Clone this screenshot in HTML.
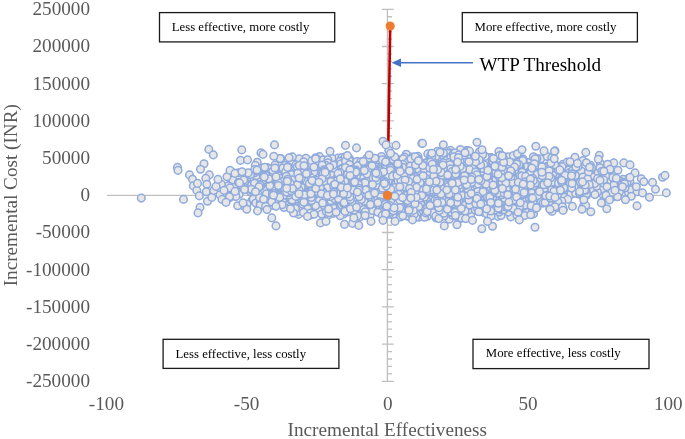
<!DOCTYPE html>
<html><head><meta charset="utf-8"><title>chart</title>
<style>html,body{margin:0;padding:0;background:#fff}svg{display:block}text{font-family:"Liberation Serif",serif}.c circle{r:3.8px}</style>
</head><body>
<svg width="685" height="439" viewBox="0 0 685 439" style="will-change:transform">
<rect width="685" height="439" fill="#fff"/>
<g font-size="19.2" fill="#595959"><text x="90" y="15.2" text-anchor="end">250000</text><text x="90" y="52.4" text-anchor="end">200000</text><text x="90" y="89.6" text-anchor="end">150000</text><text x="90" y="126.8" text-anchor="end">100000</text><text x="90" y="164.0" text-anchor="end">50000</text><text x="90" y="201.2" text-anchor="end">0</text><text x="90" y="238.4" text-anchor="end">-50000</text><text x="90" y="275.6" text-anchor="end">-100000</text><text x="90" y="312.8" text-anchor="end">-150000</text><text x="90" y="350.0" text-anchor="end">-200000</text><text x="90" y="387.2" text-anchor="end">-250000</text><text x="106.4" y="409.6" text-anchor="middle">-100</text><text x="246.6" y="409.6" text-anchor="middle">-50</text><text x="387.8" y="409.6" text-anchor="middle">0</text><text x="528.0" y="409.6" text-anchor="middle">50</text><text x="668.3" y="409.6" text-anchor="middle">100</text>
<text x="387.3" y="436.4" text-anchor="middle">Incremental Effectiveness</text>
<text transform="translate(17,195.2) rotate(-90)" text-anchor="middle">Incremental Cost (INR)</text>
</g>
<g stroke="#bfbfbf" stroke-width="1.3" fill="none">
<path d="M107 195.3H668.5"/>
<path d="M387.4 9.3V381.3"/>
<path d="M381.9 9.30H393.8M387.4 16.74H392M387.4 24.18H392M387.4 31.62H392M387.4 39.06H392M381.9 46.50H393.8M387.4 53.94H392M387.4 61.38H392M387.4 68.82H392M387.4 76.26H392M381.9 83.70H393.8M387.4 91.14H392M387.4 98.58H392M387.4 106.02H392M387.4 113.46H392M381.9 120.90H393.8M387.4 128.34H392M387.4 135.78H392M387.4 143.22H392M387.4 150.66H392M381.9 158.10H393.8M387.4 165.54H392M387.4 172.98H392M387.4 180.42H392M387.4 187.86H392M381.9 195.30H393.8M387.4 202.74H392M387.4 210.18H392M387.4 217.62H392M387.4 225.06H392M381.9 232.50H393.8M387.4 239.94H392M387.4 247.38H392M387.4 254.82H392M387.4 262.26H392M381.9 269.70H393.8M387.4 277.14H392M387.4 284.58H392M387.4 292.02H392M387.4 299.46H392M381.9 306.90H393.8M387.4 314.34H392M387.4 321.78H392M387.4 329.22H392M387.4 336.66H392M381.9 344.10H393.8M387.4 351.54H392M387.4 358.98H392M387.4 366.42H392M387.4 373.86H392M381.9 381.30H393.8"/>
</g>
<path d="M390.2 26L387.5 195.3" stroke="#c00000" stroke-width="2.6" fill="none"/>
<g fill="#e7e6e6" stroke="#8faadc" stroke-width="1.5" class="c"><circle cx="361.9" cy="181.5"/><circle cx="491.6" cy="175.2"/><circle cx="391.9" cy="199.3"/><circle cx="396.0" cy="181.3"/><circle cx="465.9" cy="156.2"/><circle cx="484.4" cy="209.8"/><circle cx="574.3" cy="175.4"/><circle cx="407.1" cy="213.5"/><circle cx="463.8" cy="201.9"/><circle cx="379.8" cy="173.0"/><circle cx="360.5" cy="202.2"/><circle cx="491.0" cy="157.6"/><circle cx="468.9" cy="187.3"/><circle cx="474.1" cy="162.1"/><circle cx="320.2" cy="184.5"/><circle cx="502.4" cy="160.2"/><circle cx="403.3" cy="196.7"/><circle cx="316.1" cy="191.6"/><circle cx="460.1" cy="176.5"/><circle cx="405.5" cy="160.6"/><circle cx="510.4" cy="196.5"/><circle cx="380.5" cy="192.8"/><circle cx="503.4" cy="200.7"/><circle cx="416.5" cy="172.0"/><circle cx="298.5" cy="214.4"/><circle cx="308.1" cy="209.9"/><circle cx="441.6" cy="181.8"/><circle cx="297.6" cy="186.6"/><circle cx="319.4" cy="189.7"/><circle cx="320.7" cy="195.2"/><circle cx="377.7" cy="192.6"/><circle cx="392.3" cy="189.3"/><circle cx="499.6" cy="184.6"/><circle cx="362.4" cy="197.3"/><circle cx="403.5" cy="183.0"/><circle cx="410.5" cy="187.7"/><circle cx="482.7" cy="197.7"/><circle cx="364.3" cy="196.9"/><circle cx="398.0" cy="199.9"/><circle cx="431.0" cy="187.9"/><circle cx="309.3" cy="200.3"/><circle cx="492.4" cy="215.2"/><circle cx="396.5" cy="193.5"/><circle cx="490.3" cy="169.9"/><circle cx="264.5" cy="176.6"/><circle cx="473.0" cy="171.1"/><circle cx="542.6" cy="191.4"/><circle cx="454.2" cy="176.4"/><circle cx="389.3" cy="169.5"/><circle cx="448.3" cy="175.5"/><circle cx="427.3" cy="172.1"/><circle cx="578.2" cy="192.6"/><circle cx="354.5" cy="203.5"/><circle cx="302.3" cy="191.7"/><circle cx="325.4" cy="178.1"/><circle cx="417.2" cy="172.1"/><circle cx="431.2" cy="211.6"/><circle cx="324.3" cy="160.3"/><circle cx="364.9" cy="176.4"/><circle cx="434.1" cy="176.8"/><circle cx="498.9" cy="178.2"/><circle cx="332.2" cy="175.8"/><circle cx="391.5" cy="179.1"/><circle cx="458.8" cy="209.7"/><circle cx="306.4" cy="185.6"/><circle cx="463.3" cy="174.7"/><circle cx="365.8" cy="204.7"/><circle cx="510.1" cy="188.7"/><circle cx="430.1" cy="194.5"/><circle cx="319.5" cy="156.6"/><circle cx="415.9" cy="175.6"/><circle cx="564.2" cy="188.7"/><circle cx="482.3" cy="200.6"/><circle cx="455.9" cy="200.0"/><circle cx="443.8" cy="188.8"/><circle cx="437.6" cy="180.8"/><circle cx="374.4" cy="160.0"/><circle cx="377.2" cy="189.8"/><circle cx="454.1" cy="203.4"/><circle cx="390.3" cy="197.0"/><circle cx="530.7" cy="178.6"/><circle cx="529.2" cy="184.2"/><circle cx="394.7" cy="159.9"/><circle cx="617.9" cy="170.2"/><circle cx="582.7" cy="196.0"/><circle cx="601.7" cy="202.7"/><circle cx="493.9" cy="170.7"/><circle cx="354.5" cy="186.5"/><circle cx="473.3" cy="205.4"/><circle cx="508.7" cy="167.3"/><circle cx="582.9" cy="183.5"/><circle cx="327.6" cy="193.2"/><circle cx="525.7" cy="171.6"/><circle cx="416.2" cy="209.9"/><circle cx="376.7" cy="193.5"/><circle cx="392.4" cy="186.5"/><circle cx="448.4" cy="184.3"/><circle cx="434.0" cy="192.0"/><circle cx="397.8" cy="193.8"/><circle cx="484.5" cy="161.0"/><circle cx="417.7" cy="163.8"/><circle cx="483.3" cy="176.3"/><circle cx="434.9" cy="189.4"/><circle cx="275.6" cy="174.1"/><circle cx="532.1" cy="174.9"/><circle cx="411.8" cy="183.0"/><circle cx="360.2" cy="177.6"/><circle cx="375.1" cy="201.7"/><circle cx="476.0" cy="191.5"/><circle cx="435.0" cy="161.9"/><circle cx="462.7" cy="160.8"/><circle cx="345.4" cy="169.7"/><circle cx="457.5" cy="168.6"/><circle cx="437.1" cy="168.2"/><circle cx="521.1" cy="165.2"/><circle cx="512.4" cy="186.4"/><circle cx="358.5" cy="200.7"/><circle cx="433.2" cy="205.9"/><circle cx="339.5" cy="196.2"/><circle cx="403.7" cy="164.7"/><circle cx="359.1" cy="213.8"/><circle cx="393.0" cy="214.9"/><circle cx="461.2" cy="174.7"/><circle cx="446.7" cy="174.4"/><circle cx="389.1" cy="183.0"/><circle cx="394.9" cy="169.0"/><circle cx="394.7" cy="197.2"/><circle cx="462.9" cy="171.3"/><circle cx="335.4" cy="172.0"/><circle cx="248.4" cy="186.9"/><circle cx="240.7" cy="184.3"/><circle cx="440.1" cy="166.5"/><circle cx="348.6" cy="197.0"/><circle cx="427.6" cy="204.8"/><circle cx="481.8" cy="201.3"/><circle cx="374.7" cy="161.9"/><circle cx="469.4" cy="173.2"/><circle cx="365.7" cy="185.2"/><circle cx="393.0" cy="175.4"/><circle cx="475.1" cy="187.2"/><circle cx="413.2" cy="178.4"/><circle cx="444.8" cy="181.7"/><circle cx="446.2" cy="182.8"/><circle cx="394.1" cy="203.2"/><circle cx="434.6" cy="181.9"/><circle cx="458.9" cy="172.1"/><circle cx="304.9" cy="186.0"/><circle cx="453.3" cy="167.9"/><circle cx="534.6" cy="192.7"/><circle cx="504.1" cy="176.8"/><circle cx="447.3" cy="191.3"/><circle cx="363.7" cy="193.2"/><circle cx="457.2" cy="183.4"/><circle cx="539.3" cy="162.3"/><circle cx="519.4" cy="181.2"/><circle cx="322.0" cy="184.2"/><circle cx="496.3" cy="158.7"/><circle cx="485.8" cy="188.1"/><circle cx="349.1" cy="165.4"/><circle cx="415.8" cy="182.1"/><circle cx="361.4" cy="182.8"/><circle cx="366.6" cy="189.7"/><circle cx="474.5" cy="207.6"/><circle cx="521.4" cy="198.1"/><circle cx="569.7" cy="171.8"/><circle cx="432.6" cy="171.7"/><circle cx="412.0" cy="193.9"/><circle cx="491.2" cy="191.7"/><circle cx="327.4" cy="186.5"/><circle cx="460.5" cy="202.5"/><circle cx="338.1" cy="158.0"/><circle cx="427.8" cy="205.2"/><circle cx="353.2" cy="190.2"/><circle cx="490.9" cy="173.4"/><circle cx="521.3" cy="189.9"/><circle cx="366.9" cy="202.5"/><circle cx="362.1" cy="194.2"/><circle cx="414.9" cy="179.4"/><circle cx="508.9" cy="161.5"/><circle cx="433.8" cy="174.8"/><circle cx="412.4" cy="173.1"/><circle cx="507.7" cy="180.3"/><circle cx="356.6" cy="184.5"/><circle cx="371.8" cy="169.4"/><circle cx="379.2" cy="167.7"/><circle cx="413.9" cy="202.9"/><circle cx="466.0" cy="188.0"/><circle cx="246.2" cy="175.4"/><circle cx="416.2" cy="192.9"/><circle cx="446.6" cy="189.1"/><circle cx="403.5" cy="189.1"/><circle cx="462.4" cy="189.1"/><circle cx="505.6" cy="186.8"/><circle cx="409.3" cy="179.5"/><circle cx="453.2" cy="188.4"/><circle cx="433.4" cy="186.9"/><circle cx="532.3" cy="191.5"/><circle cx="380.4" cy="197.0"/><circle cx="483.1" cy="154.4"/><circle cx="475.9" cy="194.4"/><circle cx="505.5" cy="161.7"/><circle cx="285.6" cy="206.5"/><circle cx="458.8" cy="169.7"/><circle cx="471.4" cy="194.7"/><circle cx="383.6" cy="169.2"/><circle cx="403.8" cy="169.4"/><circle cx="382.7" cy="186.7"/><circle cx="366.7" cy="170.1"/><circle cx="305.8" cy="184.3"/><circle cx="426.3" cy="196.3"/><circle cx="360.3" cy="181.3"/><circle cx="495.7" cy="186.1"/><circle cx="422.3" cy="168.6"/><circle cx="535.0" cy="158.1"/><circle cx="376.9" cy="180.7"/><circle cx="439.5" cy="162.0"/><circle cx="467.1" cy="182.4"/><circle cx="263.1" cy="173.1"/><circle cx="445.1" cy="192.0"/><circle cx="547.9" cy="170.3"/><circle cx="373.5" cy="173.0"/><circle cx="340.9" cy="190.8"/><circle cx="531.9" cy="188.9"/><circle cx="410.7" cy="165.7"/><circle cx="414.4" cy="170.7"/><circle cx="428.0" cy="175.1"/><circle cx="297.8" cy="171.4"/><circle cx="399.4" cy="182.4"/><circle cx="302.8" cy="178.7"/><circle cx="371.8" cy="195.8"/><circle cx="511.8" cy="183.2"/><circle cx="468.0" cy="179.5"/><circle cx="473.5" cy="197.1"/><circle cx="490.7" cy="212.2"/><circle cx="464.8" cy="188.5"/><circle cx="386.3" cy="184.5"/><circle cx="497.9" cy="216.4"/><circle cx="349.2" cy="158.3"/><circle cx="320.3" cy="180.6"/><circle cx="544.6" cy="195.3"/><circle cx="301.3" cy="173.4"/><circle cx="377.1" cy="177.2"/><circle cx="427.5" cy="167.0"/><circle cx="238.7" cy="191.4"/><circle cx="465.3" cy="156.2"/><circle cx="501.0" cy="187.5"/><circle cx="583.6" cy="205.6"/><circle cx="280.2" cy="184.1"/><circle cx="418.0" cy="173.6"/><circle cx="322.3" cy="192.3"/><circle cx="431.4" cy="188.5"/><circle cx="609.6" cy="198.7"/><circle cx="330.6" cy="189.7"/><circle cx="544.5" cy="183.2"/><circle cx="483.6" cy="194.3"/><circle cx="414.9" cy="168.0"/><circle cx="382.5" cy="208.7"/><circle cx="454.2" cy="198.7"/><circle cx="467.7" cy="168.9"/><circle cx="361.6" cy="175.0"/><circle cx="359.1" cy="182.9"/><circle cx="446.8" cy="185.7"/><circle cx="386.2" cy="184.8"/><circle cx="491.3" cy="196.1"/><circle cx="360.7" cy="209.5"/><circle cx="428.3" cy="189.1"/><circle cx="354.9" cy="168.3"/><circle cx="366.0" cy="171.7"/><circle cx="450.8" cy="165.2"/><circle cx="283.4" cy="170.1"/><circle cx="414.8" cy="160.1"/><circle cx="422.5" cy="181.5"/><circle cx="380.0" cy="181.3"/><circle cx="437.6" cy="170.4"/><circle cx="405.7" cy="178.0"/><circle cx="412.8" cy="184.4"/><circle cx="376.6" cy="192.4"/><circle cx="420.9" cy="177.4"/><circle cx="331.1" cy="180.8"/><circle cx="416.8" cy="176.3"/><circle cx="474.5" cy="188.7"/><circle cx="366.6" cy="195.1"/><circle cx="500.6" cy="159.1"/><circle cx="322.0" cy="206.4"/><circle cx="457.5" cy="189.4"/><circle cx="355.2" cy="188.9"/><circle cx="318.7" cy="195.2"/><circle cx="367.2" cy="195.4"/><circle cx="555.3" cy="190.5"/><circle cx="508.5" cy="184.7"/><circle cx="410.0" cy="179.6"/><circle cx="487.6" cy="190.5"/><circle cx="441.8" cy="171.8"/><circle cx="300.5" cy="186.3"/><circle cx="390.9" cy="189.7"/><circle cx="346.9" cy="191.3"/><circle cx="464.9" cy="163.3"/><circle cx="500.4" cy="180.3"/><circle cx="354.7" cy="164.8"/><circle cx="471.0" cy="195.6"/><circle cx="300.0" cy="192.5"/><circle cx="472.7" cy="196.9"/><circle cx="383.7" cy="196.1"/><circle cx="510.8" cy="216.9"/><circle cx="411.3" cy="178.9"/><circle cx="458.1" cy="167.4"/><circle cx="485.6" cy="209.0"/><circle cx="252.1" cy="181.2"/><circle cx="386.5" cy="180.5"/><circle cx="416.5" cy="191.3"/><circle cx="327.4" cy="198.3"/><circle cx="467.7" cy="185.9"/><circle cx="477.4" cy="164.1"/><circle cx="460.5" cy="207.2"/><circle cx="257.8" cy="184.4"/><circle cx="435.0" cy="207.6"/><circle cx="384.0" cy="169.1"/><circle cx="367.5" cy="215.4"/><circle cx="401.9" cy="195.2"/><circle cx="396.7" cy="205.2"/><circle cx="342.5" cy="192.8"/><circle cx="261.9" cy="181.4"/><circle cx="375.0" cy="191.3"/><circle cx="455.3" cy="193.9"/><circle cx="303.9" cy="190.2"/><circle cx="353.1" cy="173.6"/><circle cx="505.0" cy="186.6"/><circle cx="345.3" cy="184.0"/><circle cx="538.3" cy="179.8"/><circle cx="371.0" cy="174.5"/><circle cx="400.4" cy="190.4"/><circle cx="403.2" cy="196.6"/><circle cx="349.1" cy="179.2"/><circle cx="419.2" cy="200.8"/><circle cx="492.0" cy="173.3"/><circle cx="305.5" cy="164.1"/><circle cx="430.7" cy="184.1"/><circle cx="461.8" cy="158.5"/><circle cx="437.7" cy="158.5"/><circle cx="415.1" cy="175.1"/><circle cx="501.1" cy="215.5"/><circle cx="373.7" cy="199.9"/><circle cx="464.1" cy="186.8"/><circle cx="381.0" cy="181.4"/><circle cx="495.4" cy="189.3"/><circle cx="290.8" cy="181.1"/><circle cx="509.7" cy="172.9"/><circle cx="446.0" cy="198.5"/><circle cx="527.9" cy="162.6"/><circle cx="333.5" cy="176.9"/><circle cx="246.8" cy="183.2"/><circle cx="544.1" cy="190.9"/><circle cx="359.4" cy="193.8"/><circle cx="390.8" cy="170.0"/><circle cx="549.8" cy="208.5"/><circle cx="541.7" cy="188.6"/><circle cx="446.8" cy="162.0"/><circle cx="419.2" cy="196.6"/><circle cx="439.8" cy="201.2"/><circle cx="390.9" cy="182.6"/><circle cx="511.6" cy="164.1"/><circle cx="419.7" cy="167.5"/><circle cx="435.3" cy="188.1"/><circle cx="354.1" cy="172.5"/><circle cx="410.4" cy="194.8"/><circle cx="448.4" cy="178.9"/><circle cx="484.3" cy="197.3"/><circle cx="342.8" cy="197.6"/><circle cx="254.3" cy="185.5"/><circle cx="366.2" cy="196.7"/><circle cx="439.5" cy="191.8"/><circle cx="600.4" cy="192.5"/><circle cx="423.7" cy="187.5"/><circle cx="341.3" cy="203.2"/><circle cx="586.2" cy="192.9"/><circle cx="296.9" cy="211.9"/><circle cx="408.8" cy="182.7"/><circle cx="381.4" cy="172.5"/><circle cx="415.8" cy="160.0"/><circle cx="456.9" cy="188.5"/><circle cx="494.2" cy="204.4"/><circle cx="560.5" cy="173.8"/><circle cx="459.8" cy="156.9"/><circle cx="341.5" cy="193.7"/><circle cx="413.0" cy="185.5"/><circle cx="394.1" cy="181.2"/><circle cx="518.9" cy="179.4"/><circle cx="470.9" cy="176.5"/><circle cx="411.1" cy="217.4"/><circle cx="423.5" cy="186.7"/><circle cx="338.1" cy="188.5"/><circle cx="394.7" cy="187.1"/><circle cx="272.6" cy="192.2"/><circle cx="479.2" cy="170.9"/><circle cx="527.0" cy="175.7"/><circle cx="469.4" cy="171.5"/><circle cx="382.2" cy="214.7"/><circle cx="395.8" cy="191.9"/><circle cx="482.5" cy="154.5"/><circle cx="323.4" cy="187.8"/><circle cx="418.6" cy="188.2"/><circle cx="473.2" cy="187.9"/><circle cx="554.5" cy="181.5"/><circle cx="525.1" cy="186.8"/><circle cx="317.7" cy="167.9"/><circle cx="484.2" cy="196.3"/><circle cx="355.8" cy="169.7"/><circle cx="546.7" cy="189.0"/><circle cx="498.4" cy="181.1"/><circle cx="290.8" cy="187.8"/><circle cx="465.1" cy="162.6"/><circle cx="571.1" cy="191.8"/><circle cx="230.8" cy="186.3"/><circle cx="384.4" cy="174.7"/><circle cx="327.1" cy="214.8"/><circle cx="277.0" cy="200.6"/><circle cx="356.0" cy="199.8"/><circle cx="435.3" cy="196.6"/><circle cx="444.0" cy="203.9"/><circle cx="538.2" cy="187.9"/><circle cx="342.1" cy="180.5"/><circle cx="271.6" cy="186.0"/><circle cx="454.5" cy="163.8"/><circle cx="371.7" cy="187.9"/><circle cx="534.4" cy="168.1"/><circle cx="422.4" cy="198.0"/><circle cx="469.7" cy="187.2"/><circle cx="454.2" cy="159.0"/><circle cx="422.0" cy="187.2"/><circle cx="465.4" cy="185.8"/><circle cx="375.5" cy="194.1"/><circle cx="433.0" cy="186.1"/><circle cx="523.0" cy="170.4"/><circle cx="368.7" cy="182.8"/><circle cx="503.6" cy="176.1"/><circle cx="457.0" cy="188.3"/><circle cx="488.0" cy="184.4"/><circle cx="386.2" cy="211.6"/><circle cx="328.6" cy="189.9"/><circle cx="262.9" cy="180.8"/><circle cx="465.0" cy="189.3"/><circle cx="420.8" cy="178.8"/><circle cx="356.8" cy="163.7"/><circle cx="473.8" cy="182.6"/><circle cx="410.5" cy="184.4"/><circle cx="308.7" cy="192.6"/><circle cx="312.1" cy="162.1"/><circle cx="512.9" cy="177.3"/><circle cx="387.2" cy="186.6"/><circle cx="553.2" cy="185.0"/><circle cx="285.6" cy="186.7"/><circle cx="416.7" cy="199.9"/><circle cx="349.8" cy="184.1"/><circle cx="523.5" cy="177.1"/><circle cx="446.7" cy="212.2"/><circle cx="354.7" cy="180.5"/><circle cx="523.3" cy="196.8"/><circle cx="435.1" cy="213.7"/><circle cx="498.1" cy="183.0"/><circle cx="516.7" cy="194.2"/><circle cx="436.7" cy="192.6"/><circle cx="350.4" cy="184.0"/><circle cx="383.0" cy="206.1"/><circle cx="352.7" cy="191.8"/><circle cx="524.1" cy="183.1"/><circle cx="462.2" cy="179.4"/><circle cx="409.6" cy="189.4"/><circle cx="436.9" cy="187.0"/><circle cx="343.7" cy="179.9"/><circle cx="502.0" cy="197.8"/><circle cx="383.5" cy="192.1"/><circle cx="628.5" cy="192.6"/><circle cx="479.8" cy="167.1"/><circle cx="453.6" cy="181.9"/><circle cx="333.2" cy="178.7"/><circle cx="574.7" cy="189.4"/><circle cx="451.9" cy="195.4"/><circle cx="326.3" cy="187.3"/><circle cx="539.6" cy="182.1"/><circle cx="393.1" cy="187.4"/><circle cx="280.4" cy="185.7"/><circle cx="438.7" cy="174.2"/><circle cx="374.7" cy="168.1"/><circle cx="318.2" cy="171.1"/><circle cx="433.0" cy="175.8"/><circle cx="586.7" cy="195.0"/><circle cx="331.0" cy="173.2"/><circle cx="252.1" cy="200.3"/><circle cx="421.9" cy="195.1"/><circle cx="322.5" cy="183.6"/><circle cx="395.2" cy="179.1"/><circle cx="391.7" cy="209.7"/><circle cx="448.0" cy="172.8"/><circle cx="502.2" cy="177.8"/><circle cx="280.4" cy="193.9"/><circle cx="305.8" cy="191.1"/><circle cx="393.1" cy="180.8"/><circle cx="407.9" cy="186.9"/><circle cx="464.2" cy="175.0"/><circle cx="353.3" cy="191.4"/><circle cx="392.0" cy="181.4"/><circle cx="520.1" cy="196.2"/><circle cx="429.1" cy="184.1"/><circle cx="381.9" cy="212.4"/><circle cx="487.5" cy="165.9"/><circle cx="493.4" cy="184.3"/><circle cx="414.3" cy="174.2"/><circle cx="394.6" cy="196.1"/><circle cx="460.4" cy="157.9"/><circle cx="430.8" cy="196.6"/><circle cx="416.6" cy="184.9"/><circle cx="410.0" cy="169.6"/><circle cx="490.0" cy="167.7"/><circle cx="361.9" cy="198.0"/><circle cx="428.0" cy="167.4"/><circle cx="380.9" cy="172.0"/><circle cx="366.0" cy="193.2"/><circle cx="481.3" cy="176.6"/><circle cx="429.5" cy="179.2"/><circle cx="400.1" cy="204.9"/><circle cx="511.8" cy="198.5"/><circle cx="356.0" cy="207.0"/><circle cx="359.5" cy="193.1"/><circle cx="521.2" cy="172.2"/><circle cx="433.8" cy="176.6"/><circle cx="434.0" cy="193.4"/><circle cx="451.6" cy="212.5"/><circle cx="377.5" cy="194.5"/><circle cx="359.9" cy="182.4"/><circle cx="405.3" cy="173.6"/><circle cx="353.0" cy="170.4"/><circle cx="562.1" cy="185.4"/><circle cx="432.6" cy="170.9"/><circle cx="426.5" cy="184.8"/><circle cx="345.1" cy="176.4"/><circle cx="384.4" cy="184.5"/><circle cx="320.3" cy="199.1"/><circle cx="398.0" cy="197.0"/><circle cx="472.2" cy="185.3"/><circle cx="312.0" cy="189.3"/><circle cx="384.5" cy="165.9"/><circle cx="477.6" cy="189.8"/><circle cx="417.0" cy="212.0"/><circle cx="396.7" cy="201.7"/><circle cx="458.3" cy="172.6"/><circle cx="404.7" cy="176.7"/><circle cx="393.5" cy="169.8"/><circle cx="394.1" cy="174.3"/><circle cx="544.4" cy="201.7"/><circle cx="307.7" cy="201.6"/><circle cx="417.2" cy="187.4"/><circle cx="419.0" cy="163.7"/><circle cx="315.8" cy="200.5"/><circle cx="500.6" cy="182.0"/><circle cx="293.9" cy="192.7"/><circle cx="468.7" cy="178.2"/><circle cx="379.0" cy="181.8"/><circle cx="413.5" cy="188.1"/><circle cx="489.1" cy="211.7"/><circle cx="310.3" cy="192.2"/><circle cx="382.2" cy="185.1"/><circle cx="282.0" cy="187.8"/><circle cx="350.1" cy="191.4"/><circle cx="387.7" cy="201.0"/><circle cx="379.8" cy="194.3"/><circle cx="395.5" cy="169.2"/><circle cx="428.7" cy="167.0"/><circle cx="433.1" cy="173.1"/><circle cx="368.2" cy="197.3"/><circle cx="400.9" cy="181.5"/><circle cx="398.7" cy="182.8"/><circle cx="365.2" cy="187.0"/><circle cx="452.9" cy="193.6"/><circle cx="422.8" cy="185.6"/><circle cx="501.3" cy="183.5"/><circle cx="414.5" cy="187.6"/><circle cx="449.7" cy="189.4"/><circle cx="434.1" cy="159.7"/><circle cx="373.2" cy="164.7"/><circle cx="489.7" cy="201.1"/><circle cx="367.2" cy="200.9"/><circle cx="564.8" cy="191.5"/><circle cx="496.3" cy="189.4"/><circle cx="373.2" cy="179.2"/><circle cx="363.3" cy="169.2"/><circle cx="410.6" cy="171.6"/><circle cx="481.6" cy="200.0"/><circle cx="548.9" cy="187.9"/><circle cx="556.1" cy="183.5"/><circle cx="528.0" cy="185.2"/><circle cx="495.7" cy="188.9"/><circle cx="566.7" cy="178.2"/><circle cx="456.4" cy="192.3"/><circle cx="372.2" cy="185.8"/><circle cx="427.3" cy="189.2"/><circle cx="411.4" cy="180.7"/><circle cx="409.6" cy="181.2"/><circle cx="409.0" cy="180.4"/><circle cx="471.9" cy="202.0"/><circle cx="336.6" cy="194.0"/><circle cx="500.7" cy="162.6"/><circle cx="367.9" cy="178.1"/><circle cx="548.0" cy="181.8"/><circle cx="485.5" cy="189.5"/><circle cx="472.7" cy="202.7"/><circle cx="499.4" cy="190.7"/><circle cx="448.4" cy="165.4"/><circle cx="481.1" cy="167.4"/><circle cx="392.7" cy="198.3"/><circle cx="297.3" cy="183.6"/><circle cx="325.0" cy="206.4"/><circle cx="436.1" cy="218.0"/><circle cx="258.6" cy="177.4"/><circle cx="497.8" cy="166.9"/><circle cx="284.8" cy="188.2"/><circle cx="334.1" cy="182.8"/><circle cx="361.9" cy="184.1"/><circle cx="552.1" cy="191.9"/><circle cx="313.0" cy="184.7"/><circle cx="472.6" cy="186.7"/><circle cx="342.1" cy="171.4"/><circle cx="499.0" cy="175.1"/><circle cx="328.6" cy="214.9"/><circle cx="307.7" cy="165.0"/><circle cx="402.5" cy="177.5"/><circle cx="284.2" cy="187.2"/><circle cx="400.9" cy="167.8"/><circle cx="328.0" cy="188.4"/><circle cx="352.7" cy="172.5"/><circle cx="430.5" cy="182.9"/><circle cx="424.1" cy="191.5"/><circle cx="303.9" cy="189.8"/><circle cx="315.7" cy="157.8"/><circle cx="492.5" cy="174.1"/><circle cx="476.8" cy="180.1"/><circle cx="366.0" cy="181.6"/><circle cx="450.7" cy="174.5"/><circle cx="473.3" cy="163.4"/><circle cx="467.3" cy="199.1"/><circle cx="436.0" cy="182.8"/><circle cx="289.7" cy="185.5"/><circle cx="308.7" cy="178.2"/><circle cx="463.7" cy="192.0"/><circle cx="377.0" cy="173.4"/><circle cx="378.4" cy="194.2"/><circle cx="451.4" cy="205.2"/><circle cx="463.0" cy="170.0"/><circle cx="253.3" cy="199.0"/><circle cx="491.4" cy="167.2"/><circle cx="351.0" cy="167.8"/><circle cx="466.5" cy="185.3"/><circle cx="565.7" cy="175.5"/><circle cx="353.1" cy="185.3"/><circle cx="479.6" cy="189.3"/><circle cx="307.8" cy="192.5"/><circle cx="501.8" cy="167.0"/><circle cx="322.9" cy="197.8"/><circle cx="382.2" cy="189.4"/><circle cx="426.4" cy="179.5"/><circle cx="349.1" cy="174.9"/><circle cx="375.3" cy="186.4"/><circle cx="458.3" cy="217.2"/><circle cx="371.2" cy="183.6"/><circle cx="564.8" cy="172.5"/><circle cx="424.8" cy="193.1"/><circle cx="436.6" cy="186.9"/><circle cx="407.2" cy="179.3"/><circle cx="374.9" cy="207.3"/><circle cx="483.4" cy="209.8"/><circle cx="403.5" cy="194.2"/><circle cx="517.0" cy="182.5"/><circle cx="497.2" cy="164.0"/><circle cx="311.7" cy="194.1"/><circle cx="377.4" cy="190.5"/><circle cx="280.4" cy="177.5"/><circle cx="450.5" cy="175.9"/><circle cx="459.9" cy="170.2"/><circle cx="499.3" cy="212.1"/><circle cx="490.4" cy="192.2"/><circle cx="393.8" cy="206.7"/><circle cx="469.5" cy="178.6"/><circle cx="341.9" cy="157.6"/><circle cx="439.8" cy="173.0"/><circle cx="453.5" cy="166.3"/><circle cx="408.2" cy="179.6"/><circle cx="489.1" cy="167.5"/><circle cx="406.0" cy="179.9"/><circle cx="343.3" cy="166.4"/><circle cx="481.1" cy="191.6"/><circle cx="453.0" cy="191.5"/><circle cx="511.5" cy="161.4"/><circle cx="475.6" cy="186.5"/><circle cx="395.4" cy="179.8"/><circle cx="477.8" cy="190.5"/><circle cx="499.9" cy="183.5"/><circle cx="572.4" cy="179.5"/><circle cx="442.3" cy="202.5"/><circle cx="374.9" cy="200.8"/><circle cx="354.1" cy="192.7"/><circle cx="469.2" cy="155.6"/><circle cx="426.9" cy="177.5"/><circle cx="421.4" cy="184.1"/><circle cx="457.8" cy="171.0"/><circle cx="483.0" cy="160.3"/><circle cx="518.6" cy="171.5"/><circle cx="508.4" cy="201.6"/><circle cx="412.9" cy="184.7"/><circle cx="319.0" cy="169.8"/><circle cx="509.5" cy="165.9"/><circle cx="466.8" cy="162.6"/><circle cx="489.1" cy="184.8"/><circle cx="558.4" cy="185.8"/><circle cx="499.7" cy="195.6"/><circle cx="331.8" cy="187.5"/><circle cx="498.0" cy="185.1"/><circle cx="437.2" cy="198.8"/><circle cx="407.0" cy="191.5"/><circle cx="426.3" cy="174.1"/><circle cx="453.5" cy="185.2"/><circle cx="415.2" cy="162.6"/><circle cx="404.7" cy="168.7"/><circle cx="481.0" cy="182.6"/><circle cx="501.9" cy="207.0"/><circle cx="413.6" cy="200.4"/><circle cx="315.5" cy="168.4"/><circle cx="397.7" cy="200.6"/><circle cx="394.5" cy="201.7"/><circle cx="502.1" cy="175.5"/><circle cx="576.0" cy="172.5"/><circle cx="397.8" cy="197.9"/><circle cx="464.4" cy="202.9"/><circle cx="415.3" cy="159.4"/><circle cx="425.6" cy="162.8"/><circle cx="334.2" cy="172.1"/><circle cx="400.1" cy="191.1"/><circle cx="394.4" cy="167.9"/><circle cx="372.2" cy="183.0"/><circle cx="376.5" cy="169.7"/><circle cx="448.4" cy="171.0"/><circle cx="592.7" cy="192.6"/><circle cx="406.3" cy="162.7"/><circle cx="428.4" cy="188.1"/><circle cx="499.5" cy="160.8"/><circle cx="427.8" cy="153.9"/><circle cx="367.9" cy="206.2"/><circle cx="337.3" cy="167.5"/><circle cx="470.7" cy="168.4"/><circle cx="392.0" cy="184.7"/><circle cx="360.2" cy="205.6"/><circle cx="275.3" cy="168.6"/><circle cx="420.0" cy="197.2"/><circle cx="486.0" cy="157.6"/><circle cx="500.8" cy="209.7"/><circle cx="478.9" cy="167.7"/><circle cx="312.5" cy="172.4"/><circle cx="579.6" cy="185.8"/><circle cx="436.8" cy="165.7"/><circle cx="354.5" cy="200.1"/><circle cx="345.1" cy="196.6"/><circle cx="452.1" cy="178.5"/><circle cx="271.6" cy="199.3"/><circle cx="442.6" cy="196.6"/><circle cx="426.7" cy="177.0"/><circle cx="466.0" cy="181.7"/><circle cx="511.7" cy="177.6"/><circle cx="530.4" cy="201.1"/><circle cx="388.1" cy="167.7"/><circle cx="539.7" cy="189.5"/><circle cx="337.1" cy="188.4"/><circle cx="250.9" cy="177.3"/><circle cx="392.8" cy="187.1"/><circle cx="383.3" cy="193.5"/><circle cx="446.7" cy="162.3"/><circle cx="443.0" cy="189.2"/><circle cx="352.2" cy="174.2"/><circle cx="308.0" cy="181.8"/><circle cx="411.2" cy="173.7"/><circle cx="413.0" cy="163.9"/><circle cx="553.6" cy="175.1"/><circle cx="439.3" cy="175.1"/><circle cx="473.5" cy="171.5"/><circle cx="572.4" cy="206.4"/><circle cx="328.7" cy="187.4"/><circle cx="438.5" cy="171.4"/><circle cx="491.7" cy="194.9"/><circle cx="494.6" cy="158.8"/><circle cx="459.3" cy="212.3"/><circle cx="462.9" cy="174.9"/><circle cx="510.7" cy="181.5"/><circle cx="401.3" cy="191.4"/><circle cx="460.9" cy="189.2"/><circle cx="368.3" cy="195.8"/><circle cx="503.9" cy="200.9"/><circle cx="439.6" cy="172.0"/><circle cx="438.7" cy="197.5"/><circle cx="442.9" cy="166.8"/><circle cx="246.7" cy="181.3"/><circle cx="484.4" cy="212.3"/><circle cx="408.3" cy="196.7"/><circle cx="493.0" cy="184.8"/><circle cx="321.4" cy="193.6"/><circle cx="357.3" cy="176.7"/><circle cx="391.8" cy="155.2"/><circle cx="504.0" cy="185.6"/><circle cx="425.2" cy="199.4"/><circle cx="409.4" cy="160.8"/><circle cx="301.5" cy="172.3"/><circle cx="409.3" cy="215.7"/><circle cx="462.6" cy="173.9"/><circle cx="531.8" cy="182.9"/><circle cx="433.0" cy="176.0"/><circle cx="505.1" cy="181.7"/><circle cx="413.4" cy="199.5"/><circle cx="419.1" cy="201.4"/><circle cx="244.3" cy="188.0"/><circle cx="251.2" cy="184.9"/><circle cx="413.8" cy="174.5"/><circle cx="511.0" cy="163.0"/><circle cx="393.0" cy="192.7"/><circle cx="405.6" cy="206.8"/><circle cx="570.2" cy="178.7"/><circle cx="446.3" cy="168.7"/><circle cx="507.8" cy="185.0"/><circle cx="330.9" cy="186.9"/><circle cx="381.8" cy="171.9"/><circle cx="376.1" cy="164.5"/><circle cx="272.9" cy="205.4"/><circle cx="391.1" cy="181.1"/><circle cx="393.1" cy="180.6"/><circle cx="321.5" cy="185.8"/><circle cx="517.4" cy="173.1"/><circle cx="446.3" cy="206.5"/><circle cx="447.1" cy="157.1"/><circle cx="426.5" cy="212.5"/><circle cx="315.4" cy="181.2"/><circle cx="390.2" cy="187.5"/><circle cx="297.7" cy="162.4"/><circle cx="430.3" cy="201.0"/><circle cx="520.6" cy="207.2"/><circle cx="352.2" cy="177.5"/><circle cx="379.1" cy="199.8"/><circle cx="612.9" cy="195.3"/><circle cx="319.6" cy="205.9"/><circle cx="521.0" cy="188.5"/><circle cx="445.2" cy="196.0"/><circle cx="497.0" cy="172.1"/><circle cx="328.7" cy="178.5"/><circle cx="464.3" cy="198.5"/><circle cx="360.5" cy="210.5"/><circle cx="546.7" cy="168.3"/><circle cx="539.4" cy="173.3"/><circle cx="374.2" cy="197.9"/><circle cx="435.3" cy="164.6"/><circle cx="395.0" cy="173.0"/><circle cx="282.8" cy="170.5"/><circle cx="544.9" cy="200.3"/><circle cx="405.1" cy="169.5"/><circle cx="528.0" cy="191.5"/><circle cx="444.0" cy="178.1"/><circle cx="447.4" cy="202.7"/><circle cx="333.7" cy="187.1"/><circle cx="431.6" cy="189.7"/><circle cx="572.3" cy="192.3"/><circle cx="384.7" cy="189.8"/><circle cx="419.5" cy="193.6"/><circle cx="481.3" cy="187.4"/><circle cx="510.2" cy="180.7"/><circle cx="256.2" cy="175.7"/><circle cx="279.8" cy="166.0"/><circle cx="410.8" cy="178.9"/><circle cx="441.4" cy="198.2"/><circle cx="469.6" cy="204.3"/><circle cx="346.5" cy="191.0"/><circle cx="420.9" cy="169.0"/><circle cx="455.9" cy="187.2"/><circle cx="419.7" cy="180.0"/><circle cx="425.5" cy="173.6"/><circle cx="405.4" cy="183.5"/><circle cx="333.4" cy="213.3"/><circle cx="425.5" cy="175.3"/><circle cx="388.7" cy="176.7"/><circle cx="306.5" cy="185.9"/><circle cx="466.4" cy="182.2"/><circle cx="408.1" cy="200.8"/><circle cx="389.9" cy="186.6"/><circle cx="404.9" cy="178.8"/><circle cx="360.2" cy="166.2"/><circle cx="563.6" cy="181.4"/><circle cx="476.5" cy="176.4"/><circle cx="467.4" cy="154.9"/><circle cx="439.4" cy="206.5"/><circle cx="461.5" cy="186.8"/><circle cx="283.4" cy="176.5"/><circle cx="340.9" cy="201.9"/><circle cx="331.2" cy="190.1"/><circle cx="386.3" cy="194.4"/><circle cx="428.5" cy="185.7"/><circle cx="552.5" cy="199.9"/><circle cx="453.0" cy="180.8"/><circle cx="368.4" cy="176.3"/><circle cx="445.8" cy="184.7"/><circle cx="426.4" cy="186.0"/><circle cx="494.8" cy="197.4"/><circle cx="422.3" cy="175.8"/><circle cx="412.1" cy="186.9"/><circle cx="480.8" cy="187.4"/><circle cx="525.3" cy="172.8"/><circle cx="487.0" cy="192.7"/><circle cx="492.9" cy="177.0"/><circle cx="537.2" cy="185.8"/><circle cx="314.4" cy="175.0"/><circle cx="328.8" cy="191.7"/><circle cx="349.8" cy="169.6"/><circle cx="434.3" cy="208.3"/><circle cx="465.1" cy="189.5"/><circle cx="341.9" cy="169.0"/><circle cx="420.9" cy="182.4"/><circle cx="401.1" cy="164.7"/><circle cx="339.3" cy="174.4"/><circle cx="296.2" cy="177.1"/><circle cx="440.8" cy="195.6"/><circle cx="387.4" cy="193.4"/><circle cx="523.9" cy="185.5"/><circle cx="514.3" cy="174.9"/><circle cx="383.9" cy="158.7"/><circle cx="536.0" cy="188.7"/><circle cx="427.5" cy="179.6"/><circle cx="473.4" cy="162.8"/><circle cx="440.0" cy="182.2"/><circle cx="417.4" cy="196.3"/><circle cx="238.0" cy="192.4"/><circle cx="428.1" cy="172.4"/><circle cx="436.9" cy="158.7"/><circle cx="239.3" cy="194.2"/><circle cx="383.8" cy="196.3"/><circle cx="431.7" cy="190.8"/><circle cx="516.0" cy="192.5"/><circle cx="323.8" cy="167.9"/><circle cx="339.2" cy="180.6"/><circle cx="375.5" cy="184.4"/><circle cx="463.2" cy="182.9"/><circle cx="323.7" cy="203.5"/><circle cx="393.3" cy="171.4"/><circle cx="425.6" cy="193.2"/><circle cx="442.9" cy="188.4"/><circle cx="515.6" cy="179.5"/><circle cx="378.3" cy="182.5"/><circle cx="331.9" cy="201.5"/><circle cx="416.2" cy="161.4"/><circle cx="468.7" cy="196.4"/><circle cx="352.8" cy="162.1"/><circle cx="380.1" cy="169.2"/><circle cx="346.8" cy="205.7"/><circle cx="377.0" cy="182.6"/><circle cx="418.5" cy="197.5"/><circle cx="569.8" cy="177.7"/><circle cx="432.2" cy="180.0"/><circle cx="443.1" cy="188.7"/><circle cx="342.1" cy="173.9"/><circle cx="456.5" cy="189.0"/><circle cx="483.3" cy="180.7"/><circle cx="426.0" cy="175.1"/><circle cx="367.0" cy="183.3"/><circle cx="402.0" cy="197.3"/><circle cx="479.1" cy="172.1"/><circle cx="482.6" cy="200.3"/><circle cx="403.9" cy="195.6"/><circle cx="420.4" cy="169.6"/><circle cx="476.7" cy="175.0"/><circle cx="337.4" cy="179.8"/><circle cx="560.6" cy="178.5"/><circle cx="397.8" cy="178.4"/><circle cx="378.9" cy="192.0"/><circle cx="363.7" cy="178.9"/><circle cx="541.5" cy="181.6"/><circle cx="303.0" cy="193.2"/><circle cx="583.1" cy="189.6"/><circle cx="420.0" cy="198.1"/><circle cx="396.3" cy="177.2"/><circle cx="309.9" cy="215.3"/><circle cx="404.2" cy="203.7"/><circle cx="311.9" cy="175.9"/><circle cx="320.9" cy="182.4"/><circle cx="330.0" cy="202.2"/><circle cx="392.8" cy="195.9"/><circle cx="628.3" cy="178.5"/><circle cx="355.7" cy="174.8"/><circle cx="349.1" cy="177.7"/><circle cx="511.9" cy="190.2"/><circle cx="310.2" cy="203.2"/><circle cx="419.6" cy="198.7"/><circle cx="477.6" cy="200.5"/><circle cx="368.6" cy="182.6"/><circle cx="452.4" cy="178.9"/><circle cx="506.7" cy="182.6"/><circle cx="347.2" cy="187.6"/><circle cx="520.6" cy="198.8"/><circle cx="339.4" cy="187.4"/><circle cx="361.0" cy="164.8"/><circle cx="502.4" cy="192.0"/><circle cx="519.8" cy="188.5"/><circle cx="379.1" cy="174.8"/><circle cx="436.6" cy="216.4"/><circle cx="284.9" cy="166.5"/><circle cx="612.6" cy="183.0"/><circle cx="451.8" cy="178.7"/><circle cx="419.8" cy="181.6"/><circle cx="493.0" cy="201.7"/><circle cx="393.0" cy="190.5"/><circle cx="347.4" cy="188.3"/><circle cx="429.2" cy="173.5"/><circle cx="431.3" cy="178.8"/><circle cx="554.1" cy="175.9"/><circle cx="576.3" cy="165.3"/><circle cx="479.2" cy="186.5"/><circle cx="391.0" cy="187.5"/><circle cx="525.5" cy="210.3"/><circle cx="412.9" cy="193.2"/><circle cx="434.4" cy="172.2"/><circle cx="316.8" cy="182.1"/><circle cx="519.4" cy="213.5"/><circle cx="469.5" cy="157.8"/><circle cx="436.3" cy="198.9"/><circle cx="277.7" cy="180.8"/><circle cx="455.0" cy="181.6"/><circle cx="389.9" cy="183.4"/><circle cx="526.1" cy="168.3"/><circle cx="450.8" cy="174.1"/><circle cx="571.7" cy="193.9"/><circle cx="483.1" cy="192.4"/><circle cx="305.9" cy="158.3"/><circle cx="283.6" cy="167.9"/><circle cx="393.9" cy="168.2"/><circle cx="467.2" cy="188.8"/><circle cx="511.1" cy="183.3"/><circle cx="469.1" cy="190.4"/><circle cx="416.9" cy="206.2"/><circle cx="474.0" cy="171.9"/><circle cx="405.7" cy="182.5"/><circle cx="410.3" cy="203.7"/><circle cx="456.9" cy="179.9"/><circle cx="465.8" cy="172.4"/><circle cx="303.7" cy="185.6"/><circle cx="460.9" cy="178.5"/><circle cx="620.7" cy="183.6"/><circle cx="509.9" cy="171.2"/><circle cx="353.3" cy="193.7"/><circle cx="449.1" cy="184.1"/><circle cx="339.0" cy="191.7"/><circle cx="462.7" cy="192.9"/><circle cx="437.0" cy="204.3"/><circle cx="415.8" cy="185.5"/><circle cx="442.5" cy="182.2"/><circle cx="384.8" cy="182.6"/><circle cx="326.9" cy="175.2"/><circle cx="489.9" cy="187.1"/><circle cx="317.0" cy="181.5"/><circle cx="284.7" cy="173.0"/><circle cx="392.6" cy="193.8"/><circle cx="497.6" cy="175.9"/><circle cx="424.6" cy="185.6"/><circle cx="508.9" cy="189.1"/><circle cx="487.5" cy="183.1"/><circle cx="492.7" cy="180.5"/><circle cx="557.9" cy="179.6"/><circle cx="231.8" cy="181.5"/><circle cx="424.2" cy="174.2"/><circle cx="404.4" cy="175.0"/><circle cx="544.2" cy="184.3"/><circle cx="431.0" cy="158.4"/><circle cx="326.1" cy="189.4"/><circle cx="348.6" cy="179.9"/><circle cx="419.3" cy="197.8"/><circle cx="436.8" cy="187.3"/><circle cx="540.8" cy="158.7"/><circle cx="439.0" cy="169.0"/><circle cx="297.4" cy="190.6"/><circle cx="291.7" cy="203.0"/><circle cx="459.5" cy="179.2"/><circle cx="462.0" cy="197.6"/><circle cx="340.3" cy="180.3"/><circle cx="333.2" cy="188.0"/><circle cx="278.6" cy="175.9"/><circle cx="522.7" cy="176.8"/><circle cx="457.6" cy="179.2"/><circle cx="265.0" cy="190.1"/><circle cx="383.2" cy="174.2"/><circle cx="473.2" cy="200.1"/><circle cx="350.8" cy="203.8"/><circle cx="305.1" cy="210.5"/><circle cx="405.8" cy="164.5"/><circle cx="458.0" cy="197.6"/><circle cx="505.3" cy="175.4"/><circle cx="416.5" cy="209.4"/><circle cx="399.3" cy="182.6"/><circle cx="246.9" cy="204.1"/><circle cx="284.9" cy="165.3"/><circle cx="320.0" cy="178.1"/><circle cx="416.0" cy="173.5"/><circle cx="301.9" cy="181.6"/><circle cx="378.1" cy="193.8"/><circle cx="450.1" cy="177.0"/><circle cx="409.3" cy="202.2"/><circle cx="410.9" cy="161.6"/><circle cx="375.5" cy="202.6"/><circle cx="500.5" cy="178.0"/><circle cx="330.6" cy="176.3"/><circle cx="393.2" cy="171.5"/><circle cx="541.0" cy="171.3"/><circle cx="521.1" cy="176.7"/><circle cx="541.8" cy="195.3"/><circle cx="324.5" cy="180.8"/><circle cx="435.7" cy="192.6"/><circle cx="547.1" cy="166.4"/><circle cx="320.4" cy="184.4"/><circle cx="418.5" cy="164.9"/><circle cx="375.1" cy="190.2"/><circle cx="465.0" cy="188.2"/><circle cx="490.7" cy="170.3"/><circle cx="406.6" cy="190.5"/><circle cx="433.6" cy="199.0"/><circle cx="485.4" cy="204.5"/><circle cx="568.5" cy="169.5"/><circle cx="386.3" cy="161.5"/><circle cx="231.5" cy="171.7"/><circle cx="444.7" cy="184.4"/><circle cx="336.2" cy="178.2"/><circle cx="361.0" cy="162.9"/><circle cx="557.0" cy="176.9"/><circle cx="539.2" cy="181.7"/><circle cx="391.0" cy="154.7"/><circle cx="521.7" cy="185.1"/><circle cx="372.7" cy="184.0"/><circle cx="415.4" cy="189.6"/><circle cx="415.9" cy="177.8"/><circle cx="432.6" cy="181.4"/><circle cx="363.1" cy="180.0"/><circle cx="338.4" cy="187.1"/><circle cx="457.2" cy="195.3"/><circle cx="362.9" cy="198.4"/><circle cx="396.1" cy="190.7"/><circle cx="401.6" cy="166.0"/><circle cx="494.4" cy="182.2"/><circle cx="406.2" cy="167.2"/><circle cx="382.8" cy="202.4"/><circle cx="365.0" cy="174.9"/><circle cx="338.3" cy="172.1"/><circle cx="471.3" cy="198.3"/><circle cx="466.8" cy="200.3"/><circle cx="413.8" cy="196.5"/><circle cx="509.7" cy="207.2"/><circle cx="373.9" cy="177.9"/><circle cx="572.8" cy="167.2"/><circle cx="449.0" cy="185.4"/><circle cx="358.3" cy="180.0"/><circle cx="326.0" cy="163.9"/><circle cx="398.7" cy="168.9"/><circle cx="569.0" cy="182.0"/><circle cx="250.4" cy="191.7"/><circle cx="350.2" cy="171.2"/><circle cx="321.7" cy="204.3"/><circle cx="280.7" cy="158.5"/><circle cx="372.7" cy="185.0"/><circle cx="474.4" cy="195.0"/><circle cx="358.4" cy="169.7"/><circle cx="432.7" cy="170.5"/><circle cx="428.5" cy="199.2"/><circle cx="343.5" cy="187.0"/><circle cx="499.9" cy="161.1"/><circle cx="347.6" cy="186.9"/><circle cx="429.0" cy="166.2"/><circle cx="473.0" cy="164.9"/><circle cx="402.8" cy="182.0"/><circle cx="363.8" cy="187.0"/><circle cx="411.7" cy="215.3"/><circle cx="374.5" cy="195.9"/><circle cx="409.5" cy="186.3"/><circle cx="588.1" cy="186.5"/><circle cx="416.5" cy="208.3"/><circle cx="387.7" cy="175.4"/><circle cx="381.3" cy="172.7"/><circle cx="385.8" cy="173.1"/><circle cx="427.9" cy="188.9"/><circle cx="518.3" cy="183.4"/><circle cx="327.4" cy="175.5"/><circle cx="330.7" cy="189.8"/><circle cx="515.1" cy="171.2"/><circle cx="568.5" cy="182.1"/><circle cx="425.7" cy="174.0"/><circle cx="342.7" cy="192.0"/><circle cx="259.1" cy="207.2"/><circle cx="379.4" cy="176.2"/><circle cx="390.8" cy="184.4"/><circle cx="434.9" cy="189.2"/><circle cx="483.0" cy="186.9"/><circle cx="477.0" cy="192.0"/><circle cx="468.8" cy="189.0"/><circle cx="400.7" cy="186.5"/><circle cx="390.9" cy="210.9"/><circle cx="414.6" cy="170.0"/><circle cx="414.6" cy="189.8"/><circle cx="459.1" cy="196.9"/><circle cx="378.8" cy="202.4"/><circle cx="469.2" cy="196.6"/><circle cx="413.3" cy="169.8"/><circle cx="483.1" cy="208.7"/><circle cx="435.8" cy="181.2"/><circle cx="445.0" cy="207.1"/><circle cx="496.7" cy="170.2"/><circle cx="393.3" cy="210.7"/><circle cx="474.5" cy="186.9"/><circle cx="432.5" cy="196.2"/><circle cx="509.7" cy="182.7"/><circle cx="407.8" cy="167.2"/><circle cx="312.3" cy="172.9"/><circle cx="438.9" cy="198.8"/><circle cx="521.5" cy="182.7"/><circle cx="313.3" cy="210.1"/><circle cx="378.0" cy="181.8"/><circle cx="324.4" cy="193.2"/><circle cx="274.7" cy="179.9"/><circle cx="540.7" cy="174.6"/><circle cx="483.9" cy="187.4"/><circle cx="379.4" cy="193.4"/><circle cx="457.1" cy="179.9"/><circle cx="354.9" cy="190.2"/><circle cx="364.4" cy="177.4"/><circle cx="398.1" cy="187.3"/><circle cx="417.1" cy="212.5"/><circle cx="418.0" cy="156.4"/><circle cx="392.7" cy="203.7"/><circle cx="347.6" cy="183.2"/><circle cx="436.1" cy="177.5"/><circle cx="457.8" cy="189.0"/><circle cx="255.9" cy="203.0"/><circle cx="448.8" cy="198.1"/><circle cx="375.3" cy="193.9"/><circle cx="436.3" cy="187.2"/><circle cx="364.4" cy="171.7"/><circle cx="435.8" cy="189.9"/><circle cx="387.7" cy="159.3"/><circle cx="436.9" cy="207.7"/><circle cx="375.1" cy="210.9"/><circle cx="410.8" cy="172.0"/><circle cx="387.3" cy="196.5"/><circle cx="521.4" cy="175.7"/><circle cx="367.3" cy="198.0"/><circle cx="331.6" cy="200.3"/><circle cx="468.5" cy="177.2"/><circle cx="482.7" cy="171.3"/><circle cx="491.5" cy="176.4"/><circle cx="533.8" cy="197.7"/><circle cx="513.3" cy="191.8"/><circle cx="288.0" cy="205.4"/><circle cx="312.5" cy="189.0"/><circle cx="446.7" cy="181.2"/><circle cx="345.4" cy="184.2"/><circle cx="446.4" cy="212.0"/><circle cx="496.9" cy="190.5"/><circle cx="290.5" cy="194.6"/><circle cx="555.6" cy="197.4"/><circle cx="407.0" cy="178.0"/><circle cx="311.3" cy="169.5"/><circle cx="418.4" cy="159.3"/><circle cx="420.7" cy="203.6"/><circle cx="559.2" cy="207.0"/><circle cx="341.4" cy="196.0"/><circle cx="465.9" cy="184.0"/><circle cx="439.2" cy="173.2"/><circle cx="430.6" cy="166.8"/><circle cx="389.7" cy="174.3"/><circle cx="398.8" cy="166.4"/><circle cx="392.1" cy="184.9"/><circle cx="452.3" cy="204.1"/><circle cx="374.4" cy="172.4"/><circle cx="589.1" cy="188.9"/><circle cx="501.6" cy="168.5"/><circle cx="283.1" cy="189.8"/><circle cx="575.1" cy="189.1"/><circle cx="370.0" cy="190.3"/><circle cx="367.6" cy="178.6"/><circle cx="522.9" cy="159.4"/><circle cx="466.5" cy="150.5"/><circle cx="448.3" cy="196.2"/><circle cx="325.0" cy="188.2"/><circle cx="520.3" cy="187.5"/><circle cx="423.9" cy="187.4"/><circle cx="371.3" cy="178.5"/><circle cx="416.7" cy="195.3"/><circle cx="434.7" cy="170.9"/><circle cx="278.0" cy="193.9"/><circle cx="457.8" cy="191.4"/><circle cx="387.9" cy="183.8"/><circle cx="367.2" cy="214.2"/><circle cx="399.5" cy="186.3"/><circle cx="414.1" cy="179.6"/><circle cx="383.1" cy="181.7"/><circle cx="478.2" cy="211.3"/><circle cx="464.7" cy="198.1"/><circle cx="290.8" cy="189.1"/><circle cx="470.7" cy="198.5"/><circle cx="331.7" cy="181.0"/><circle cx="464.1" cy="162.5"/><circle cx="430.3" cy="198.4"/><circle cx="442.3" cy="193.7"/><circle cx="448.6" cy="173.5"/><circle cx="506.7" cy="198.6"/><circle cx="530.0" cy="170.4"/><circle cx="406.0" cy="164.5"/><circle cx="498.9" cy="158.2"/><circle cx="407.6" cy="181.6"/><circle cx="533.5" cy="213.9"/><circle cx="564.8" cy="183.3"/><circle cx="456.4" cy="185.9"/><circle cx="390.7" cy="177.8"/><circle cx="423.0" cy="202.6"/><circle cx="408.1" cy="168.6"/><circle cx="363.6" cy="188.9"/><circle cx="337.5" cy="176.7"/><circle cx="447.4" cy="184.3"/><circle cx="399.6" cy="182.7"/><circle cx="328.2" cy="181.5"/><circle cx="421.5" cy="194.8"/><circle cx="318.2" cy="187.1"/><circle cx="322.8" cy="160.1"/><circle cx="513.0" cy="185.9"/><circle cx="443.6" cy="179.2"/><circle cx="423.8" cy="197.9"/><circle cx="417.9" cy="168.2"/><circle cx="488.9" cy="168.9"/><circle cx="516.4" cy="172.9"/><circle cx="493.2" cy="196.0"/><circle cx="386.2" cy="177.6"/><circle cx="447.0" cy="182.8"/><circle cx="363.2" cy="199.1"/><circle cx="463.3" cy="192.3"/><circle cx="466.2" cy="176.5"/><circle cx="441.7" cy="181.5"/><circle cx="370.3" cy="170.3"/><circle cx="360.0" cy="203.7"/><circle cx="409.5" cy="189.5"/><circle cx="479.6" cy="180.5"/><circle cx="486.6" cy="176.2"/><circle cx="413.2" cy="181.1"/><circle cx="339.5" cy="174.4"/><circle cx="379.8" cy="165.7"/><circle cx="362.0" cy="193.3"/><circle cx="361.0" cy="179.9"/><circle cx="269.5" cy="200.9"/><circle cx="465.4" cy="189.8"/><circle cx="406.1" cy="178.5"/><circle cx="293.8" cy="180.3"/><circle cx="386.7" cy="167.9"/><circle cx="485.9" cy="181.4"/><circle cx="323.4" cy="159.7"/><circle cx="436.6" cy="184.0"/><circle cx="468.3" cy="167.4"/><circle cx="487.5" cy="205.3"/><circle cx="613.8" cy="196.4"/><circle cx="459.6" cy="163.6"/><circle cx="359.3" cy="169.8"/><circle cx="504.7" cy="172.2"/><circle cx="521.1" cy="179.3"/><circle cx="468.5" cy="185.3"/><circle cx="390.4" cy="212.5"/><circle cx="440.2" cy="203.7"/><circle cx="409.3" cy="199.0"/><circle cx="412.9" cy="186.1"/><circle cx="547.2" cy="156.5"/><circle cx="474.9" cy="164.2"/><circle cx="460.3" cy="201.0"/><circle cx="486.6" cy="190.8"/><circle cx="299.8" cy="201.4"/><circle cx="589.6" cy="178.8"/><circle cx="381.0" cy="201.3"/><circle cx="446.9" cy="173.4"/><circle cx="577.7" cy="175.5"/><circle cx="602.5" cy="188.3"/><circle cx="428.2" cy="203.7"/><circle cx="433.7" cy="206.3"/><circle cx="410.2" cy="179.3"/><circle cx="623.1" cy="179.3"/><circle cx="485.0" cy="183.9"/><circle cx="402.8" cy="196.6"/><circle cx="431.0" cy="163.1"/><circle cx="438.4" cy="161.1"/><circle cx="425.2" cy="214.6"/><circle cx="403.2" cy="184.7"/><circle cx="526.7" cy="186.8"/><circle cx="410.0" cy="196.6"/><circle cx="381.8" cy="185.9"/><circle cx="286.8" cy="175.4"/><circle cx="367.1" cy="187.7"/><circle cx="352.2" cy="181.0"/><circle cx="326.6" cy="210.8"/><circle cx="473.5" cy="159.4"/><circle cx="597.7" cy="184.8"/><circle cx="424.0" cy="190.7"/><circle cx="482.4" cy="190.2"/><circle cx="402.3" cy="173.3"/><circle cx="515.4" cy="177.0"/><circle cx="409.9" cy="180.0"/><circle cx="459.2" cy="203.0"/><circle cx="431.2" cy="188.3"/><circle cx="366.7" cy="158.4"/><circle cx="477.5" cy="182.0"/><circle cx="450.2" cy="165.1"/><circle cx="511.7" cy="200.2"/><circle cx="327.5" cy="183.2"/><circle cx="440.4" cy="153.8"/><circle cx="507.8" cy="189.7"/><circle cx="459.3" cy="218.8"/><circle cx="391.3" cy="196.7"/><circle cx="284.2" cy="180.6"/><circle cx="334.1" cy="174.4"/><circle cx="367.6" cy="207.0"/><circle cx="428.8" cy="177.1"/><circle cx="536.6" cy="194.2"/><circle cx="451.1" cy="198.3"/><circle cx="479.6" cy="151.5"/><circle cx="520.5" cy="181.0"/><circle cx="442.1" cy="174.1"/><circle cx="337.0" cy="190.6"/><circle cx="435.9" cy="195.9"/><circle cx="367.5" cy="189.2"/><circle cx="277.9" cy="195.5"/><circle cx="384.1" cy="163.2"/><circle cx="413.7" cy="164.1"/><circle cx="522.7" cy="186.1"/><circle cx="295.4" cy="166.9"/><circle cx="343.7" cy="212.3"/><circle cx="443.3" cy="208.4"/><circle cx="457.9" cy="194.3"/><circle cx="536.3" cy="198.2"/><circle cx="544.6" cy="167.3"/><circle cx="433.8" cy="172.0"/><circle cx="568.7" cy="170.1"/><circle cx="408.1" cy="196.3"/><circle cx="417.9" cy="178.0"/><circle cx="539.2" cy="178.1"/><circle cx="521.8" cy="190.5"/><circle cx="382.9" cy="207.1"/><circle cx="453.0" cy="184.4"/><circle cx="418.3" cy="194.4"/><circle cx="360.2" cy="167.2"/><circle cx="411.1" cy="208.8"/><circle cx="452.8" cy="169.7"/><circle cx="406.1" cy="170.6"/><circle cx="374.5" cy="188.0"/><circle cx="366.0" cy="202.8"/><circle cx="468.4" cy="204.8"/><circle cx="348.4" cy="185.2"/><circle cx="333.4" cy="207.0"/><circle cx="383.7" cy="171.0"/><circle cx="408.7" cy="179.8"/><circle cx="408.5" cy="179.9"/><circle cx="325.0" cy="193.1"/><circle cx="413.4" cy="188.9"/><circle cx="224.8" cy="195.3"/><circle cx="398.0" cy="209.4"/><circle cx="404.8" cy="177.3"/><circle cx="357.7" cy="205.3"/><circle cx="327.3" cy="182.6"/><circle cx="548.9" cy="180.0"/><circle cx="440.3" cy="180.9"/><circle cx="479.1" cy="160.9"/><circle cx="344.5" cy="172.8"/><circle cx="607.1" cy="181.7"/><circle cx="363.0" cy="210.1"/><circle cx="278.5" cy="189.8"/><circle cx="400.0" cy="199.2"/><circle cx="408.0" cy="162.5"/><circle cx="310.1" cy="211.8"/><circle cx="411.9" cy="194.3"/><circle cx="439.3" cy="188.4"/><circle cx="542.2" cy="200.1"/><circle cx="388.9" cy="192.8"/><circle cx="383.8" cy="176.3"/><circle cx="339.8" cy="185.0"/><circle cx="470.6" cy="215.6"/><circle cx="339.3" cy="190.7"/><circle cx="539.6" cy="196.6"/><circle cx="365.1" cy="198.6"/><circle cx="562.9" cy="164.4"/><circle cx="436.6" cy="198.7"/><circle cx="441.0" cy="158.5"/><circle cx="534.2" cy="178.7"/><circle cx="439.2" cy="172.3"/><circle cx="315.7" cy="161.7"/><circle cx="457.1" cy="185.5"/><circle cx="482.5" cy="199.0"/><circle cx="322.4" cy="187.1"/><circle cx="360.4" cy="189.4"/><circle cx="444.6" cy="164.5"/><circle cx="276.5" cy="188.2"/><circle cx="415.4" cy="168.5"/><circle cx="373.3" cy="171.7"/><circle cx="422.4" cy="205.3"/><circle cx="520.7" cy="179.5"/><circle cx="325.0" cy="192.8"/><circle cx="516.9" cy="176.2"/><circle cx="442.0" cy="206.1"/><circle cx="410.8" cy="180.6"/><circle cx="311.5" cy="173.1"/><circle cx="321.1" cy="198.6"/><circle cx="422.9" cy="183.3"/><circle cx="394.7" cy="192.1"/><circle cx="476.4" cy="198.9"/><circle cx="427.8" cy="168.9"/><circle cx="560.2" cy="180.7"/><circle cx="350.9" cy="185.6"/><circle cx="389.0" cy="161.5"/><circle cx="260.2" cy="203.4"/><circle cx="366.3" cy="185.2"/><circle cx="267.7" cy="196.7"/><circle cx="569.6" cy="172.6"/><circle cx="487.9" cy="192.7"/><circle cx="350.3" cy="176.3"/><circle cx="424.3" cy="175.5"/><circle cx="302.2" cy="181.0"/><circle cx="400.5" cy="168.6"/><circle cx="422.0" cy="176.4"/><circle cx="455.6" cy="181.7"/><circle cx="478.9" cy="206.6"/><circle cx="409.6" cy="202.6"/><circle cx="367.9" cy="181.9"/><circle cx="408.0" cy="178.1"/><circle cx="438.4" cy="170.1"/><circle cx="243.4" cy="205.8"/><circle cx="510.0" cy="187.1"/><circle cx="446.2" cy="187.6"/><circle cx="404.5" cy="186.0"/><circle cx="426.4" cy="199.3"/><circle cx="276.1" cy="192.8"/><circle cx="385.3" cy="177.3"/><circle cx="537.9" cy="196.6"/><circle cx="371.3" cy="185.4"/><circle cx="389.3" cy="181.6"/><circle cx="493.5" cy="193.6"/><circle cx="408.4" cy="206.2"/><circle cx="523.7" cy="185.3"/><circle cx="306.1" cy="199.2"/><circle cx="423.5" cy="170.8"/><circle cx="352.3" cy="188.1"/><circle cx="444.6" cy="174.8"/><circle cx="325.5" cy="195.9"/><circle cx="346.9" cy="175.7"/><circle cx="406.4" cy="154.5"/><circle cx="380.2" cy="194.3"/><circle cx="369.7" cy="170.9"/><circle cx="483.1" cy="175.7"/><circle cx="493.7" cy="185.3"/><circle cx="447.8" cy="187.6"/><circle cx="411.6" cy="174.3"/><circle cx="306.8" cy="182.8"/><circle cx="484.3" cy="181.0"/><circle cx="415.4" cy="197.3"/><circle cx="394.9" cy="191.2"/><circle cx="440.2" cy="185.4"/><circle cx="416.8" cy="192.7"/><circle cx="553.4" cy="185.9"/><circle cx="553.4" cy="196.3"/><circle cx="460.5" cy="193.4"/><circle cx="289.4" cy="197.9"/><circle cx="414.7" cy="173.8"/><circle cx="387.9" cy="169.8"/><circle cx="470.0" cy="165.0"/><circle cx="466.4" cy="197.9"/><circle cx="471.5" cy="191.8"/><circle cx="408.5" cy="182.3"/><circle cx="357.4" cy="203.1"/><circle cx="355.9" cy="174.5"/><circle cx="244.7" cy="181.6"/><circle cx="350.7" cy="202.8"/><circle cx="461.8" cy="164.9"/><circle cx="341.7" cy="186.0"/><circle cx="560.3" cy="203.9"/><circle cx="391.9" cy="190.7"/><circle cx="308.4" cy="191.9"/><circle cx="486.8" cy="202.0"/><circle cx="493.5" cy="199.2"/><circle cx="376.0" cy="179.5"/><circle cx="379.9" cy="189.4"/><circle cx="370.6" cy="186.9"/><circle cx="575.9" cy="175.4"/><circle cx="335.7" cy="194.5"/><circle cx="400.5" cy="193.6"/><circle cx="409.6" cy="206.0"/><circle cx="533.3" cy="181.4"/><circle cx="475.2" cy="166.5"/><circle cx="437.1" cy="207.9"/><circle cx="434.6" cy="212.1"/><circle cx="240.6" cy="184.7"/><circle cx="335.5" cy="200.3"/><circle cx="395.1" cy="189.8"/><circle cx="306.3" cy="185.3"/><circle cx="349.2" cy="202.9"/><circle cx="486.1" cy="199.4"/><circle cx="430.5" cy="199.0"/><circle cx="482.9" cy="196.8"/><circle cx="456.5" cy="191.3"/><circle cx="419.4" cy="211.8"/><circle cx="433.5" cy="157.0"/><circle cx="408.0" cy="162.3"/><circle cx="490.1" cy="175.7"/><circle cx="434.7" cy="191.1"/><circle cx="631.1" cy="189.8"/><circle cx="339.6" cy="183.6"/><circle cx="499.3" cy="191.7"/><circle cx="468.4" cy="203.8"/><circle cx="566.9" cy="196.9"/><circle cx="519.8" cy="175.9"/><circle cx="430.7" cy="212.9"/><circle cx="427.2" cy="212.8"/><circle cx="546.6" cy="187.8"/><circle cx="356.5" cy="174.1"/><circle cx="402.0" cy="164.7"/><circle cx="361.0" cy="189.5"/><circle cx="499.4" cy="192.6"/><circle cx="432.8" cy="176.1"/><circle cx="340.7" cy="191.7"/><circle cx="437.7" cy="189.9"/><circle cx="498.8" cy="175.5"/><circle cx="461.8" cy="190.0"/><circle cx="585.9" cy="188.3"/><circle cx="517.8" cy="176.4"/><circle cx="352.7" cy="178.9"/><circle cx="436.5" cy="193.8"/><circle cx="432.7" cy="194.1"/><circle cx="445.0" cy="182.7"/><circle cx="482.4" cy="171.0"/><circle cx="532.3" cy="194.9"/><circle cx="387.0" cy="192.3"/><circle cx="428.0" cy="180.4"/><circle cx="521.0" cy="172.0"/><circle cx="411.8" cy="177.5"/><circle cx="479.6" cy="169.7"/><circle cx="583.1" cy="194.1"/><circle cx="417.5" cy="181.2"/><circle cx="400.6" cy="192.4"/><circle cx="508.8" cy="192.1"/><circle cx="373.5" cy="173.6"/><circle cx="346.3" cy="181.4"/><circle cx="409.7" cy="192.4"/><circle cx="462.0" cy="179.3"/><circle cx="366.5" cy="191.4"/><circle cx="398.6" cy="159.7"/><circle cx="446.3" cy="206.9"/><circle cx="381.3" cy="175.7"/><circle cx="460.5" cy="157.7"/><circle cx="447.6" cy="166.2"/><circle cx="447.6" cy="174.1"/><circle cx="489.6" cy="187.1"/><circle cx="558.1" cy="171.0"/><circle cx="407.8" cy="216.3"/><circle cx="384.8" cy="183.1"/><circle cx="441.7" cy="189.1"/><circle cx="406.7" cy="179.8"/><circle cx="482.6" cy="174.5"/><circle cx="424.2" cy="185.4"/><circle cx="395.6" cy="200.2"/><circle cx="438.6" cy="180.5"/><circle cx="479.9" cy="195.7"/><circle cx="441.8" cy="202.6"/><circle cx="352.1" cy="201.8"/><circle cx="388.5" cy="177.1"/><circle cx="520.2" cy="167.7"/><circle cx="409.0" cy="174.1"/><circle cx="504.8" cy="195.5"/><circle cx="559.3" cy="186.6"/><circle cx="440.3" cy="179.0"/><circle cx="265.2" cy="169.9"/><circle cx="431.8" cy="190.2"/><circle cx="430.7" cy="186.6"/><circle cx="446.3" cy="200.1"/><circle cx="489.0" cy="173.5"/><circle cx="534.4" cy="190.0"/><circle cx="502.6" cy="176.5"/><circle cx="525.4" cy="193.9"/><circle cx="498.9" cy="151.5"/><circle cx="513.8" cy="197.5"/><circle cx="506.4" cy="180.9"/><circle cx="393.6" cy="188.5"/><circle cx="436.1" cy="195.9"/><circle cx="450.6" cy="201.7"/><circle cx="499.0" cy="195.7"/><circle cx="399.0" cy="182.5"/><circle cx="358.9" cy="175.2"/><circle cx="372.9" cy="196.0"/><circle cx="358.4" cy="185.4"/><circle cx="357.4" cy="192.1"/><circle cx="331.0" cy="198.1"/><circle cx="384.5" cy="202.4"/><circle cx="472.9" cy="179.7"/><circle cx="299.5" cy="173.9"/><circle cx="350.7" cy="167.7"/><circle cx="465.7" cy="202.8"/><circle cx="620.5" cy="181.3"/><circle cx="525.2" cy="165.2"/><circle cx="504.3" cy="193.0"/><circle cx="502.1" cy="162.9"/><circle cx="485.1" cy="180.2"/><circle cx="442.3" cy="191.3"/><circle cx="293.9" cy="194.0"/><circle cx="468.1" cy="181.6"/><circle cx="521.5" cy="195.3"/><circle cx="358.8" cy="183.7"/><circle cx="370.3" cy="178.3"/><circle cx="358.8" cy="194.4"/><circle cx="489.3" cy="202.3"/><circle cx="504.5" cy="192.5"/><circle cx="388.4" cy="183.3"/><circle cx="290.4" cy="184.8"/><circle cx="506.7" cy="164.1"/><circle cx="314.6" cy="180.9"/><circle cx="235.4" cy="196.3"/><circle cx="373.1" cy="193.3"/><circle cx="383.6" cy="201.1"/><circle cx="533.5" cy="186.5"/><circle cx="460.3" cy="168.9"/><circle cx="590.6" cy="165.4"/><circle cx="573.8" cy="185.4"/><circle cx="348.4" cy="180.3"/><circle cx="466.8" cy="199.7"/><circle cx="237.7" cy="205.7"/><circle cx="484.7" cy="174.9"/><circle cx="443.5" cy="170.4"/><circle cx="435.4" cy="182.4"/><circle cx="491.7" cy="186.0"/><circle cx="442.6" cy="183.8"/><circle cx="471.1" cy="183.3"/><circle cx="390.5" cy="201.8"/><circle cx="288.1" cy="185.3"/><circle cx="402.9" cy="199.9"/><circle cx="391.7" cy="184.3"/><circle cx="448.5" cy="192.0"/><circle cx="342.3" cy="181.7"/><circle cx="477.6" cy="186.6"/><circle cx="375.1" cy="202.3"/><circle cx="436.4" cy="210.1"/><circle cx="437.3" cy="151.4"/><circle cx="396.1" cy="198.2"/><circle cx="419.6" cy="187.3"/><circle cx="411.6" cy="171.7"/><circle cx="428.6" cy="200.7"/><circle cx="366.0" cy="187.6"/><circle cx="428.9" cy="188.7"/><circle cx="472.2" cy="177.8"/><circle cx="308.5" cy="174.4"/><circle cx="375.4" cy="181.7"/><circle cx="438.9" cy="155.6"/><circle cx="507.3" cy="192.3"/><circle cx="364.6" cy="206.8"/><circle cx="339.1" cy="189.8"/><circle cx="372.2" cy="204.1"/><circle cx="531.0" cy="168.5"/><circle cx="363.9" cy="195.4"/><circle cx="468.3" cy="193.1"/><circle cx="447.8" cy="163.6"/><circle cx="505.6" cy="165.7"/><circle cx="417.3" cy="178.4"/><circle cx="448.5" cy="184.0"/><circle cx="407.1" cy="198.3"/><circle cx="325.2" cy="168.5"/><circle cx="441.8" cy="167.6"/><circle cx="354.3" cy="184.3"/><circle cx="549.6" cy="204.1"/><circle cx="490.7" cy="184.8"/><circle cx="463.0" cy="193.2"/><circle cx="455.0" cy="185.8"/><circle cx="428.5" cy="165.1"/><circle cx="458.0" cy="193.6"/><circle cx="479.1" cy="207.7"/><circle cx="494.4" cy="194.3"/><circle cx="560.6" cy="191.5"/><circle cx="338.3" cy="184.1"/><circle cx="462.8" cy="201.9"/><circle cx="348.4" cy="159.8"/><circle cx="287.6" cy="192.5"/><circle cx="334.4" cy="183.6"/><circle cx="405.7" cy="214.6"/><circle cx="509.3" cy="179.2"/><circle cx="410.0" cy="191.9"/><circle cx="381.0" cy="167.0"/><circle cx="391.9" cy="204.3"/><circle cx="281.4" cy="193.9"/><circle cx="508.5" cy="178.3"/><circle cx="474.6" cy="173.3"/><circle cx="379.7" cy="188.1"/><circle cx="279.7" cy="189.9"/><circle cx="354.6" cy="186.7"/><circle cx="341.6" cy="205.1"/><circle cx="471.3" cy="167.7"/><circle cx="492.3" cy="181.3"/><circle cx="288.5" cy="178.9"/><circle cx="481.1" cy="184.3"/><circle cx="500.9" cy="173.1"/><circle cx="474.0" cy="187.8"/><circle cx="504.6" cy="182.8"/><circle cx="459.4" cy="187.2"/><circle cx="482.4" cy="188.8"/><circle cx="445.3" cy="177.0"/><circle cx="383.4" cy="190.2"/><circle cx="508.2" cy="212.1"/><circle cx="434.4" cy="211.0"/><circle cx="369.6" cy="190.5"/><circle cx="317.4" cy="172.4"/><circle cx="422.3" cy="194.8"/><circle cx="294.0" cy="182.2"/><circle cx="550.1" cy="184.5"/><circle cx="460.1" cy="191.6"/><circle cx="515.3" cy="194.1"/><circle cx="439.7" cy="160.2"/><circle cx="340.1" cy="181.9"/><circle cx="449.7" cy="205.8"/><circle cx="385.9" cy="184.2"/><circle cx="366.6" cy="202.7"/><circle cx="370.7" cy="188.1"/><circle cx="376.8" cy="177.6"/><circle cx="364.0" cy="187.2"/><circle cx="448.2" cy="188.3"/><circle cx="364.4" cy="182.6"/><circle cx="519.7" cy="184.3"/><circle cx="567.2" cy="162.1"/><circle cx="373.0" cy="200.0"/><circle cx="449.9" cy="170.6"/><circle cx="465.8" cy="200.9"/><circle cx="413.1" cy="196.7"/><circle cx="484.9" cy="180.5"/><circle cx="602.7" cy="194.2"/><circle cx="505.3" cy="157.1"/><circle cx="426.2" cy="173.5"/><circle cx="314.0" cy="187.5"/><circle cx="333.0" cy="187.9"/><circle cx="406.6" cy="186.3"/><circle cx="527.1" cy="185.7"/><circle cx="393.5" cy="190.8"/><circle cx="412.1" cy="199.9"/><circle cx="450.4" cy="150.4"/><circle cx="447.3" cy="190.7"/><circle cx="500.8" cy="208.0"/><circle cx="483.5" cy="176.3"/><circle cx="360.2" cy="179.7"/><circle cx="402.4" cy="192.1"/><circle cx="410.7" cy="162.4"/><circle cx="264.5" cy="181.3"/><circle cx="424.5" cy="164.4"/><circle cx="472.9" cy="160.6"/><circle cx="449.5" cy="152.8"/><circle cx="324.9" cy="191.3"/><circle cx="281.0" cy="187.5"/><circle cx="552.8" cy="186.7"/><circle cx="413.3" cy="173.9"/><circle cx="407.2" cy="168.4"/><circle cx="257.2" cy="162.2"/><circle cx="389.3" cy="214.3"/><circle cx="456.0" cy="216.4"/><circle cx="418.0" cy="193.0"/><circle cx="552.5" cy="203.6"/><circle cx="499.2" cy="207.0"/><circle cx="433.7" cy="166.5"/><circle cx="329.5" cy="182.1"/><circle cx="399.8" cy="168.4"/><circle cx="623.0" cy="182.8"/><circle cx="416.8" cy="176.3"/><circle cx="475.5" cy="179.3"/><circle cx="396.9" cy="169.3"/><circle cx="446.7" cy="190.0"/><circle cx="238.3" cy="172.7"/><circle cx="543.4" cy="174.4"/><circle cx="317.4" cy="210.6"/><circle cx="366.8" cy="186.5"/><circle cx="466.4" cy="193.1"/><circle cx="533.5" cy="166.9"/><circle cx="573.2" cy="186.1"/><circle cx="570.3" cy="178.7"/><circle cx="627.6" cy="181.1"/><circle cx="501.7" cy="172.4"/><circle cx="488.7" cy="165.7"/><circle cx="293.5" cy="186.8"/><circle cx="380.6" cy="197.3"/><circle cx="436.6" cy="191.3"/><circle cx="327.7" cy="162.6"/><circle cx="507.6" cy="196.9"/><circle cx="468.6" cy="193.3"/><circle cx="312.5" cy="192.0"/><circle cx="512.8" cy="187.7"/><circle cx="490.7" cy="159.6"/><circle cx="443.1" cy="186.5"/><circle cx="387.2" cy="203.5"/><circle cx="290.7" cy="169.7"/><circle cx="480.4" cy="205.9"/><circle cx="380.6" cy="211.3"/><circle cx="465.1" cy="165.2"/><circle cx="432.5" cy="201.1"/><circle cx="423.0" cy="184.7"/><circle cx="373.7" cy="175.8"/><circle cx="316.0" cy="184.0"/><circle cx="349.2" cy="178.2"/><circle cx="419.2" cy="199.7"/><circle cx="471.8" cy="167.5"/><circle cx="287.4" cy="172.5"/><circle cx="430.6" cy="199.8"/><circle cx="328.8" cy="201.9"/><circle cx="393.8" cy="161.3"/><circle cx="581.3" cy="171.0"/><circle cx="340.4" cy="186.0"/><circle cx="439.7" cy="182.3"/><circle cx="327.2" cy="176.8"/><circle cx="523.1" cy="159.1"/><circle cx="363.1" cy="186.6"/><circle cx="342.3" cy="200.6"/><circle cx="419.1" cy="217.1"/><circle cx="365.9" cy="182.6"/><circle cx="296.5" cy="176.4"/><circle cx="547.0" cy="173.2"/><circle cx="369.5" cy="177.3"/><circle cx="542.4" cy="199.3"/><circle cx="444.7" cy="196.0"/><circle cx="436.9" cy="180.8"/><circle cx="407.0" cy="187.9"/><circle cx="441.0" cy="170.7"/><circle cx="497.5" cy="188.3"/><circle cx="571.4" cy="191.1"/><circle cx="323.4" cy="184.1"/><circle cx="492.5" cy="183.4"/><circle cx="452.8" cy="156.4"/><circle cx="472.5" cy="167.9"/><circle cx="270.4" cy="171.7"/><circle cx="471.1" cy="185.1"/><circle cx="349.0" cy="160.8"/><circle cx="472.9" cy="179.8"/><circle cx="424.7" cy="197.7"/><circle cx="376.5" cy="159.0"/><circle cx="415.1" cy="215.2"/><circle cx="421.5" cy="199.3"/><circle cx="462.9" cy="189.5"/><circle cx="379.3" cy="171.9"/><circle cx="374.0" cy="180.3"/><circle cx="235.2" cy="193.1"/><circle cx="391.6" cy="197.0"/><circle cx="513.9" cy="158.4"/><circle cx="529.9" cy="166.9"/><circle cx="299.0" cy="158.9"/><circle cx="348.0" cy="192.5"/><circle cx="446.7" cy="172.9"/><circle cx="551.7" cy="188.6"/><circle cx="427.0" cy="163.4"/><circle cx="330.9" cy="201.5"/><circle cx="288.7" cy="184.7"/><circle cx="500.8" cy="155.1"/><circle cx="381.9" cy="187.5"/><circle cx="515.8" cy="205.5"/><circle cx="267.7" cy="183.3"/><circle cx="483.4" cy="177.3"/><circle cx="407.2" cy="178.1"/><circle cx="394.3" cy="187.0"/><circle cx="383.0" cy="196.1"/><circle cx="562.0" cy="166.5"/><circle cx="454.9" cy="168.3"/><circle cx="377.5" cy="183.7"/><circle cx="442.7" cy="194.7"/><circle cx="461.0" cy="188.7"/><circle cx="362.5" cy="185.9"/><circle cx="457.0" cy="164.3"/><circle cx="502.7" cy="171.0"/><circle cx="446.7" cy="188.9"/><circle cx="344.2" cy="199.3"/><circle cx="549.1" cy="185.3"/><circle cx="383.9" cy="200.9"/><circle cx="357.3" cy="172.5"/><circle cx="381.9" cy="201.7"/><circle cx="384.0" cy="195.4"/><circle cx="397.7" cy="188.2"/><circle cx="524.6" cy="215.5"/><circle cx="446.1" cy="172.8"/><circle cx="406.3" cy="185.2"/><circle cx="366.7" cy="183.6"/><circle cx="444.6" cy="196.9"/><circle cx="535.5" cy="189.1"/><circle cx="542.8" cy="197.3"/><circle cx="456.2" cy="180.3"/><circle cx="324.2" cy="173.4"/><circle cx="437.1" cy="183.0"/><circle cx="414.6" cy="175.9"/><circle cx="503.9" cy="209.7"/><circle cx="363.9" cy="175.1"/><circle cx="491.0" cy="191.6"/><circle cx="447.5" cy="201.6"/><circle cx="382.2" cy="182.7"/><circle cx="394.4" cy="189.2"/><circle cx="344.0" cy="199.4"/><circle cx="431.1" cy="190.3"/><circle cx="418.5" cy="186.9"/><circle cx="437.1" cy="162.3"/><circle cx="269.9" cy="202.3"/><circle cx="465.4" cy="212.2"/><circle cx="520.3" cy="194.7"/><circle cx="352.8" cy="184.1"/><circle cx="572.9" cy="185.9"/><circle cx="403.6" cy="196.7"/><circle cx="378.2" cy="172.1"/><circle cx="548.2" cy="166.6"/><circle cx="399.4" cy="183.1"/><circle cx="423.1" cy="170.0"/><circle cx="398.1" cy="173.6"/><circle cx="303.9" cy="191.6"/><circle cx="276.3" cy="199.3"/><circle cx="444.4" cy="169.6"/><circle cx="443.5" cy="155.8"/><circle cx="422.9" cy="199.6"/><circle cx="444.1" cy="198.3"/><circle cx="519.6" cy="202.3"/><circle cx="389.9" cy="187.3"/><circle cx="464.1" cy="174.4"/><circle cx="437.7" cy="169.2"/><circle cx="282.3" cy="200.7"/><circle cx="407.7" cy="182.8"/><circle cx="431.8" cy="195.5"/><circle cx="491.6" cy="194.6"/><circle cx="604.3" cy="184.6"/><circle cx="267.0" cy="167.5"/><circle cx="422.7" cy="186.8"/><circle cx="317.4" cy="185.8"/><circle cx="395.6" cy="174.2"/><circle cx="516.0" cy="190.4"/><circle cx="412.5" cy="183.1"/><circle cx="314.0" cy="210.0"/><circle cx="561.1" cy="178.8"/><circle cx="411.8" cy="185.0"/><circle cx="373.5" cy="206.1"/><circle cx="530.1" cy="185.8"/><circle cx="530.7" cy="191.5"/><circle cx="343.1" cy="159.9"/><circle cx="468.3" cy="168.3"/><circle cx="251.7" cy="190.3"/><circle cx="514.8" cy="187.9"/><circle cx="445.7" cy="201.3"/><circle cx="278.5" cy="199.3"/><circle cx="286.0" cy="172.3"/><circle cx="320.2" cy="194.2"/><circle cx="368.6" cy="175.1"/><circle cx="427.7" cy="190.5"/><circle cx="411.2" cy="185.7"/><circle cx="500.3" cy="197.4"/><circle cx="415.0" cy="186.3"/><circle cx="486.9" cy="198.4"/><circle cx="327.3" cy="197.5"/><circle cx="368.4" cy="203.5"/><circle cx="281.6" cy="202.5"/><circle cx="488.7" cy="207.1"/><circle cx="370.1" cy="169.9"/><circle cx="366.7" cy="178.8"/><circle cx="398.5" cy="173.6"/><circle cx="351.1" cy="207.0"/><circle cx="407.3" cy="186.6"/><circle cx="391.3" cy="168.1"/><circle cx="401.9" cy="201.9"/><circle cx="437.7" cy="184.0"/><circle cx="467.5" cy="150.9"/><circle cx="307.2" cy="185.2"/><circle cx="430.1" cy="205.7"/><circle cx="392.6" cy="195.2"/><circle cx="401.9" cy="176.4"/><circle cx="486.2" cy="197.6"/><circle cx="463.1" cy="182.7"/><circle cx="434.4" cy="192.5"/><circle cx="507.1" cy="194.0"/><circle cx="291.6" cy="185.2"/><circle cx="432.9" cy="194.1"/><circle cx="420.0" cy="182.5"/><circle cx="472.1" cy="182.4"/><circle cx="281.6" cy="191.6"/><circle cx="345.3" cy="203.3"/><circle cx="321.7" cy="182.9"/><circle cx="402.5" cy="185.3"/><circle cx="364.5" cy="178.1"/><circle cx="559.3" cy="187.0"/><circle cx="328.8" cy="180.4"/><circle cx="410.1" cy="182.7"/><circle cx="388.5" cy="175.8"/><circle cx="448.8" cy="180.8"/><circle cx="401.0" cy="189.5"/><circle cx="412.7" cy="193.0"/><circle cx="469.4" cy="184.4"/><circle cx="401.2" cy="163.9"/><circle cx="373.9" cy="205.1"/><circle cx="450.0" cy="188.8"/><circle cx="600.2" cy="190.0"/><circle cx="429.8" cy="191.2"/><circle cx="379.8" cy="199.9"/><circle cx="449.3" cy="219.3"/><circle cx="367.0" cy="173.3"/><circle cx="418.6" cy="189.4"/><circle cx="467.9" cy="183.0"/><circle cx="554.3" cy="173.3"/><circle cx="373.0" cy="182.8"/><circle cx="420.1" cy="195.9"/><circle cx="424.1" cy="198.6"/><circle cx="384.0" cy="175.7"/><circle cx="413.1" cy="185.1"/><circle cx="394.6" cy="197.3"/><circle cx="458.5" cy="166.5"/><circle cx="482.9" cy="204.2"/><circle cx="402.9" cy="195.9"/><circle cx="373.9" cy="190.6"/><circle cx="345.3" cy="186.4"/><circle cx="397.2" cy="188.7"/><circle cx="346.4" cy="166.6"/><circle cx="305.0" cy="185.8"/><circle cx="503.9" cy="204.6"/><circle cx="331.0" cy="201.0"/><circle cx="327.5" cy="197.8"/><circle cx="348.7" cy="184.2"/><circle cx="428.4" cy="206.4"/><circle cx="480.2" cy="211.6"/><circle cx="380.0" cy="184.4"/><circle cx="475.5" cy="185.9"/><circle cx="407.2" cy="174.5"/><circle cx="346.7" cy="174.4"/><circle cx="301.3" cy="185.3"/><circle cx="547.8" cy="166.3"/><circle cx="418.1" cy="173.2"/><circle cx="288.0" cy="166.6"/><circle cx="461.9" cy="185.2"/><circle cx="492.9" cy="183.8"/><circle cx="342.4" cy="179.0"/><circle cx="436.1" cy="172.3"/><circle cx="391.2" cy="192.7"/><circle cx="432.6" cy="162.7"/><circle cx="339.5" cy="190.7"/><circle cx="359.8" cy="173.9"/><circle cx="457.0" cy="190.5"/><circle cx="457.1" cy="187.6"/><circle cx="428.1" cy="198.6"/><circle cx="404.2" cy="175.0"/><circle cx="514.5" cy="187.7"/><circle cx="423.0" cy="207.3"/><circle cx="389.7" cy="170.9"/><circle cx="420.2" cy="199.0"/><circle cx="528.6" cy="190.1"/><circle cx="423.0" cy="175.9"/><circle cx="446.7" cy="194.5"/><circle cx="391.6" cy="173.3"/><circle cx="346.8" cy="188.1"/><circle cx="458.5" cy="181.6"/><circle cx="365.2" cy="184.2"/><circle cx="366.1" cy="198.4"/><circle cx="347.2" cy="176.5"/><circle cx="427.4" cy="216.3"/><circle cx="468.2" cy="163.7"/><circle cx="425.7" cy="188.9"/><circle cx="425.9" cy="176.0"/><circle cx="392.0" cy="168.3"/><circle cx="486.5" cy="164.4"/><circle cx="477.9" cy="162.3"/><circle cx="523.2" cy="197.9"/><circle cx="505.4" cy="177.7"/><circle cx="447.7" cy="193.7"/><circle cx="393.9" cy="167.9"/><circle cx="410.5" cy="180.1"/><circle cx="487.1" cy="176.1"/><circle cx="507.2" cy="207.5"/><circle cx="448.9" cy="185.9"/><circle cx="478.7" cy="196.5"/><circle cx="340.1" cy="161.2"/><circle cx="330.7" cy="194.2"/><circle cx="382.0" cy="177.7"/><circle cx="409.4" cy="182.3"/><circle cx="449.6" cy="185.2"/><circle cx="493.2" cy="179.3"/><circle cx="412.6" cy="194.4"/><circle cx="397.1" cy="194.2"/><circle cx="403.4" cy="186.2"/><circle cx="471.1" cy="188.0"/><circle cx="384.9" cy="207.3"/><circle cx="476.8" cy="180.7"/><circle cx="479.9" cy="208.2"/><circle cx="484.5" cy="212.7"/><circle cx="425.4" cy="187.4"/><circle cx="427.5" cy="210.3"/><circle cx="439.6" cy="199.3"/><circle cx="447.3" cy="198.5"/><circle cx="453.1" cy="186.6"/><circle cx="455.2" cy="171.9"/><circle cx="431.3" cy="175.1"/><circle cx="430.1" cy="176.8"/><circle cx="533.6" cy="201.8"/><circle cx="407.2" cy="201.0"/><circle cx="343.7" cy="203.7"/><circle cx="514.3" cy="167.9"/><circle cx="321.9" cy="208.3"/><circle cx="467.8" cy="168.3"/><circle cx="291.0" cy="206.4"/><circle cx="365.6" cy="170.6"/><circle cx="330.7" cy="196.4"/><circle cx="416.7" cy="187.2"/><circle cx="482.3" cy="176.3"/><circle cx="230.9" cy="184.8"/><circle cx="345.2" cy="156.7"/><circle cx="352.8" cy="193.0"/><circle cx="492.0" cy="202.4"/><circle cx="629.9" cy="181.1"/><circle cx="428.1" cy="198.4"/><circle cx="293.7" cy="190.1"/><circle cx="432.8" cy="179.7"/><circle cx="534.5" cy="186.2"/><circle cx="536.7" cy="198.7"/><circle cx="375.3" cy="171.3"/><circle cx="273.7" cy="191.2"/><circle cx="495.1" cy="179.5"/><circle cx="358.8" cy="170.1"/><circle cx="365.0" cy="176.8"/><circle cx="339.3" cy="196.3"/><circle cx="394.5" cy="166.7"/><circle cx="362.9" cy="185.0"/><circle cx="435.9" cy="173.4"/><circle cx="397.3" cy="203.7"/><circle cx="446.6" cy="198.9"/><circle cx="422.9" cy="205.8"/><circle cx="406.3" cy="168.2"/><circle cx="373.9" cy="194.8"/><circle cx="387.1" cy="185.2"/><circle cx="311.7" cy="178.4"/><circle cx="342.9" cy="187.2"/><circle cx="499.6" cy="187.3"/><circle cx="415.5" cy="188.5"/><circle cx="505.5" cy="174.5"/><circle cx="251.7" cy="185.4"/><circle cx="304.6" cy="183.1"/><circle cx="464.8" cy="169.1"/><circle cx="361.8" cy="179.6"/><circle cx="329.6" cy="199.4"/><circle cx="403.8" cy="160.8"/><circle cx="479.7" cy="177.5"/><circle cx="372.7" cy="178.4"/><circle cx="508.5" cy="156.9"/><circle cx="389.1" cy="194.2"/><circle cx="416.1" cy="208.0"/><circle cx="451.9" cy="186.8"/><circle cx="455.7" cy="161.3"/><circle cx="324.5" cy="191.1"/><circle cx="340.9" cy="163.8"/><circle cx="427.9" cy="165.0"/><circle cx="447.9" cy="201.8"/><circle cx="459.6" cy="186.2"/><circle cx="558.5" cy="185.2"/><circle cx="387.5" cy="161.0"/><circle cx="432.8" cy="196.6"/><circle cx="308.6" cy="165.5"/><circle cx="482.7" cy="205.8"/><circle cx="472.7" cy="158.9"/><circle cx="555.9" cy="207.7"/><circle cx="502.5" cy="199.0"/><circle cx="510.1" cy="183.8"/><circle cx="391.6" cy="183.6"/><circle cx="437.4" cy="160.2"/><circle cx="347.6" cy="192.7"/><circle cx="524.5" cy="196.3"/><circle cx="460.5" cy="199.3"/><circle cx="412.5" cy="186.7"/><circle cx="378.3" cy="178.2"/><circle cx="380.3" cy="178.4"/><circle cx="441.6" cy="191.6"/><circle cx="478.3" cy="164.2"/><circle cx="287.6" cy="197.0"/><circle cx="594.6" cy="182.3"/><circle cx="313.8" cy="171.2"/><circle cx="410.2" cy="161.4"/><circle cx="400.5" cy="194.5"/><circle cx="515.7" cy="187.7"/><circle cx="393.4" cy="207.2"/><circle cx="298.5" cy="179.2"/><circle cx="454.1" cy="171.9"/><circle cx="329.2" cy="180.5"/><circle cx="407.5" cy="183.2"/><circle cx="553.5" cy="201.4"/><circle cx="426.3" cy="169.2"/><circle cx="420.8" cy="198.9"/><circle cx="388.8" cy="185.6"/><circle cx="391.8" cy="179.6"/><circle cx="266.5" cy="188.7"/><circle cx="521.0" cy="179.5"/><circle cx="417.5" cy="190.5"/><circle cx="336.2" cy="173.2"/><circle cx="419.5" cy="165.4"/><circle cx="492.4" cy="205.4"/><circle cx="498.2" cy="205.2"/><circle cx="322.9" cy="181.2"/><circle cx="374.6" cy="202.6"/><circle cx="450.9" cy="192.3"/><circle cx="440.9" cy="215.4"/><circle cx="464.2" cy="153.5"/><circle cx="296.2" cy="175.9"/><circle cx="336.4" cy="190.2"/><circle cx="418.2" cy="196.5"/><circle cx="422.7" cy="194.6"/><circle cx="346.2" cy="195.3"/><circle cx="287.8" cy="193.7"/><circle cx="403.4" cy="178.6"/><circle cx="404.4" cy="183.5"/><circle cx="457.3" cy="201.5"/><circle cx="350.0" cy="176.6"/><circle cx="457.7" cy="208.0"/><circle cx="496.3" cy="182.0"/><circle cx="449.8" cy="183.1"/><circle cx="363.8" cy="171.1"/><circle cx="413.6" cy="174.9"/><circle cx="479.9" cy="197.7"/><circle cx="264.3" cy="190.1"/><circle cx="416.0" cy="181.1"/><circle cx="449.8" cy="158.5"/><circle cx="457.2" cy="200.9"/><circle cx="366.0" cy="187.6"/><circle cx="330.7" cy="183.8"/><circle cx="401.5" cy="175.8"/><circle cx="371.0" cy="204.7"/><circle cx="468.5" cy="197.3"/><circle cx="342.3" cy="198.8"/><circle cx="431.7" cy="180.9"/><circle cx="476.2" cy="173.0"/><circle cx="368.3" cy="179.3"/><circle cx="412.7" cy="178.0"/><circle cx="332.5" cy="202.6"/><circle cx="418.8" cy="197.3"/><circle cx="410.8" cy="178.3"/><circle cx="412.3" cy="179.3"/><circle cx="477.2" cy="179.1"/><circle cx="392.3" cy="173.4"/><circle cx="341.8" cy="187.4"/><circle cx="397.8" cy="191.2"/><circle cx="455.7" cy="195.6"/><circle cx="315.4" cy="170.6"/><circle cx="426.3" cy="174.7"/><circle cx="494.6" cy="171.2"/><circle cx="311.6" cy="192.8"/><circle cx="368.0" cy="186.8"/><circle cx="370.8" cy="195.9"/><circle cx="428.7" cy="173.4"/><circle cx="327.7" cy="184.3"/><circle cx="468.1" cy="168.7"/><circle cx="427.2" cy="169.4"/><circle cx="425.7" cy="180.7"/><circle cx="394.1" cy="184.7"/><circle cx="367.7" cy="180.6"/><circle cx="431.4" cy="182.4"/><circle cx="320.4" cy="195.4"/><circle cx="407.8" cy="215.9"/><circle cx="392.8" cy="186.4"/><circle cx="350.0" cy="182.7"/><circle cx="380.3" cy="207.6"/><circle cx="366.1" cy="175.1"/><circle cx="427.0" cy="193.2"/><circle cx="395.2" cy="196.1"/><circle cx="467.4" cy="192.4"/><circle cx="509.0" cy="172.3"/><circle cx="497.1" cy="180.9"/><circle cx="439.3" cy="178.9"/><circle cx="454.9" cy="180.3"/><circle cx="409.3" cy="182.9"/><circle cx="429.1" cy="199.9"/><circle cx="254.5" cy="183.3"/><circle cx="282.0" cy="188.9"/><circle cx="358.3" cy="205.1"/><circle cx="357.8" cy="166.6"/><circle cx="466.8" cy="198.8"/><circle cx="381.8" cy="196.9"/><circle cx="354.0" cy="171.3"/><circle cx="494.0" cy="195.7"/><circle cx="380.6" cy="165.5"/><circle cx="353.7" cy="188.7"/><circle cx="572.2" cy="173.1"/><circle cx="315.4" cy="180.0"/><circle cx="415.5" cy="212.7"/><circle cx="504.0" cy="194.1"/><circle cx="323.6" cy="201.1"/><circle cx="448.0" cy="153.4"/><circle cx="339.3" cy="174.6"/><circle cx="424.8" cy="193.0"/><circle cx="386.2" cy="166.6"/><circle cx="535.6" cy="201.1"/><circle cx="310.0" cy="191.6"/><circle cx="484.3" cy="197.4"/><circle cx="428.4" cy="206.5"/><circle cx="504.4" cy="183.7"/><circle cx="441.3" cy="195.1"/><circle cx="419.6" cy="187.0"/><circle cx="451.6" cy="210.7"/><circle cx="342.1" cy="175.2"/><circle cx="451.2" cy="174.1"/><circle cx="467.6" cy="178.3"/><circle cx="346.6" cy="181.9"/><circle cx="486.1" cy="166.4"/><circle cx="485.8" cy="177.7"/><circle cx="255.3" cy="165.4"/><circle cx="260.6" cy="186.3"/><circle cx="436.9" cy="207.9"/><circle cx="456.5" cy="210.1"/><circle cx="389.2" cy="181.3"/><circle cx="428.6" cy="187.1"/><circle cx="365.8" cy="176.2"/><circle cx="367.9" cy="184.7"/><circle cx="356.6" cy="206.0"/><circle cx="536.9" cy="158.6"/><circle cx="403.8" cy="187.7"/><circle cx="460.2" cy="201.3"/><circle cx="416.3" cy="169.3"/><circle cx="511.7" cy="189.7"/><circle cx="392.6" cy="177.8"/><circle cx="488.8" cy="169.5"/><circle cx="432.4" cy="198.9"/><circle cx="522.3" cy="182.2"/><circle cx="353.2" cy="208.7"/><circle cx="392.6" cy="198.1"/><circle cx="406.4" cy="168.1"/><circle cx="427.4" cy="186.7"/><circle cx="468.9" cy="184.1"/><circle cx="490.6" cy="198.2"/><circle cx="410.9" cy="178.1"/><circle cx="514.0" cy="190.8"/><circle cx="366.3" cy="204.3"/><circle cx="454.7" cy="179.1"/><circle cx="322.0" cy="182.4"/><circle cx="399.3" cy="203.6"/><circle cx="471.3" cy="205.4"/><circle cx="465.1" cy="178.4"/><circle cx="581.4" cy="183.9"/><circle cx="265.4" cy="179.7"/><circle cx="456.9" cy="200.5"/><circle cx="580.4" cy="182.3"/><circle cx="406.7" cy="191.8"/><circle cx="360.3" cy="172.6"/><circle cx="451.2" cy="175.1"/><circle cx="436.8" cy="171.5"/><circle cx="399.1" cy="205.3"/><circle cx="533.7" cy="179.5"/><circle cx="421.1" cy="196.3"/><circle cx="370.6" cy="170.6"/><circle cx="466.8" cy="184.0"/><circle cx="434.8" cy="159.6"/><circle cx="470.6" cy="181.6"/><circle cx="515.9" cy="201.2"/><circle cx="476.1" cy="173.5"/><circle cx="568.4" cy="176.2"/><circle cx="506.9" cy="179.8"/><circle cx="446.4" cy="166.1"/><circle cx="301.1" cy="185.0"/><circle cx="259.5" cy="197.6"/><circle cx="444.4" cy="165.4"/><circle cx="500.0" cy="200.8"/><circle cx="476.7" cy="197.1"/><circle cx="366.9" cy="164.6"/><circle cx="500.0" cy="180.3"/><circle cx="447.4" cy="191.1"/><circle cx="479.7" cy="189.4"/><circle cx="366.8" cy="184.0"/><circle cx="371.7" cy="187.3"/><circle cx="479.9" cy="201.9"/><circle cx="420.1" cy="165.3"/><circle cx="510.0" cy="164.4"/><circle cx="517.6" cy="162.2"/><circle cx="452.6" cy="196.3"/><circle cx="376.0" cy="179.0"/><circle cx="331.4" cy="189.8"/><circle cx="349.3" cy="178.9"/><circle cx="410.5" cy="197.8"/><circle cx="394.4" cy="187.6"/><circle cx="541.2" cy="169.8"/><circle cx="485.6" cy="198.5"/><circle cx="465.1" cy="188.0"/><circle cx="385.8" cy="175.4"/><circle cx="471.0" cy="199.6"/><circle cx="551.8" cy="157.8"/><circle cx="526.9" cy="205.0"/><circle cx="457.2" cy="187.9"/><circle cx="414.7" cy="194.4"/><circle cx="480.3" cy="175.2"/><circle cx="345.7" cy="188.9"/><circle cx="446.6" cy="171.8"/><circle cx="396.0" cy="191.0"/><circle cx="396.1" cy="191.9"/><circle cx="348.4" cy="167.1"/><circle cx="411.3" cy="180.0"/><circle cx="324.7" cy="187.2"/><circle cx="375.4" cy="179.2"/><circle cx="343.6" cy="214.0"/><circle cx="355.1" cy="185.1"/><circle cx="447.5" cy="170.2"/><circle cx="372.1" cy="194.3"/><circle cx="268.0" cy="178.4"/><circle cx="496.0" cy="164.4"/><circle cx="412.6" cy="186.5"/><circle cx="395.2" cy="205.3"/><circle cx="371.1" cy="170.1"/><circle cx="376.4" cy="160.2"/><circle cx="490.6" cy="157.5"/><circle cx="446.4" cy="194.2"/><circle cx="464.7" cy="169.1"/><circle cx="370.2" cy="215.0"/><circle cx="451.4" cy="193.4"/><circle cx="422.6" cy="170.1"/><circle cx="474.1" cy="209.4"/><circle cx="414.2" cy="167.9"/><circle cx="484.8" cy="178.4"/><circle cx="508.4" cy="184.8"/><circle cx="344.8" cy="201.8"/><circle cx="370.6" cy="192.8"/><circle cx="441.8" cy="194.3"/><circle cx="294.1" cy="177.3"/><circle cx="415.2" cy="179.8"/><circle cx="462.0" cy="188.3"/><circle cx="349.9" cy="178.5"/><circle cx="409.7" cy="191.8"/><circle cx="404.3" cy="197.2"/><circle cx="458.6" cy="187.2"/><circle cx="459.3" cy="183.6"/><circle cx="478.6" cy="207.5"/><circle cx="535.3" cy="192.8"/><circle cx="282.8" cy="192.9"/><circle cx="447.1" cy="167.4"/><circle cx="354.8" cy="187.9"/><circle cx="363.5" cy="196.2"/><circle cx="397.2" cy="160.2"/><circle cx="539.7" cy="183.9"/><circle cx="315.4" cy="186.1"/><circle cx="454.1" cy="174.2"/><circle cx="475.2" cy="200.8"/><circle cx="327.6" cy="173.2"/><circle cx="346.4" cy="178.5"/><circle cx="549.7" cy="201.4"/><circle cx="441.7" cy="178.4"/><circle cx="485.4" cy="180.9"/><circle cx="388.4" cy="176.8"/><circle cx="420.5" cy="181.3"/><circle cx="420.6" cy="176.0"/><circle cx="506.6" cy="183.2"/><circle cx="407.0" cy="165.9"/><circle cx="413.4" cy="188.1"/><circle cx="434.8" cy="199.7"/><circle cx="436.9" cy="205.6"/><circle cx="427.3" cy="182.6"/><circle cx="362.3" cy="183.1"/><circle cx="386.0" cy="192.7"/><circle cx="386.8" cy="172.2"/><circle cx="416.0" cy="197.3"/><circle cx="377.8" cy="178.5"/><circle cx="423.6" cy="177.2"/><circle cx="418.5" cy="180.8"/><circle cx="457.1" cy="171.6"/><circle cx="409.3" cy="204.6"/><circle cx="379.5" cy="188.9"/><circle cx="387.1" cy="179.7"/><circle cx="361.5" cy="188.5"/><circle cx="356.3" cy="187.2"/><circle cx="380.6" cy="200.6"/><circle cx="377.5" cy="197.0"/><circle cx="380.7" cy="175.9"/><circle cx="333.2" cy="188.5"/><circle cx="521.3" cy="173.8"/><circle cx="559.1" cy="183.7"/><circle cx="529.6" cy="197.4"/><circle cx="401.4" cy="186.2"/><circle cx="329.9" cy="181.2"/><circle cx="413.7" cy="157.3"/><circle cx="282.9" cy="168.1"/><circle cx="475.3" cy="200.9"/><circle cx="478.7" cy="191.5"/><circle cx="375.1" cy="201.7"/><circle cx="429.2" cy="191.0"/><circle cx="380.4" cy="184.6"/><circle cx="525.7" cy="172.0"/><circle cx="361.0" cy="194.7"/><circle cx="556.1" cy="207.6"/><circle cx="507.3" cy="166.9"/><circle cx="346.7" cy="191.3"/><circle cx="359.5" cy="167.7"/><circle cx="263.9" cy="174.6"/><circle cx="473.6" cy="164.1"/><circle cx="361.5" cy="200.2"/><circle cx="462.7" cy="176.2"/><circle cx="334.4" cy="186.0"/><circle cx="349.5" cy="169.8"/><circle cx="388.8" cy="180.1"/><circle cx="421.4" cy="200.6"/><circle cx="381.5" cy="156.5"/><circle cx="344.8" cy="176.6"/><circle cx="340.4" cy="183.2"/><circle cx="465.6" cy="198.3"/><circle cx="382.7" cy="180.9"/><circle cx="371.7" cy="170.9"/><circle cx="411.1" cy="182.5"/><circle cx="372.5" cy="191.4"/><circle cx="502.2" cy="195.6"/><circle cx="499.6" cy="175.6"/><circle cx="437.2" cy="173.2"/><circle cx="380.2" cy="163.1"/><circle cx="454.1" cy="191.1"/><circle cx="506.1" cy="171.2"/><circle cx="401.1" cy="181.0"/><circle cx="391.9" cy="178.3"/><circle cx="481.0" cy="169.4"/><circle cx="443.9" cy="201.3"/><circle cx="417.7" cy="166.8"/><circle cx="487.5" cy="172.2"/><circle cx="403.3" cy="196.4"/><circle cx="469.0" cy="209.7"/><circle cx="402.4" cy="197.1"/><circle cx="516.8" cy="215.0"/><circle cx="471.7" cy="205.9"/><circle cx="452.7" cy="193.7"/><circle cx="425.4" cy="188.7"/><circle cx="449.5" cy="165.2"/><circle cx="421.0" cy="178.7"/><circle cx="353.9" cy="185.5"/><circle cx="509.9" cy="172.4"/><circle cx="446.8" cy="160.4"/><circle cx="491.2" cy="179.3"/><circle cx="490.4" cy="181.2"/><circle cx="438.9" cy="181.5"/><circle cx="440.9" cy="167.9"/><circle cx="451.0" cy="156.9"/><circle cx="428.5" cy="193.0"/><circle cx="433.1" cy="165.5"/><circle cx="333.2" cy="179.6"/><circle cx="275.0" cy="165.1"/><circle cx="472.8" cy="182.9"/><circle cx="451.7" cy="187.5"/><circle cx="414.7" cy="165.0"/><circle cx="499.6" cy="190.6"/><circle cx="483.6" cy="201.1"/><circle cx="506.0" cy="166.0"/><circle cx="418.3" cy="178.6"/><circle cx="390.5" cy="189.4"/><circle cx="527.6" cy="177.6"/><circle cx="569.9" cy="188.3"/><circle cx="375.6" cy="168.1"/><circle cx="291.4" cy="196.4"/><circle cx="524.3" cy="189.2"/><circle cx="437.0" cy="186.2"/><circle cx="382.4" cy="178.8"/><circle cx="421.3" cy="177.6"/><circle cx="355.4" cy="176.8"/><circle cx="338.4" cy="180.4"/><circle cx="403.2" cy="181.8"/><circle cx="401.3" cy="177.1"/><circle cx="409.7" cy="183.9"/><circle cx="485.9" cy="200.6"/><circle cx="414.3" cy="176.4"/><circle cx="460.5" cy="184.4"/><circle cx="429.6" cy="166.4"/><circle cx="388.7" cy="197.3"/><circle cx="446.5" cy="203.7"/><circle cx="513.8" cy="176.6"/><circle cx="478.0" cy="179.5"/><circle cx="428.1" cy="164.6"/><circle cx="379.7" cy="209.3"/><circle cx="493.4" cy="187.1"/><circle cx="359.3" cy="184.4"/><circle cx="386.2" cy="193.2"/><circle cx="542.2" cy="174.6"/><circle cx="460.3" cy="171.7"/><circle cx="419.5" cy="197.7"/><circle cx="404.3" cy="201.7"/><circle cx="449.2" cy="162.6"/><circle cx="486.9" cy="202.2"/><circle cx="386.2" cy="207.2"/><circle cx="481.3" cy="166.1"/><circle cx="369.2" cy="173.0"/><circle cx="350.2" cy="181.9"/><circle cx="445.2" cy="172.5"/><circle cx="313.9" cy="168.5"/><circle cx="338.7" cy="186.6"/><circle cx="331.5" cy="180.2"/><circle cx="270.0" cy="168.7"/><circle cx="430.2" cy="169.4"/><circle cx="300.4" cy="197.2"/><circle cx="320.8" cy="180.1"/><circle cx="406.0" cy="183.4"/><circle cx="455.6" cy="162.1"/><circle cx="470.1" cy="195.5"/><circle cx="410.0" cy="187.9"/><circle cx="419.6" cy="171.3"/><circle cx="443.2" cy="200.1"/><circle cx="511.7" cy="207.9"/><circle cx="454.3" cy="177.8"/><circle cx="433.2" cy="157.7"/><circle cx="374.6" cy="172.1"/><circle cx="363.5" cy="182.6"/><circle cx="461.7" cy="186.9"/><circle cx="378.5" cy="164.4"/><circle cx="385.1" cy="172.9"/><circle cx="400.6" cy="203.5"/><circle cx="360.8" cy="192.0"/><circle cx="518.2" cy="167.8"/><circle cx="378.3" cy="199.0"/><circle cx="506.9" cy="180.4"/><circle cx="411.5" cy="194.2"/><circle cx="288.0" cy="173.6"/><circle cx="389.7" cy="176.3"/><circle cx="589.4" cy="188.4"/><circle cx="386.8" cy="187.9"/><circle cx="443.9" cy="192.2"/><circle cx="509.5" cy="180.8"/><circle cx="509.8" cy="166.5"/><circle cx="444.8" cy="170.1"/><circle cx="488.0" cy="195.4"/><circle cx="393.6" cy="195.7"/><circle cx="424.6" cy="217.3"/><circle cx="438.4" cy="190.4"/><circle cx="291.9" cy="200.5"/><circle cx="450.9" cy="178.3"/><circle cx="555.6" cy="174.0"/><circle cx="497.7" cy="208.6"/><circle cx="475.5" cy="174.8"/><circle cx="559.4" cy="196.0"/><circle cx="498.7" cy="179.0"/><circle cx="363.2" cy="178.4"/><circle cx="413.5" cy="177.7"/><circle cx="457.3" cy="196.7"/><circle cx="415.9" cy="206.0"/><circle cx="366.8" cy="198.6"/><circle cx="391.4" cy="183.9"/><circle cx="340.7" cy="177.0"/><circle cx="505.7" cy="165.0"/><circle cx="462.0" cy="188.8"/><circle cx="460.3" cy="149.5"/><circle cx="462.3" cy="207.4"/><circle cx="326.9" cy="185.0"/><circle cx="327.1" cy="174.1"/><circle cx="490.4" cy="191.8"/><circle cx="439.8" cy="168.7"/><circle cx="342.6" cy="192.4"/><circle cx="282.2" cy="196.2"/><circle cx="283.3" cy="181.4"/><circle cx="421.5" cy="173.4"/><circle cx="423.7" cy="195.6"/><circle cx="350.9" cy="187.5"/><circle cx="340.5" cy="193.4"/><circle cx="359.1" cy="191.5"/><circle cx="504.3" cy="187.4"/><circle cx="353.2" cy="190.8"/><circle cx="527.5" cy="191.6"/><circle cx="307.7" cy="195.9"/><circle cx="627.0" cy="182.3"/><circle cx="416.0" cy="169.7"/><circle cx="373.2" cy="207.9"/><circle cx="415.4" cy="192.1"/><circle cx="417.1" cy="175.3"/><circle cx="419.8" cy="198.3"/><circle cx="331.9" cy="158.3"/><circle cx="350.9" cy="188.8"/><circle cx="396.6" cy="194.0"/><circle cx="445.4" cy="181.6"/><circle cx="446.1" cy="205.7"/><circle cx="436.2" cy="188.3"/><circle cx="331.2" cy="189.1"/><circle cx="307.0" cy="193.9"/><circle cx="343.7" cy="193.0"/><circle cx="449.5" cy="180.8"/><circle cx="457.8" cy="206.3"/><circle cx="352.3" cy="191.4"/><circle cx="459.0" cy="203.6"/><circle cx="531.1" cy="182.3"/><circle cx="406.0" cy="177.3"/><circle cx="574.4" cy="187.1"/><circle cx="352.2" cy="198.5"/><circle cx="453.3" cy="184.6"/><circle cx="328.7" cy="207.1"/><circle cx="332.2" cy="175.2"/><circle cx="364.0" cy="191.1"/><circle cx="554.9" cy="193.3"/><circle cx="571.3" cy="178.6"/><circle cx="435.9" cy="173.7"/><circle cx="258.6" cy="170.0"/><circle cx="454.4" cy="177.1"/><circle cx="303.8" cy="206.9"/><circle cx="334.3" cy="187.3"/><circle cx="469.1" cy="174.8"/><circle cx="343.1" cy="193.5"/><circle cx="460.3" cy="201.7"/><circle cx="410.2" cy="169.1"/><circle cx="482.0" cy="187.4"/><circle cx="434.2" cy="180.5"/><circle cx="431.4" cy="208.6"/><circle cx="461.4" cy="173.7"/><circle cx="435.8" cy="156.5"/><circle cx="474.3" cy="163.7"/><circle cx="425.9" cy="194.2"/><circle cx="334.7" cy="180.4"/><circle cx="536.0" cy="194.7"/><circle cx="314.0" cy="174.4"/><circle cx="406.3" cy="154.4"/><circle cx="330.3" cy="186.9"/><circle cx="435.3" cy="204.1"/><circle cx="272.4" cy="171.8"/><circle cx="440.0" cy="192.3"/><circle cx="375.0" cy="184.0"/><circle cx="431.3" cy="187.4"/><circle cx="447.7" cy="180.5"/><circle cx="449.8" cy="192.2"/><circle cx="499.1" cy="191.8"/><circle cx="489.4" cy="158.4"/><circle cx="344.4" cy="202.2"/><circle cx="428.7" cy="202.2"/><circle cx="301.4" cy="196.7"/><circle cx="272.7" cy="186.9"/><circle cx="353.9" cy="196.0"/><circle cx="312.5" cy="193.8"/><circle cx="395.5" cy="187.5"/><circle cx="396.9" cy="199.8"/><circle cx="404.3" cy="197.9"/><circle cx="409.2" cy="183.1"/><circle cx="448.3" cy="170.9"/><circle cx="365.2" cy="198.3"/><circle cx="363.9" cy="209.5"/><circle cx="480.0" cy="176.0"/><circle cx="436.5" cy="168.1"/><circle cx="468.7" cy="161.4"/><circle cx="311.0" cy="198.0"/><circle cx="502.3" cy="184.0"/><circle cx="484.5" cy="192.7"/><circle cx="534.1" cy="168.4"/><circle cx="444.4" cy="208.5"/><circle cx="406.2" cy="182.5"/><circle cx="452.1" cy="202.6"/><circle cx="400.0" cy="177.6"/><circle cx="400.2" cy="196.4"/><circle cx="432.7" cy="206.0"/><circle cx="532.4" cy="209.9"/><circle cx="397.2" cy="203.6"/><circle cx="424.4" cy="195.1"/><circle cx="503.7" cy="177.8"/><circle cx="399.3" cy="205.9"/><circle cx="573.7" cy="172.0"/><circle cx="275.9" cy="183.3"/><circle cx="371.7" cy="203.8"/><circle cx="273.3" cy="178.1"/><circle cx="393.2" cy="189.0"/><circle cx="484.2" cy="206.7"/><circle cx="502.1" cy="203.7"/><circle cx="491.7" cy="199.7"/><circle cx="439.6" cy="203.1"/><circle cx="301.9" cy="206.8"/><circle cx="366.5" cy="206.3"/><circle cx="380.8" cy="197.9"/><circle cx="431.0" cy="173.0"/><circle cx="359.8" cy="180.8"/><circle cx="333.8" cy="175.9"/><circle cx="475.1" cy="198.8"/><circle cx="274.9" cy="168.0"/><circle cx="472.2" cy="170.2"/><circle cx="356.4" cy="184.5"/><circle cx="330.4" cy="199.4"/><circle cx="453.0" cy="198.7"/><circle cx="360.3" cy="188.9"/><circle cx="420.3" cy="173.6"/><circle cx="381.9" cy="163.2"/><circle cx="455.3" cy="187.9"/><circle cx="414.6" cy="170.1"/><circle cx="260.1" cy="185.1"/><circle cx="483.4" cy="206.8"/><circle cx="368.2" cy="179.3"/><circle cx="403.3" cy="179.5"/><circle cx="427.6" cy="169.1"/><circle cx="359.3" cy="193.0"/><circle cx="412.1" cy="181.1"/><circle cx="304.2" cy="170.9"/><circle cx="453.2" cy="154.0"/><circle cx="394.9" cy="173.6"/><circle cx="288.4" cy="196.4"/><circle cx="446.6" cy="176.9"/><circle cx="229.3" cy="197.7"/><circle cx="439.5" cy="181.2"/><circle cx="431.6" cy="165.3"/><circle cx="344.9" cy="200.8"/><circle cx="373.9" cy="205.4"/><circle cx="384.1" cy="195.0"/><circle cx="442.8" cy="188.6"/><circle cx="596.6" cy="171.0"/><circle cx="439.5" cy="200.0"/><circle cx="428.4" cy="189.7"/><circle cx="505.2" cy="166.7"/><circle cx="345.3" cy="175.8"/><circle cx="489.8" cy="181.6"/><circle cx="556.2" cy="184.8"/><circle cx="452.1" cy="196.5"/><circle cx="416.4" cy="163.4"/><circle cx="401.1" cy="187.1"/><circle cx="496.5" cy="187.4"/><circle cx="405.5" cy="187.1"/><circle cx="397.5" cy="204.3"/><circle cx="411.8" cy="188.0"/><circle cx="457.3" cy="177.8"/><circle cx="341.3" cy="195.0"/><circle cx="309.8" cy="206.3"/><circle cx="402.3" cy="178.1"/><circle cx="548.7" cy="178.6"/><circle cx="445.1" cy="178.9"/><circle cx="525.8" cy="187.7"/><circle cx="503.8" cy="188.6"/><circle cx="408.6" cy="167.4"/><circle cx="337.1" cy="180.1"/><circle cx="379.4" cy="199.9"/><circle cx="480.9" cy="168.9"/><circle cx="389.3" cy="178.0"/><circle cx="440.9" cy="166.7"/><circle cx="376.1" cy="172.3"/><circle cx="562.8" cy="186.1"/><circle cx="405.7" cy="180.1"/><circle cx="532.2" cy="189.9"/><circle cx="491.6" cy="198.0"/><circle cx="483.4" cy="184.0"/><circle cx="443.5" cy="188.2"/><circle cx="471.9" cy="185.2"/><circle cx="479.9" cy="191.5"/><circle cx="440.7" cy="165.1"/><circle cx="382.9" cy="195.0"/><circle cx="386.6" cy="185.7"/><circle cx="494.0" cy="190.9"/><circle cx="412.0" cy="170.1"/><circle cx="382.3" cy="190.3"/><circle cx="335.6" cy="198.9"/><circle cx="353.4" cy="176.0"/><circle cx="433.9" cy="207.9"/><circle cx="490.8" cy="202.6"/><circle cx="472.3" cy="158.6"/><circle cx="446.1" cy="194.2"/><circle cx="372.5" cy="187.7"/><circle cx="591.5" cy="188.3"/><circle cx="295.2" cy="167.1"/><circle cx="416.1" cy="180.8"/><circle cx="378.2" cy="188.9"/><circle cx="396.7" cy="175.7"/><circle cx="439.0" cy="181.8"/><circle cx="429.0" cy="194.7"/><circle cx="388.0" cy="187.1"/><circle cx="357.3" cy="208.2"/><circle cx="451.8" cy="209.1"/><circle cx="373.9" cy="187.5"/><circle cx="477.0" cy="170.0"/><circle cx="358.4" cy="185.3"/><circle cx="356.7" cy="174.8"/><circle cx="475.5" cy="186.1"/><circle cx="298.6" cy="182.6"/><circle cx="454.5" cy="198.0"/><circle cx="271.6" cy="201.9"/><circle cx="436.4" cy="174.1"/><circle cx="554.0" cy="183.4"/><circle cx="447.4" cy="190.1"/><circle cx="375.9" cy="192.1"/><circle cx="490.6" cy="177.6"/><circle cx="376.4" cy="183.4"/><circle cx="476.3" cy="203.6"/><circle cx="381.5" cy="190.3"/><circle cx="283.0" cy="199.3"/><circle cx="361.7" cy="182.8"/><circle cx="394.0" cy="181.2"/><circle cx="462.8" cy="170.8"/><circle cx="419.9" cy="184.2"/><circle cx="418.0" cy="192.3"/><circle cx="525.0" cy="180.0"/><circle cx="375.2" cy="185.2"/><circle cx="486.6" cy="213.7"/><circle cx="403.3" cy="189.6"/><circle cx="433.1" cy="176.7"/><circle cx="276.3" cy="185.7"/><circle cx="475.1" cy="178.7"/><circle cx="413.2" cy="202.3"/><circle cx="467.9" cy="184.1"/><circle cx="395.8" cy="181.8"/><circle cx="353.2" cy="191.7"/><circle cx="392.5" cy="176.4"/><circle cx="534.8" cy="205.2"/><circle cx="379.3" cy="167.9"/><circle cx="300.8" cy="186.5"/><circle cx="419.2" cy="180.5"/><circle cx="366.4" cy="190.9"/><circle cx="300.2" cy="185.9"/><circle cx="524.8" cy="165.6"/><circle cx="500.0" cy="182.7"/><circle cx="333.0" cy="207.5"/><circle cx="347.3" cy="195.8"/><circle cx="461.3" cy="169.2"/><circle cx="331.8" cy="169.1"/><circle cx="468.2" cy="189.8"/><circle cx="501.5" cy="185.4"/><circle cx="436.6" cy="187.1"/><circle cx="351.0" cy="184.4"/><circle cx="455.2" cy="155.5"/><circle cx="382.3" cy="195.6"/><circle cx="349.4" cy="160.8"/><circle cx="351.5" cy="189.1"/><circle cx="462.6" cy="205.8"/><circle cx="319.2" cy="193.6"/><circle cx="350.3" cy="196.8"/><circle cx="415.9" cy="210.4"/><circle cx="534.2" cy="186.0"/><circle cx="438.8" cy="190.6"/><circle cx="295.8" cy="164.9"/><circle cx="400.1" cy="182.9"/><circle cx="416.5" cy="190.1"/><circle cx="387.8" cy="193.1"/><circle cx="395.7" cy="199.8"/><circle cx="364.8" cy="169.2"/><circle cx="352.2" cy="206.0"/><circle cx="498.2" cy="187.6"/><circle cx="506.0" cy="206.5"/><circle cx="513.9" cy="207.5"/><circle cx="475.4" cy="198.9"/><circle cx="345.6" cy="188.1"/><circle cx="461.2" cy="194.0"/><circle cx="535.7" cy="196.9"/><circle cx="612.6" cy="177.6"/><circle cx="361.9" cy="183.3"/><circle cx="453.7" cy="194.9"/><circle cx="500.2" cy="188.6"/><circle cx="266.5" cy="174.8"/><circle cx="319.2" cy="182.3"/><circle cx="454.7" cy="192.3"/><circle cx="536.7" cy="195.4"/><circle cx="325.0" cy="178.5"/><circle cx="326.1" cy="198.7"/><circle cx="262.2" cy="168.1"/><circle cx="502.5" cy="176.4"/><circle cx="320.7" cy="189.0"/><circle cx="383.0" cy="188.2"/><circle cx="323.6" cy="188.3"/><circle cx="542.3" cy="185.0"/><circle cx="352.3" cy="200.9"/><circle cx="497.4" cy="197.0"/><circle cx="430.8" cy="174.8"/><circle cx="520.8" cy="175.0"/><circle cx="341.6" cy="197.6"/><circle cx="422.1" cy="175.1"/><circle cx="365.0" cy="206.6"/><circle cx="410.5" cy="186.7"/><circle cx="499.9" cy="190.3"/><circle cx="313.6" cy="187.8"/><circle cx="441.5" cy="190.2"/><circle cx="493.7" cy="195.2"/><circle cx="380.7" cy="162.8"/><circle cx="410.8" cy="194.2"/><circle cx="339.2" cy="194.0"/><circle cx="341.1" cy="174.3"/><circle cx="412.6" cy="187.5"/><circle cx="351.3" cy="206.0"/><circle cx="270.1" cy="177.4"/><circle cx="455.2" cy="187.9"/><circle cx="323.6" cy="186.8"/><circle cx="352.0" cy="189.1"/><circle cx="474.5" cy="186.2"/><circle cx="311.8" cy="164.6"/><circle cx="443.0" cy="202.5"/><circle cx="393.3" cy="199.2"/><circle cx="391.1" cy="187.0"/><circle cx="449.8" cy="197.8"/><circle cx="448.4" cy="200.1"/><circle cx="376.1" cy="208.1"/><circle cx="427.2" cy="165.4"/><circle cx="355.4" cy="210.7"/><circle cx="390.0" cy="198.0"/><circle cx="416.1" cy="192.7"/><circle cx="479.5" cy="197.4"/><circle cx="511.1" cy="191.6"/><circle cx="543.1" cy="181.0"/><circle cx="352.4" cy="202.1"/><circle cx="492.6" cy="197.0"/><circle cx="374.8" cy="192.9"/><circle cx="355.2" cy="199.5"/><circle cx="457.1" cy="180.4"/><circle cx="517.1" cy="174.7"/><circle cx="552.0" cy="211.4"/><circle cx="428.4" cy="208.9"/><circle cx="398.6" cy="186.0"/><circle cx="374.8" cy="171.5"/><circle cx="481.3" cy="204.1"/><circle cx="462.7" cy="195.3"/><circle cx="356.1" cy="190.8"/><circle cx="296.3" cy="199.2"/><circle cx="260.2" cy="205.2"/><circle cx="425.6" cy="185.6"/><circle cx="530.7" cy="214.7"/><circle cx="420.3" cy="180.4"/><circle cx="448.0" cy="177.0"/><circle cx="475.8" cy="180.5"/><circle cx="365.8" cy="197.9"/><circle cx="403.2" cy="175.6"/><circle cx="470.5" cy="188.2"/><circle cx="553.0" cy="192.1"/><circle cx="484.2" cy="196.3"/><circle cx="524.3" cy="184.8"/><circle cx="425.8" cy="195.1"/><circle cx="465.6" cy="174.6"/><circle cx="507.0" cy="194.3"/><circle cx="405.4" cy="205.3"/><circle cx="429.2" cy="182.4"/><circle cx="334.0" cy="174.5"/><circle cx="455.0" cy="152.8"/><circle cx="453.6" cy="188.7"/><circle cx="428.0" cy="189.8"/><circle cx="411.1" cy="205.0"/><circle cx="464.1" cy="187.1"/><circle cx="425.6" cy="204.4"/><circle cx="395.9" cy="178.6"/><circle cx="321.2" cy="200.6"/><circle cx="364.6" cy="176.2"/><circle cx="410.8" cy="174.3"/><circle cx="416.2" cy="189.6"/><circle cx="528.2" cy="174.9"/><circle cx="318.8" cy="208.8"/><circle cx="393.4" cy="196.4"/><circle cx="485.3" cy="159.5"/><circle cx="432.8" cy="188.6"/><circle cx="410.0" cy="203.2"/><circle cx="387.6" cy="209.0"/><circle cx="266.4" cy="193.7"/><circle cx="504.3" cy="166.1"/><circle cx="326.0" cy="201.1"/><circle cx="481.4" cy="207.1"/><circle cx="505.6" cy="203.1"/><circle cx="279.3" cy="184.4"/><circle cx="424.1" cy="183.9"/><circle cx="461.1" cy="196.8"/><circle cx="495.6" cy="179.0"/><circle cx="415.3" cy="181.4"/><circle cx="315.4" cy="183.5"/><circle cx="424.8" cy="171.0"/><circle cx="435.9" cy="197.1"/><circle cx="443.7" cy="187.5"/><circle cx="423.4" cy="178.9"/><circle cx="370.4" cy="184.3"/><circle cx="510.7" cy="182.6"/><circle cx="455.7" cy="171.7"/><circle cx="358.7" cy="188.2"/><circle cx="500.5" cy="171.7"/><circle cx="496.7" cy="178.3"/><circle cx="513.5" cy="164.3"/><circle cx="382.6" cy="185.7"/><circle cx="368.2" cy="193.2"/><circle cx="437.8" cy="170.7"/><circle cx="377.6" cy="175.3"/><circle cx="254.5" cy="172.9"/><circle cx="363.3" cy="175.9"/><circle cx="272.7" cy="192.0"/><circle cx="448.9" cy="206.2"/><circle cx="441.4" cy="188.4"/><circle cx="525.4" cy="199.6"/><circle cx="344.2" cy="183.2"/><circle cx="517.6" cy="192.6"/><circle cx="427.0" cy="170.6"/><circle cx="444.5" cy="210.6"/><circle cx="362.8" cy="195.0"/><circle cx="518.5" cy="195.2"/><circle cx="414.7" cy="170.0"/><circle cx="488.7" cy="169.0"/><circle cx="426.0" cy="181.4"/><circle cx="356.7" cy="212.0"/><circle cx="529.5" cy="176.8"/><circle cx="367.0" cy="203.9"/><circle cx="346.7" cy="202.3"/><circle cx="467.0" cy="176.8"/><circle cx="601.7" cy="188.9"/><circle cx="332.2" cy="201.3"/><circle cx="405.4" cy="192.3"/><circle cx="333.9" cy="182.6"/><circle cx="394.6" cy="180.9"/><circle cx="438.6" cy="194.3"/><circle cx="396.3" cy="189.8"/><circle cx="297.0" cy="184.3"/><circle cx="272.3" cy="186.5"/><circle cx="390.6" cy="193.7"/><circle cx="489.9" cy="177.7"/><circle cx="454.0" cy="161.7"/><circle cx="361.1" cy="174.4"/><circle cx="543.2" cy="189.8"/><circle cx="394.0" cy="191.1"/><circle cx="456.4" cy="185.3"/><circle cx="442.0" cy="191.0"/><circle cx="433.4" cy="200.7"/><circle cx="538.7" cy="199.8"/><circle cx="484.3" cy="182.8"/><circle cx="280.3" cy="178.3"/><circle cx="400.1" cy="186.0"/><circle cx="478.3" cy="177.7"/><circle cx="512.7" cy="184.1"/><circle cx="398.3" cy="200.8"/><circle cx="433.3" cy="163.6"/><circle cx="411.9" cy="187.1"/><circle cx="451.8" cy="180.1"/><circle cx="530.1" cy="166.7"/><circle cx="441.7" cy="183.5"/><circle cx="289.7" cy="174.0"/><circle cx="445.8" cy="203.9"/><circle cx="466.7" cy="181.7"/><circle cx="509.4" cy="188.0"/><circle cx="371.6" cy="198.4"/><circle cx="402.5" cy="186.8"/><circle cx="374.9" cy="181.0"/><circle cx="404.5" cy="157.1"/><circle cx="483.9" cy="184.7"/><circle cx="434.8" cy="180.5"/><circle cx="479.1" cy="179.6"/><circle cx="362.6" cy="189.7"/><circle cx="310.6" cy="185.3"/><circle cx="443.1" cy="208.6"/><circle cx="328.6" cy="172.1"/><circle cx="377.1" cy="192.2"/><circle cx="387.6" cy="190.1"/><circle cx="568.0" cy="191.5"/><circle cx="323.6" cy="204.1"/><circle cx="413.6" cy="188.8"/><circle cx="496.8" cy="171.2"/><circle cx="334.7" cy="196.2"/><circle cx="269.8" cy="185.7"/><circle cx="442.6" cy="183.3"/><circle cx="472.6" cy="178.7"/><circle cx="450.1" cy="175.6"/><circle cx="448.5" cy="189.4"/><circle cx="471.1" cy="172.3"/><circle cx="513.9" cy="177.4"/><circle cx="387.5" cy="198.9"/><circle cx="597.5" cy="192.0"/><circle cx="429.6" cy="192.3"/><circle cx="365.6" cy="208.4"/><circle cx="382.1" cy="173.8"/><circle cx="473.8" cy="190.2"/><circle cx="398.4" cy="188.0"/><circle cx="543.1" cy="203.1"/><circle cx="471.8" cy="166.8"/><circle cx="386.9" cy="210.9"/><circle cx="438.0" cy="200.0"/><circle cx="291.3" cy="196.9"/><circle cx="311.4" cy="184.2"/><circle cx="377.7" cy="163.9"/><circle cx="455.7" cy="180.7"/><circle cx="528.7" cy="182.5"/><circle cx="315.0" cy="197.6"/><circle cx="451.3" cy="181.1"/><circle cx="413.1" cy="183.8"/><circle cx="349.3" cy="189.3"/><circle cx="486.9" cy="188.4"/><circle cx="480.1" cy="188.6"/><circle cx="513.4" cy="155.6"/><circle cx="286.7" cy="189.1"/><circle cx="497.0" cy="206.1"/><circle cx="610.0" cy="170.0"/><circle cx="359.1" cy="178.7"/><circle cx="334.9" cy="171.6"/><circle cx="344.9" cy="188.1"/><circle cx="531.2" cy="178.3"/><circle cx="518.6" cy="162.4"/><circle cx="492.1" cy="177.0"/><circle cx="419.0" cy="190.9"/><circle cx="495.4" cy="160.0"/><circle cx="434.0" cy="185.6"/><circle cx="340.0" cy="176.3"/><circle cx="581.2" cy="191.4"/><circle cx="348.8" cy="194.0"/><circle cx="376.3" cy="167.2"/><circle cx="302.8" cy="204.3"/><circle cx="418.4" cy="192.7"/><circle cx="390.5" cy="199.3"/><circle cx="486.8" cy="201.3"/><circle cx="406.6" cy="197.3"/><circle cx="385.1" cy="183.9"/><circle cx="449.2" cy="201.9"/><circle cx="231.8" cy="179.4"/><circle cx="433.6" cy="188.5"/><circle cx="378.0" cy="183.8"/><circle cx="421.9" cy="194.9"/><circle cx="448.6" cy="187.4"/><circle cx="295.9" cy="188.0"/><circle cx="544.6" cy="188.3"/><circle cx="450.5" cy="188.4"/><circle cx="521.6" cy="191.1"/><circle cx="459.8" cy="178.9"/><circle cx="288.5" cy="182.5"/><circle cx="485.5" cy="179.3"/><circle cx="470.0" cy="179.1"/><circle cx="401.9" cy="169.8"/><circle cx="499.8" cy="203.8"/><circle cx="475.1" cy="192.5"/><circle cx="458.1" cy="184.9"/><circle cx="265.6" cy="206.2"/><circle cx="417.6" cy="186.5"/><circle cx="541.1" cy="173.8"/><circle cx="479.8" cy="168.3"/><circle cx="458.7" cy="194.6"/><circle cx="431.3" cy="181.2"/><circle cx="339.8" cy="182.5"/><circle cx="488.8" cy="192.6"/><circle cx="523.2" cy="198.3"/><circle cx="465.0" cy="169.5"/><circle cx="319.7" cy="174.8"/><circle cx="429.4" cy="186.2"/><circle cx="307.8" cy="208.9"/><circle cx="422.8" cy="176.3"/><circle cx="328.1" cy="170.4"/><circle cx="419.8" cy="203.4"/><circle cx="414.6" cy="197.6"/><circle cx="479.2" cy="206.5"/><circle cx="464.6" cy="202.5"/><circle cx="320.9" cy="200.8"/><circle cx="480.0" cy="208.7"/><circle cx="439.1" cy="200.8"/><circle cx="495.7" cy="175.8"/><circle cx="400.6" cy="186.3"/><circle cx="485.8" cy="190.8"/><circle cx="534.1" cy="175.6"/><circle cx="542.0" cy="171.9"/><circle cx="399.6" cy="174.7"/><circle cx="332.1" cy="199.9"/><circle cx="499.7" cy="196.1"/><circle cx="389.7" cy="182.0"/><circle cx="389.2" cy="197.5"/><circle cx="515.5" cy="199.9"/><circle cx="508.2" cy="187.3"/><circle cx="456.5" cy="172.0"/><circle cx="416.9" cy="214.9"/><circle cx="486.6" cy="177.2"/><circle cx="482.8" cy="180.3"/><circle cx="467.0" cy="156.4"/><circle cx="388.2" cy="188.0"/><circle cx="466.3" cy="187.1"/><circle cx="436.6" cy="178.1"/><circle cx="427.8" cy="191.0"/><circle cx="452.5" cy="184.9"/><circle cx="321.4" cy="171.0"/><circle cx="359.5" cy="186.0"/><circle cx="534.3" cy="182.3"/><circle cx="452.8" cy="177.5"/><circle cx="420.0" cy="164.6"/><circle cx="417.9" cy="191.6"/><circle cx="443.4" cy="153.1"/><circle cx="486.8" cy="192.3"/><circle cx="428.7" cy="192.9"/><circle cx="350.4" cy="206.3"/><circle cx="533.8" cy="173.5"/><circle cx="435.4" cy="168.6"/><circle cx="390.5" cy="192.5"/><circle cx="446.7" cy="178.5"/><circle cx="461.9" cy="179.9"/><circle cx="379.0" cy="205.1"/><circle cx="356.8" cy="161.6"/><circle cx="522.1" cy="171.1"/><circle cx="416.9" cy="207.7"/><circle cx="393.9" cy="197.0"/><circle cx="524.2" cy="181.3"/><circle cx="469.5" cy="151.1"/><circle cx="411.9" cy="214.7"/><circle cx="257.3" cy="171.3"/><circle cx="523.5" cy="206.2"/><circle cx="428.9" cy="167.8"/><circle cx="281.7" cy="195.0"/><circle cx="369.2" cy="169.9"/><circle cx="382.8" cy="171.7"/><circle cx="440.0" cy="180.1"/><circle cx="303.7" cy="161.7"/><circle cx="449.8" cy="191.0"/><circle cx="459.1" cy="173.3"/><circle cx="477.1" cy="196.0"/><circle cx="375.8" cy="188.2"/><circle cx="509.2" cy="190.2"/><circle cx="515.0" cy="168.1"/><circle cx="362.0" cy="203.8"/><circle cx="424.7" cy="184.7"/><circle cx="392.4" cy="209.2"/><circle cx="427.6" cy="206.9"/><circle cx="349.7" cy="186.4"/><circle cx="592.8" cy="189.4"/><circle cx="300.1" cy="175.0"/><circle cx="582.0" cy="190.6"/><circle cx="511.5" cy="190.8"/><circle cx="347.0" cy="178.6"/><circle cx="503.3" cy="193.1"/><circle cx="402.6" cy="192.9"/><circle cx="353.0" cy="183.1"/><circle cx="441.3" cy="198.1"/><circle cx="508.0" cy="187.2"/><circle cx="438.3" cy="185.4"/><circle cx="380.7" cy="194.6"/><circle cx="407.7" cy="166.6"/><circle cx="349.0" cy="174.8"/><circle cx="453.7" cy="197.2"/><circle cx="297.6" cy="194.6"/><circle cx="469.5" cy="197.7"/><circle cx="297.9" cy="187.4"/><circle cx="429.1" cy="168.0"/><circle cx="489.9" cy="178.6"/><circle cx="383.1" cy="195.1"/><circle cx="538.1" cy="169.1"/><circle cx="374.7" cy="163.3"/><circle cx="468.7" cy="186.3"/><circle cx="552.4" cy="189.3"/><circle cx="512.7" cy="194.6"/><circle cx="486.2" cy="190.6"/><circle cx="372.6" cy="195.0"/><circle cx="523.0" cy="168.2"/><circle cx="394.5" cy="171.1"/><circle cx="425.9" cy="181.7"/><circle cx="525.7" cy="176.6"/><circle cx="570.2" cy="183.2"/><circle cx="440.8" cy="203.5"/><circle cx="600.3" cy="163.4"/><circle cx="390.6" cy="197.6"/><circle cx="250.4" cy="174.5"/><circle cx="377.3" cy="159.7"/><circle cx="583.6" cy="180.6"/><circle cx="435.2" cy="195.2"/><circle cx="369.9" cy="209.1"/><circle cx="357.5" cy="197.3"/><circle cx="452.8" cy="197.3"/><circle cx="292.4" cy="156.9"/><circle cx="353.7" cy="207.8"/><circle cx="383.5" cy="201.0"/><circle cx="462.9" cy="179.3"/><circle cx="379.0" cy="188.6"/><circle cx="422.8" cy="173.4"/><circle cx="297.3" cy="166.7"/><circle cx="473.7" cy="178.5"/><circle cx="228.7" cy="187.4"/><circle cx="393.8" cy="183.8"/><circle cx="407.5" cy="187.6"/><circle cx="272.4" cy="194.0"/><circle cx="448.2" cy="205.5"/><circle cx="395.8" cy="193.0"/><circle cx="407.5" cy="182.2"/><circle cx="419.0" cy="181.0"/><circle cx="415.6" cy="198.0"/><circle cx="360.2" cy="183.9"/><circle cx="520.8" cy="195.3"/><circle cx="387.1" cy="213.9"/><circle cx="518.9" cy="197.1"/><circle cx="281.0" cy="182.2"/><circle cx="407.8" cy="175.7"/><circle cx="485.1" cy="184.1"/><circle cx="415.6" cy="160.1"/><circle cx="481.4" cy="171.4"/><circle cx="451.4" cy="169.4"/><circle cx="385.8" cy="187.6"/><circle cx="490.2" cy="183.5"/><circle cx="394.4" cy="175.9"/><circle cx="456.8" cy="177.5"/><circle cx="460.4" cy="181.6"/><circle cx="518.6" cy="187.2"/><circle cx="409.1" cy="187.5"/><circle cx="527.9" cy="193.3"/><circle cx="519.4" cy="166.4"/><circle cx="539.3" cy="166.7"/><circle cx="593.8" cy="176.7"/><circle cx="368.5" cy="180.6"/><circle cx="371.7" cy="165.3"/><circle cx="361.8" cy="173.5"/><circle cx="434.2" cy="176.9"/><circle cx="331.4" cy="182.4"/><circle cx="561.1" cy="190.1"/><circle cx="325.1" cy="190.8"/><circle cx="506.6" cy="189.6"/><circle cx="479.9" cy="182.7"/><circle cx="498.3" cy="161.8"/><circle cx="416.9" cy="193.0"/><circle cx="500.9" cy="191.6"/><circle cx="521.7" cy="187.8"/><circle cx="385.2" cy="212.9"/><circle cx="508.0" cy="184.7"/><circle cx="407.6" cy="186.4"/><circle cx="347.7" cy="174.1"/><circle cx="363.7" cy="189.1"/><circle cx="332.3" cy="195.4"/><circle cx="415.9" cy="172.3"/><circle cx="410.1" cy="162.5"/><circle cx="389.2" cy="189.3"/><circle cx="423.1" cy="173.0"/><circle cx="458.7" cy="154.9"/><circle cx="519.7" cy="177.8"/><circle cx="391.5" cy="190.6"/><circle cx="449.5" cy="205.8"/><circle cx="429.3" cy="169.0"/><circle cx="431.4" cy="164.9"/><circle cx="374.3" cy="173.3"/><circle cx="414.7" cy="177.8"/><circle cx="337.2" cy="173.6"/><circle cx="363.6" cy="192.9"/><circle cx="344.7" cy="203.3"/><circle cx="310.7" cy="181.1"/><circle cx="467.0" cy="175.9"/><circle cx="491.1" cy="216.1"/><circle cx="346.2" cy="195.0"/><circle cx="422.0" cy="183.8"/><circle cx="314.3" cy="189.9"/><circle cx="456.2" cy="202.5"/><circle cx="357.9" cy="177.6"/><circle cx="378.6" cy="186.7"/><circle cx="320.1" cy="167.7"/><circle cx="405.3" cy="175.6"/><circle cx="451.1" cy="177.3"/><circle cx="455.7" cy="177.5"/><circle cx="331.9" cy="181.0"/><circle cx="534.3" cy="199.1"/><circle cx="479.1" cy="162.2"/><circle cx="575.4" cy="175.6"/><circle cx="407.4" cy="199.7"/><circle cx="354.0" cy="185.4"/><circle cx="391.1" cy="180.7"/><circle cx="362.1" cy="183.0"/><circle cx="435.5" cy="198.6"/><circle cx="396.3" cy="171.3"/><circle cx="484.8" cy="191.3"/><circle cx="331.9" cy="184.2"/><circle cx="305.8" cy="182.3"/><circle cx="320.1" cy="173.9"/><circle cx="328.1" cy="193.9"/><circle cx="363.1" cy="164.9"/><circle cx="311.0" cy="201.4"/><circle cx="316.3" cy="185.1"/><circle cx="412.7" cy="196.2"/><circle cx="390.6" cy="190.4"/><circle cx="347.5" cy="188.5"/><circle cx="464.5" cy="162.0"/><circle cx="375.3" cy="198.7"/><circle cx="493.6" cy="158.7"/><circle cx="489.5" cy="179.2"/><circle cx="329.7" cy="169.1"/><circle cx="524.4" cy="205.2"/><circle cx="409.9" cy="198.6"/><circle cx="409.1" cy="176.4"/><circle cx="519.5" cy="207.0"/><circle cx="360.6" cy="161.7"/><circle cx="388.3" cy="188.7"/><circle cx="416.0" cy="179.9"/><circle cx="396.9" cy="169.7"/><circle cx="452.9" cy="211.1"/><circle cx="303.7" cy="184.8"/><circle cx="563.1" cy="189.2"/><circle cx="478.3" cy="176.4"/><circle cx="435.8" cy="167.3"/><circle cx="474.6" cy="163.2"/><circle cx="335.2" cy="182.2"/><circle cx="429.5" cy="187.2"/><circle cx="406.7" cy="175.6"/><circle cx="524.6" cy="166.0"/><circle cx="590.4" cy="182.5"/><circle cx="377.4" cy="199.3"/><circle cx="320.2" cy="187.3"/><circle cx="471.3" cy="185.7"/><circle cx="410.9" cy="175.9"/><circle cx="446.0" cy="166.1"/><circle cx="533.4" cy="185.8"/><circle cx="418.1" cy="201.8"/><circle cx="354.8" cy="211.1"/><circle cx="366.1" cy="188.4"/><circle cx="347.7" cy="198.5"/><circle cx="517.6" cy="193.5"/><circle cx="350.9" cy="191.6"/><circle cx="407.2" cy="209.1"/><circle cx="318.3" cy="179.3"/><circle cx="295.4" cy="208.5"/><circle cx="478.7" cy="185.9"/><circle cx="383.1" cy="197.1"/><circle cx="556.3" cy="165.9"/><circle cx="583.0" cy="160.6"/><circle cx="430.8" cy="168.0"/><circle cx="368.1" cy="175.1"/><circle cx="319.0" cy="194.1"/><circle cx="503.9" cy="184.3"/><circle cx="401.1" cy="185.3"/><circle cx="504.6" cy="200.6"/><circle cx="344.3" cy="175.8"/><circle cx="494.6" cy="165.2"/><circle cx="390.5" cy="198.1"/><circle cx="428.2" cy="167.7"/><circle cx="392.6" cy="201.8"/><circle cx="419.7" cy="173.2"/><circle cx="596.5" cy="186.3"/><circle cx="530.8" cy="170.4"/><circle cx="358.7" cy="193.0"/><circle cx="533.4" cy="156.7"/><circle cx="555.8" cy="194.3"/><circle cx="431.0" cy="182.1"/><circle cx="361.5" cy="197.6"/><circle cx="586.5" cy="193.8"/><circle cx="526.2" cy="187.4"/><circle cx="486.5" cy="161.5"/><circle cx="380.8" cy="182.2"/><circle cx="365.1" cy="183.7"/><circle cx="259.1" cy="186.7"/><circle cx="411.4" cy="182.0"/><circle cx="449.6" cy="181.9"/><circle cx="415.3" cy="188.6"/><circle cx="502.8" cy="174.6"/><circle cx="497.2" cy="202.5"/><circle cx="342.2" cy="168.3"/><circle cx="484.1" cy="195.9"/><circle cx="395.0" cy="179.6"/><circle cx="459.5" cy="193.8"/><circle cx="400.0" cy="183.1"/><circle cx="339.3" cy="187.7"/><circle cx="361.9" cy="178.3"/><circle cx="375.3" cy="171.3"/><circle cx="390.8" cy="188.6"/><circle cx="364.2" cy="193.8"/><circle cx="470.5" cy="193.3"/><circle cx="398.5" cy="191.7"/><circle cx="404.0" cy="174.9"/><circle cx="410.9" cy="199.0"/><circle cx="465.7" cy="170.8"/><circle cx="479.1" cy="173.0"/><circle cx="464.1" cy="155.1"/><circle cx="413.6" cy="196.1"/><circle cx="333.0" cy="189.3"/><circle cx="416.9" cy="185.9"/><circle cx="416.9" cy="174.5"/><circle cx="494.2" cy="180.3"/><circle cx="327.9" cy="159.8"/><circle cx="435.9" cy="187.6"/><circle cx="412.2" cy="179.1"/><circle cx="426.0" cy="176.8"/><circle cx="363.2" cy="187.3"/><circle cx="275.3" cy="194.6"/><circle cx="342.8" cy="178.1"/><circle cx="435.2" cy="196.1"/><circle cx="391.8" cy="206.2"/><circle cx="394.5" cy="157.1"/><circle cx="479.2" cy="183.2"/><circle cx="536.6" cy="165.2"/><circle cx="525.9" cy="176.0"/><circle cx="326.0" cy="196.8"/><circle cx="363.7" cy="209.6"/><circle cx="445.4" cy="180.2"/><circle cx="419.0" cy="176.4"/><circle cx="415.3" cy="184.4"/><circle cx="424.7" cy="199.0"/><circle cx="452.3" cy="215.1"/><circle cx="486.3" cy="189.6"/><circle cx="430.0" cy="192.0"/><circle cx="467.2" cy="191.7"/><circle cx="345.5" cy="161.2"/><circle cx="372.5" cy="172.3"/><circle cx="572.6" cy="170.6"/><circle cx="372.0" cy="188.5"/><circle cx="419.2" cy="185.3"/><circle cx="529.2" cy="197.7"/><circle cx="405.0" cy="182.2"/><circle cx="439.4" cy="200.6"/><circle cx="455.4" cy="177.4"/><circle cx="402.2" cy="199.3"/><circle cx="457.0" cy="201.9"/><circle cx="337.6" cy="196.5"/><circle cx="488.1" cy="195.2"/><circle cx="408.0" cy="175.0"/><circle cx="548.2" cy="167.2"/><circle cx="437.4" cy="209.6"/><circle cx="299.3" cy="183.3"/><circle cx="319.8" cy="181.8"/><circle cx="408.8" cy="179.5"/><circle cx="409.2" cy="194.4"/><circle cx="434.8" cy="193.9"/><circle cx="385.3" cy="170.9"/><circle cx="462.1" cy="181.1"/><circle cx="462.5" cy="190.0"/><circle cx="551.6" cy="177.1"/><circle cx="520.8" cy="195.8"/><circle cx="412.3" cy="157.0"/><circle cx="500.9" cy="188.8"/><circle cx="412.9" cy="170.4"/><circle cx="401.8" cy="198.8"/><circle cx="482.8" cy="186.8"/><circle cx="486.9" cy="207.3"/><circle cx="458.5" cy="172.7"/><circle cx="285.6" cy="171.7"/><circle cx="443.4" cy="162.9"/><circle cx="401.8" cy="181.2"/><circle cx="452.8" cy="195.4"/><circle cx="418.6" cy="164.7"/><circle cx="344.3" cy="176.4"/><circle cx="426.1" cy="191.3"/><circle cx="425.7" cy="177.2"/><circle cx="506.3" cy="199.3"/><circle cx="411.9" cy="181.1"/><circle cx="347.4" cy="212.0"/><circle cx="481.5" cy="193.6"/><circle cx="586.0" cy="190.2"/><circle cx="411.1" cy="193.2"/><circle cx="439.3" cy="196.6"/><circle cx="403.1" cy="158.8"/><circle cx="486.5" cy="168.6"/><circle cx="327.8" cy="162.8"/><circle cx="546.4" cy="177.7"/><circle cx="372.9" cy="210.0"/><circle cx="467.4" cy="187.9"/><circle cx="390.8" cy="195.7"/><circle cx="453.1" cy="186.8"/><circle cx="386.5" cy="191.9"/><circle cx="390.9" cy="183.8"/><circle cx="374.2" cy="195.4"/><circle cx="554.2" cy="169.3"/><circle cx="404.3" cy="179.9"/><circle cx="471.2" cy="172.2"/><circle cx="505.3" cy="185.2"/><circle cx="501.6" cy="177.7"/><circle cx="400.2" cy="207.2"/><circle cx="322.9" cy="182.1"/><circle cx="452.4" cy="170.9"/><circle cx="374.7" cy="182.9"/><circle cx="463.2" cy="191.6"/><circle cx="415.9" cy="217.2"/><circle cx="556.0" cy="192.8"/><circle cx="376.4" cy="196.4"/><circle cx="324.5" cy="198.6"/><circle cx="404.1" cy="172.6"/><circle cx="408.8" cy="205.2"/><circle cx="342.3" cy="175.0"/><circle cx="432.8" cy="175.4"/><circle cx="546.8" cy="177.3"/><circle cx="432.7" cy="174.2"/><circle cx="389.2" cy="194.8"/><circle cx="422.2" cy="174.8"/><circle cx="494.4" cy="201.2"/><circle cx="509.8" cy="168.5"/><circle cx="545.1" cy="202.5"/><circle cx="342.9" cy="168.3"/><circle cx="553.2" cy="164.7"/><circle cx="466.1" cy="169.0"/><circle cx="465.6" cy="172.8"/><circle cx="396.2" cy="202.6"/><circle cx="444.7" cy="178.4"/><circle cx="571.3" cy="191.2"/><circle cx="424.3" cy="192.1"/><circle cx="383.4" cy="174.8"/><circle cx="426.7" cy="172.3"/><circle cx="584.8" cy="182.0"/><circle cx="437.2" cy="183.9"/><circle cx="361.5" cy="189.0"/><circle cx="365.4" cy="175.6"/><circle cx="382.5" cy="197.4"/><circle cx="397.7" cy="172.6"/><circle cx="488.5" cy="195.8"/><circle cx="492.9" cy="193.7"/><circle cx="421.0" cy="202.6"/><circle cx="473.7" cy="175.9"/><circle cx="347.7" cy="184.0"/><circle cx="455.5" cy="191.1"/><circle cx="282.8" cy="186.2"/><circle cx="496.6" cy="191.8"/><circle cx="390.4" cy="190.6"/><circle cx="415.8" cy="183.8"/><circle cx="399.1" cy="179.1"/><circle cx="461.6" cy="218.1"/><circle cx="477.5" cy="189.8"/><circle cx="442.4" cy="200.2"/><circle cx="460.0" cy="202.7"/><circle cx="347.6" cy="196.0"/><circle cx="464.4" cy="175.5"/><circle cx="483.7" cy="167.5"/><circle cx="553.5" cy="173.1"/><circle cx="471.1" cy="182.6"/><circle cx="353.9" cy="180.1"/><circle cx="429.6" cy="199.2"/><circle cx="509.3" cy="184.2"/><circle cx="625.0" cy="187.8"/><circle cx="393.3" cy="191.3"/><circle cx="524.6" cy="188.0"/><circle cx="490.7" cy="176.6"/><circle cx="546.5" cy="184.6"/><circle cx="436.3" cy="183.1"/><circle cx="331.2" cy="173.4"/><circle cx="321.7" cy="214.1"/><circle cx="440.3" cy="164.8"/><circle cx="390.2" cy="198.8"/><circle cx="488.5" cy="190.4"/><circle cx="346.0" cy="173.3"/><circle cx="485.3" cy="194.1"/><circle cx="362.9" cy="197.6"/><circle cx="395.8" cy="203.2"/><circle cx="538.0" cy="178.8"/><circle cx="528.0" cy="184.6"/><circle cx="560.4" cy="196.1"/><circle cx="552.0" cy="168.4"/><circle cx="444.7" cy="176.5"/><circle cx="388.1" cy="182.0"/><circle cx="535.2" cy="158.8"/><circle cx="487.1" cy="188.9"/><circle cx="360.3" cy="182.9"/><circle cx="448.4" cy="190.6"/><circle cx="564.4" cy="177.6"/><circle cx="425.6" cy="199.0"/><circle cx="522.7" cy="160.6"/><circle cx="471.4" cy="174.6"/><circle cx="400.8" cy="186.6"/><circle cx="498.1" cy="188.8"/><circle cx="371.4" cy="194.4"/><circle cx="516.8" cy="193.9"/><circle cx="519.4" cy="176.8"/><circle cx="578.1" cy="166.5"/><circle cx="473.4" cy="189.8"/><circle cx="412.0" cy="204.6"/><circle cx="500.3" cy="207.9"/><circle cx="549.1" cy="169.1"/><circle cx="329.7" cy="198.1"/><circle cx="384.8" cy="193.9"/><circle cx="486.1" cy="185.1"/><circle cx="385.2" cy="174.5"/><circle cx="465.0" cy="166.6"/><circle cx="598.2" cy="172.4"/><circle cx="459.2" cy="189.6"/><circle cx="486.1" cy="182.1"/><circle cx="314.9" cy="168.9"/><circle cx="400.8" cy="202.4"/><circle cx="422.6" cy="180.9"/><circle cx="318.8" cy="185.1"/><circle cx="558.1" cy="181.8"/><circle cx="317.3" cy="190.5"/><circle cx="325.8" cy="165.4"/><circle cx="591.5" cy="167.8"/><circle cx="424.7" cy="172.6"/><circle cx="444.1" cy="216.1"/><circle cx="440.2" cy="166.3"/><circle cx="416.4" cy="171.3"/><circle cx="296.4" cy="186.2"/><circle cx="396.2" cy="192.6"/><circle cx="395.6" cy="207.2"/><circle cx="405.0" cy="189.6"/><circle cx="286.0" cy="195.3"/><circle cx="460.0" cy="161.4"/><circle cx="395.9" cy="174.5"/><circle cx="411.3" cy="179.7"/><circle cx="364.6" cy="191.5"/><circle cx="401.6" cy="188.2"/><circle cx="456.4" cy="209.9"/><circle cx="430.9" cy="207.0"/><circle cx="537.6" cy="195.6"/><circle cx="471.9" cy="169.9"/><circle cx="475.7" cy="187.3"/><circle cx="373.3" cy="160.0"/><circle cx="508.0" cy="184.7"/><circle cx="509.9" cy="179.3"/><circle cx="378.5" cy="182.5"/><circle cx="541.9" cy="166.7"/><circle cx="408.8" cy="176.7"/><circle cx="448.1" cy="203.7"/><circle cx="491.0" cy="179.8"/><circle cx="350.0" cy="200.0"/><circle cx="578.4" cy="194.0"/><circle cx="428.1" cy="201.6"/><circle cx="353.6" cy="167.5"/><circle cx="398.1" cy="174.4"/><circle cx="489.3" cy="184.8"/><circle cx="433.9" cy="178.1"/><circle cx="364.6" cy="168.2"/><circle cx="382.7" cy="195.2"/><circle cx="515.0" cy="168.6"/><circle cx="427.2" cy="179.4"/><circle cx="448.2" cy="185.8"/><circle cx="433.2" cy="212.7"/><circle cx="485.5" cy="191.0"/><circle cx="513.5" cy="180.0"/><circle cx="380.2" cy="184.1"/><circle cx="324.3" cy="205.7"/><circle cx="419.9" cy="190.4"/><circle cx="371.7" cy="192.0"/><circle cx="476.0" cy="182.6"/><circle cx="460.1" cy="191.8"/><circle cx="346.7" cy="188.1"/><circle cx="380.1" cy="182.5"/><circle cx="516.7" cy="195.7"/><circle cx="599.9" cy="167.8"/><circle cx="346.8" cy="197.3"/><circle cx="362.8" cy="169.4"/><circle cx="519.0" cy="181.3"/><circle cx="554.8" cy="198.7"/><circle cx="466.5" cy="175.4"/><circle cx="453.3" cy="184.7"/><circle cx="359.9" cy="165.5"/><circle cx="287.7" cy="181.9"/><circle cx="465.3" cy="191.4"/><circle cx="571.0" cy="194.3"/><circle cx="378.3" cy="198.7"/><circle cx="516.3" cy="177.0"/><circle cx="414.9" cy="189.3"/><circle cx="382.9" cy="188.8"/><circle cx="300.9" cy="190.3"/><circle cx="422.5" cy="181.4"/><circle cx="473.7" cy="202.7"/><circle cx="243.7" cy="180.0"/><circle cx="410.4" cy="180.5"/><circle cx="396.6" cy="172.0"/><circle cx="480.3" cy="165.5"/><circle cx="552.4" cy="182.2"/><circle cx="319.8" cy="186.5"/><circle cx="382.1" cy="168.7"/><circle cx="453.6" cy="192.2"/><circle cx="376.7" cy="170.5"/><circle cx="495.7" cy="197.3"/><circle cx="457.7" cy="181.4"/><circle cx="488.0" cy="197.5"/><circle cx="495.9" cy="207.6"/><circle cx="291.5" cy="174.6"/><circle cx="443.6" cy="182.4"/><circle cx="362.4" cy="163.6"/><circle cx="377.4" cy="191.5"/><circle cx="374.5" cy="185.9"/><circle cx="267.0" cy="209.6"/><circle cx="390.7" cy="199.4"/><circle cx="344.9" cy="211.3"/><circle cx="467.1" cy="164.7"/><circle cx="318.0" cy="183.6"/><circle cx="424.1" cy="190.7"/><circle cx="378.7" cy="173.5"/><circle cx="407.6" cy="162.3"/><circle cx="585.7" cy="205.4"/><circle cx="560.1" cy="197.8"/><circle cx="299.8" cy="195.7"/><circle cx="431.3" cy="168.2"/><circle cx="374.0" cy="175.5"/><circle cx="485.2" cy="156.5"/><circle cx="476.8" cy="203.1"/><circle cx="305.9" cy="184.2"/><circle cx="412.9" cy="198.8"/><circle cx="410.9" cy="159.1"/><circle cx="463.5" cy="190.4"/><circle cx="503.1" cy="170.3"/><circle cx="464.4" cy="200.2"/><circle cx="522.4" cy="187.2"/><circle cx="545.9" cy="195.8"/><circle cx="378.1" cy="194.4"/><circle cx="564.5" cy="197.4"/><circle cx="395.7" cy="166.8"/><circle cx="372.7" cy="204.9"/><circle cx="395.2" cy="186.4"/><circle cx="458.1" cy="197.5"/><circle cx="366.7" cy="176.7"/><circle cx="345.4" cy="180.9"/><circle cx="426.0" cy="213.0"/><circle cx="359.3" cy="189.0"/><circle cx="534.4" cy="163.9"/><circle cx="435.8" cy="216.1"/><circle cx="387.3" cy="182.6"/><circle cx="363.7" cy="176.1"/><circle cx="429.6" cy="204.4"/><circle cx="453.5" cy="179.1"/><circle cx="502.1" cy="182.2"/><circle cx="446.2" cy="184.4"/><circle cx="326.7" cy="171.1"/><circle cx="401.0" cy="176.1"/><circle cx="401.1" cy="210.6"/><circle cx="406.2" cy="169.0"/><circle cx="466.4" cy="189.7"/><circle cx="475.8" cy="189.2"/><circle cx="435.8" cy="193.1"/><circle cx="337.9" cy="176.2"/><circle cx="438.8" cy="218.6"/><circle cx="413.4" cy="181.9"/><circle cx="420.1" cy="185.1"/><circle cx="420.1" cy="170.1"/><circle cx="493.8" cy="196.1"/><circle cx="516.7" cy="182.1"/><circle cx="374.3" cy="169.3"/><circle cx="447.4" cy="190.9"/><circle cx="416.8" cy="168.8"/><circle cx="539.5" cy="191.6"/><circle cx="409.7" cy="175.0"/><circle cx="401.8" cy="166.1"/><circle cx="309.0" cy="192.7"/><circle cx="349.3" cy="172.4"/><circle cx="359.0" cy="195.7"/><circle cx="451.1" cy="177.6"/><circle cx="471.1" cy="193.2"/><circle cx="334.3" cy="191.3"/><circle cx="463.2" cy="205.1"/><circle cx="452.8" cy="180.5"/><circle cx="432.7" cy="183.5"/><circle cx="409.1" cy="173.1"/><circle cx="387.4" cy="192.4"/><circle cx="284.0" cy="207.5"/><circle cx="463.5" cy="176.0"/><circle cx="402.3" cy="185.3"/><circle cx="395.7" cy="182.8"/><circle cx="486.4" cy="173.4"/><circle cx="432.3" cy="161.0"/><circle cx="437.2" cy="191.7"/><circle cx="483.6" cy="169.5"/><circle cx="430.6" cy="155.6"/><circle cx="575.9" cy="166.9"/><circle cx="330.9" cy="200.8"/><circle cx="372.5" cy="210.5"/><circle cx="251.4" cy="189.3"/><circle cx="482.7" cy="154.6"/><circle cx="516.5" cy="171.0"/><circle cx="427.2" cy="162.8"/><circle cx="453.2" cy="169.3"/><circle cx="283.9" cy="180.9"/><circle cx="345.4" cy="183.8"/><circle cx="342.2" cy="169.1"/><circle cx="525.1" cy="194.1"/><circle cx="513.2" cy="208.6"/><circle cx="287.6" cy="193.4"/><circle cx="442.0" cy="186.5"/><circle cx="409.2" cy="175.6"/><circle cx="464.1" cy="189.0"/><circle cx="510.1" cy="176.5"/><circle cx="470.5" cy="171.8"/><circle cx="418.1" cy="187.3"/><circle cx="356.6" cy="171.2"/><circle cx="398.6" cy="201.0"/><circle cx="234.3" cy="189.7"/><circle cx="383.4" cy="188.2"/><circle cx="287.4" cy="187.4"/><circle cx="410.8" cy="194.2"/><circle cx="448.0" cy="168.6"/><circle cx="457.4" cy="167.6"/><circle cx="474.9" cy="177.2"/><circle cx="323.7" cy="179.0"/><circle cx="392.1" cy="182.9"/><circle cx="435.8" cy="172.9"/><circle cx="326.4" cy="174.6"/><circle cx="423.0" cy="195.6"/><circle cx="417.9" cy="181.8"/><circle cx="497.9" cy="158.4"/><circle cx="301.2" cy="187.2"/><circle cx="365.3" cy="211.7"/><circle cx="384.2" cy="186.5"/><circle cx="315.7" cy="179.3"/><circle cx="370.8" cy="184.1"/><circle cx="494.8" cy="186.6"/><circle cx="313.7" cy="184.4"/><circle cx="347.8" cy="168.5"/><circle cx="410.9" cy="185.0"/><circle cx="350.2" cy="189.4"/><circle cx="426.9" cy="189.7"/><circle cx="505.8" cy="172.0"/><circle cx="520.4" cy="167.5"/><circle cx="440.7" cy="170.4"/><circle cx="588.4" cy="172.4"/><circle cx="462.2" cy="181.0"/><circle cx="368.2" cy="197.2"/><circle cx="397.8" cy="187.9"/><circle cx="410.2" cy="186.3"/><circle cx="413.1" cy="192.2"/><circle cx="470.6" cy="185.8"/><circle cx="492.4" cy="161.8"/><circle cx="371.1" cy="176.6"/><circle cx="495.0" cy="179.0"/><circle cx="507.5" cy="187.5"/><circle cx="514.8" cy="200.6"/><circle cx="507.3" cy="181.3"/><circle cx="392.3" cy="188.0"/><circle cx="306.6" cy="196.6"/><circle cx="456.4" cy="211.9"/><circle cx="388.2" cy="169.0"/><circle cx="475.3" cy="184.9"/><circle cx="460.2" cy="199.6"/><circle cx="367.7" cy="174.7"/><circle cx="308.6" cy="195.5"/><circle cx="438.8" cy="180.3"/><circle cx="394.8" cy="190.3"/><circle cx="518.7" cy="190.2"/><circle cx="408.0" cy="193.9"/><circle cx="397.1" cy="196.8"/><circle cx="603.9" cy="183.4"/><circle cx="444.0" cy="184.3"/><circle cx="463.2" cy="194.3"/><circle cx="571.0" cy="193.9"/><circle cx="344.7" cy="210.4"/><circle cx="376.7" cy="192.1"/><circle cx="456.3" cy="159.3"/><circle cx="295.5" cy="187.8"/><circle cx="431.4" cy="203.5"/><circle cx="331.4" cy="195.0"/><circle cx="352.5" cy="182.4"/><circle cx="429.7" cy="192.1"/><circle cx="553.9" cy="192.3"/><circle cx="492.8" cy="161.2"/><circle cx="288.6" cy="182.7"/><circle cx="382.1" cy="168.8"/><circle cx="367.8" cy="178.3"/><circle cx="440.5" cy="167.9"/><circle cx="413.3" cy="172.1"/><circle cx="386.1" cy="184.6"/><circle cx="558.3" cy="170.3"/><circle cx="550.8" cy="177.7"/><circle cx="510.0" cy="182.3"/><circle cx="358.3" cy="182.4"/><circle cx="471.0" cy="164.6"/><circle cx="408.6" cy="212.3"/><circle cx="275.4" cy="177.6"/><circle cx="399.5" cy="192.0"/><circle cx="406.2" cy="191.9"/><circle cx="388.2" cy="172.5"/><circle cx="368.8" cy="189.4"/><circle cx="292.2" cy="199.9"/><circle cx="521.0" cy="190.1"/><circle cx="530.2" cy="180.5"/><circle cx="437.6" cy="186.1"/><circle cx="398.8" cy="186.9"/><circle cx="352.2" cy="175.3"/><circle cx="427.2" cy="211.6"/><circle cx="324.1" cy="190.9"/><circle cx="359.9" cy="178.5"/><circle cx="411.4" cy="184.1"/><circle cx="314.9" cy="175.0"/><circle cx="454.8" cy="167.4"/><circle cx="447.2" cy="183.1"/><circle cx="448.5" cy="196.1"/><circle cx="336.6" cy="184.1"/><circle cx="370.2" cy="204.7"/><circle cx="416.2" cy="190.2"/><circle cx="480.9" cy="176.5"/><circle cx="418.7" cy="206.5"/><circle cx="352.6" cy="182.5"/><circle cx="416.2" cy="179.6"/><circle cx="480.3" cy="193.5"/><circle cx="530.6" cy="174.4"/><circle cx="530.6" cy="178.9"/><circle cx="427.7" cy="165.2"/><circle cx="426.4" cy="183.8"/><circle cx="278.4" cy="182.6"/><circle cx="310.4" cy="213.0"/><circle cx="545.4" cy="179.5"/><circle cx="440.3" cy="195.8"/><circle cx="316.7" cy="201.0"/><circle cx="452.4" cy="177.6"/><circle cx="374.3" cy="177.4"/><circle cx="475.1" cy="191.4"/><circle cx="525.0" cy="178.9"/><circle cx="533.7" cy="205.8"/><circle cx="451.9" cy="189.4"/><circle cx="567.8" cy="199.4"/><circle cx="446.6" cy="199.4"/><circle cx="359.1" cy="170.4"/><circle cx="311.7" cy="191.4"/><circle cx="622.2" cy="184.5"/><circle cx="431.8" cy="156.4"/><circle cx="479.7" cy="183.3"/><circle cx="414.4" cy="167.2"/><circle cx="349.4" cy="164.5"/><circle cx="437.7" cy="187.4"/><circle cx="417.0" cy="178.6"/><circle cx="470.8" cy="178.9"/><circle cx="454.3" cy="176.9"/><circle cx="479.2" cy="190.1"/><circle cx="357.6" cy="165.9"/><circle cx="494.7" cy="210.1"/><circle cx="493.2" cy="195.3"/><circle cx="416.9" cy="174.6"/><circle cx="311.8" cy="160.9"/><circle cx="473.0" cy="198.3"/><circle cx="343.4" cy="187.7"/><circle cx="360.2" cy="216.9"/><circle cx="377.9" cy="212.2"/><circle cx="549.1" cy="170.7"/><circle cx="531.1" cy="192.4"/><circle cx="450.9" cy="167.8"/><circle cx="494.8" cy="198.5"/><circle cx="548.9" cy="176.4"/><circle cx="455.0" cy="172.0"/><circle cx="379.2" cy="199.0"/><circle cx="508.9" cy="184.2"/><circle cx="483.5" cy="204.6"/><circle cx="449.8" cy="164.7"/><circle cx="376.3" cy="180.5"/><circle cx="458.9" cy="182.8"/><circle cx="384.2" cy="169.3"/><circle cx="519.8" cy="166.3"/><circle cx="517.7" cy="177.3"/><circle cx="336.3" cy="187.2"/><circle cx="492.7" cy="195.4"/><circle cx="333.8" cy="168.3"/><circle cx="456.5" cy="167.7"/><circle cx="362.2" cy="196.7"/><circle cx="441.7" cy="194.0"/><circle cx="409.4" cy="189.8"/><circle cx="418.4" cy="183.2"/><circle cx="388.5" cy="190.4"/><circle cx="375.1" cy="194.6"/><circle cx="583.0" cy="177.1"/><circle cx="358.5" cy="191.9"/><circle cx="324.9" cy="187.2"/><circle cx="300.2" cy="198.1"/><circle cx="421.6" cy="177.8"/><circle cx="464.8" cy="170.0"/><circle cx="360.5" cy="192.2"/><circle cx="575.6" cy="193.2"/><circle cx="418.1" cy="173.6"/><circle cx="423.9" cy="187.1"/><circle cx="364.1" cy="201.3"/><circle cx="493.9" cy="173.8"/><circle cx="420.7" cy="189.1"/><circle cx="558.5" cy="183.2"/><circle cx="471.6" cy="197.8"/><circle cx="377.1" cy="200.3"/><circle cx="331.2" cy="193.8"/><circle cx="394.7" cy="204.0"/><circle cx="399.1" cy="186.8"/><circle cx="334.5" cy="193.5"/><circle cx="313.8" cy="172.3"/><circle cx="384.2" cy="180.8"/><circle cx="462.2" cy="167.8"/><circle cx="533.7" cy="185.8"/><circle cx="409.9" cy="197.2"/><circle cx="412.0" cy="201.9"/><circle cx="372.2" cy="199.2"/><circle cx="503.2" cy="157.6"/><circle cx="451.2" cy="197.2"/><circle cx="370.9" cy="197.1"/><circle cx="422.5" cy="188.3"/><circle cx="518.8" cy="166.1"/><circle cx="336.0" cy="195.8"/><circle cx="330.3" cy="183.1"/><circle cx="430.8" cy="181.6"/><circle cx="514.7" cy="194.8"/><circle cx="254.7" cy="169.6"/><circle cx="594.7" cy="183.6"/><circle cx="393.8" cy="178.9"/><circle cx="349.3" cy="203.8"/><circle cx="351.5" cy="193.3"/><circle cx="357.6" cy="185.4"/><circle cx="435.1" cy="167.6"/><circle cx="364.3" cy="178.8"/><circle cx="333.3" cy="165.1"/><circle cx="351.8" cy="169.3"/><circle cx="401.4" cy="186.1"/><circle cx="503.2" cy="195.9"/><circle cx="328.6" cy="191.8"/><circle cx="313.9" cy="167.0"/><circle cx="319.3" cy="200.8"/><circle cx="266.1" cy="175.8"/><circle cx="325.6" cy="185.1"/><circle cx="418.5" cy="183.8"/><circle cx="398.5" cy="187.7"/><circle cx="397.0" cy="166.5"/><circle cx="551.8" cy="189.7"/><circle cx="409.9" cy="203.4"/><circle cx="421.7" cy="183.4"/><circle cx="415.4" cy="175.2"/><circle cx="486.4" cy="169.2"/><circle cx="513.8" cy="186.4"/><circle cx="430.1" cy="173.1"/><circle cx="349.8" cy="171.2"/><circle cx="533.3" cy="203.3"/><circle cx="422.4" cy="184.3"/><circle cx="323.2" cy="186.7"/><circle cx="420.7" cy="170.2"/><circle cx="429.1" cy="174.8"/><circle cx="499.1" cy="206.3"/><circle cx="419.4" cy="169.6"/><circle cx="407.0" cy="197.3"/><circle cx="458.4" cy="188.2"/><circle cx="473.2" cy="194.9"/><circle cx="502.0" cy="167.2"/><circle cx="416.5" cy="182.6"/><circle cx="385.9" cy="198.2"/><circle cx="365.1" cy="215.6"/><circle cx="471.7" cy="182.6"/><circle cx="518.1" cy="212.3"/><circle cx="539.0" cy="173.9"/><circle cx="326.4" cy="211.8"/><circle cx="329.6" cy="167.2"/><circle cx="508.0" cy="206.4"/><circle cx="354.7" cy="201.2"/><circle cx="375.7" cy="179.4"/><circle cx="413.6" cy="171.2"/><circle cx="438.0" cy="204.1"/><circle cx="395.5" cy="194.2"/><circle cx="363.7" cy="178.0"/><circle cx="484.0" cy="170.2"/><circle cx="387.9" cy="173.8"/><circle cx="455.0" cy="179.5"/><circle cx="486.4" cy="181.0"/><circle cx="571.8" cy="173.9"/><circle cx="352.1" cy="173.1"/><circle cx="579.5" cy="193.3"/><circle cx="366.8" cy="181.5"/><circle cx="410.6" cy="191.5"/><circle cx="348.7" cy="177.3"/><circle cx="453.1" cy="195.2"/><circle cx="514.0" cy="178.7"/><circle cx="587.7" cy="179.0"/><circle cx="390.9" cy="193.8"/><circle cx="499.7" cy="155.5"/><circle cx="392.5" cy="182.7"/><circle cx="473.8" cy="185.4"/><circle cx="375.6" cy="179.8"/><circle cx="624.5" cy="183.8"/><circle cx="427.2" cy="192.3"/><circle cx="604.1" cy="172.5"/><circle cx="563.3" cy="209.2"/><circle cx="345.1" cy="174.7"/><circle cx="554.8" cy="164.7"/><circle cx="417.4" cy="169.8"/><circle cx="390.6" cy="200.9"/><circle cx="375.2" cy="198.1"/><circle cx="417.1" cy="158.3"/><circle cx="453.8" cy="156.9"/><circle cx="299.1" cy="178.7"/><circle cx="543.9" cy="184.8"/><circle cx="400.5" cy="178.4"/><circle cx="508.5" cy="190.5"/><circle cx="348.5" cy="191.3"/><circle cx="597.6" cy="178.6"/><circle cx="274.1" cy="193.5"/><circle cx="547.7" cy="182.9"/><circle cx="455.1" cy="197.5"/><circle cx="483.8" cy="164.5"/><circle cx="425.0" cy="178.6"/><circle cx="404.5" cy="199.4"/><circle cx="404.8" cy="172.7"/><circle cx="414.5" cy="194.6"/><circle cx="519.0" cy="164.6"/><circle cx="492.9" cy="180.5"/><circle cx="374.3" cy="175.4"/><circle cx="381.6" cy="204.4"/><circle cx="377.4" cy="178.9"/><circle cx="458.5" cy="182.1"/><circle cx="347.1" cy="199.8"/><circle cx="365.5" cy="194.6"/><circle cx="347.1" cy="179.4"/><circle cx="455.8" cy="173.8"/><circle cx="493.5" cy="158.6"/><circle cx="430.4" cy="180.4"/><circle cx="382.7" cy="203.5"/><circle cx="317.5" cy="191.4"/><circle cx="468.2" cy="185.4"/><circle cx="284.8" cy="189.3"/><circle cx="403.0" cy="179.2"/><circle cx="445.2" cy="180.5"/><circle cx="402.8" cy="164.3"/><circle cx="509.3" cy="195.8"/><circle cx="357.5" cy="215.9"/><circle cx="414.2" cy="214.3"/><circle cx="504.1" cy="198.1"/><circle cx="498.3" cy="208.3"/><circle cx="413.4" cy="210.4"/><circle cx="400.6" cy="217.0"/><circle cx="468.1" cy="179.6"/><circle cx="373.5" cy="192.6"/><circle cx="293.5" cy="213.0"/><circle cx="584.6" cy="190.0"/><circle cx="436.7" cy="198.7"/><circle cx="315.6" cy="158.8"/><circle cx="352.1" cy="209.0"/><circle cx="523.1" cy="179.3"/><circle cx="297.9" cy="196.2"/><circle cx="409.2" cy="200.5"/><circle cx="391.1" cy="188.0"/><circle cx="435.5" cy="178.8"/><circle cx="498.4" cy="203.2"/><circle cx="531.6" cy="197.8"/><circle cx="379.9" cy="173.2"/><circle cx="403.0" cy="192.0"/><circle cx="510.3" cy="174.5"/><circle cx="492.7" cy="186.4"/><circle cx="441.2" cy="190.5"/><circle cx="550.9" cy="163.1"/><circle cx="381.4" cy="196.5"/><circle cx="434.1" cy="191.0"/><circle cx="402.4" cy="169.0"/><circle cx="289.0" cy="195.0"/><circle cx="376.8" cy="186.5"/><circle cx="376.2" cy="183.9"/><circle cx="554.0" cy="191.3"/><circle cx="410.3" cy="187.3"/><circle cx="480.6" cy="164.9"/><circle cx="414.8" cy="176.5"/><circle cx="443.5" cy="173.1"/><circle cx="399.2" cy="177.0"/><circle cx="488.3" cy="179.7"/><circle cx="401.4" cy="181.7"/><circle cx="422.3" cy="176.3"/><circle cx="368.9" cy="191.3"/><circle cx="326.1" cy="182.3"/><circle cx="327.7" cy="192.8"/><circle cx="315.7" cy="205.7"/><circle cx="387.6" cy="192.0"/><circle cx="451.9" cy="182.2"/><circle cx="562.4" cy="180.2"/><circle cx="446.3" cy="174.2"/><circle cx="342.0" cy="197.6"/><circle cx="490.4" cy="187.6"/><circle cx="386.3" cy="196.2"/><circle cx="386.1" cy="187.0"/><circle cx="562.5" cy="186.9"/><circle cx="402.8" cy="193.6"/><circle cx="322.6" cy="203.0"/><circle cx="504.6" cy="198.2"/><circle cx="519.9" cy="183.7"/><circle cx="457.4" cy="182.1"/><circle cx="571.6" cy="188.1"/><circle cx="450.7" cy="168.9"/><circle cx="440.2" cy="183.2"/><circle cx="475.8" cy="195.3"/><circle cx="403.6" cy="191.9"/><circle cx="263.6" cy="199.3"/><circle cx="317.8" cy="180.4"/><circle cx="586.4" cy="162.7"/><circle cx="337.8" cy="190.2"/><circle cx="421.3" cy="177.6"/><circle cx="530.4" cy="173.4"/><circle cx="340.3" cy="173.2"/><circle cx="337.7" cy="184.6"/><circle cx="443.2" cy="168.5"/><circle cx="531.1" cy="205.8"/><circle cx="509.7" cy="162.1"/><circle cx="465.0" cy="211.0"/><circle cx="463.3" cy="190.0"/><circle cx="420.5" cy="191.7"/><circle cx="380.0" cy="186.4"/><circle cx="336.9" cy="180.9"/><circle cx="452.5" cy="186.5"/><circle cx="457.6" cy="188.3"/><circle cx="454.4" cy="175.2"/><circle cx="311.6" cy="200.5"/><circle cx="359.1" cy="187.2"/><circle cx="367.3" cy="184.9"/><circle cx="465.0" cy="152.8"/><circle cx="248.2" cy="172.9"/><circle cx="311.2" cy="197.5"/><circle cx="458.5" cy="201.3"/><circle cx="512.1" cy="182.6"/><circle cx="382.3" cy="159.9"/><circle cx="550.5" cy="198.2"/><circle cx="561.8" cy="201.1"/><circle cx="450.7" cy="212.3"/><circle cx="407.0" cy="186.0"/><circle cx="473.6" cy="190.4"/><circle cx="341.8" cy="190.7"/><circle cx="397.9" cy="191.8"/><circle cx="537.1" cy="207.4"/><circle cx="357.0" cy="182.4"/><circle cx="306.7" cy="181.5"/><circle cx="444.3" cy="186.3"/><circle cx="387.6" cy="196.5"/><circle cx="359.1" cy="185.9"/><circle cx="467.9" cy="193.4"/><circle cx="363.2" cy="182.6"/><circle cx="429.5" cy="192.1"/><circle cx="411.4" cy="194.6"/><circle cx="458.5" cy="157.5"/><circle cx="472.1" cy="166.7"/><circle cx="488.7" cy="177.5"/><circle cx="441.8" cy="175.4"/><circle cx="423.0" cy="179.0"/><circle cx="299.4" cy="165.4"/><circle cx="417.1" cy="179.2"/><circle cx="351.3" cy="177.2"/><circle cx="452.4" cy="171.2"/><circle cx="371.7" cy="164.5"/><circle cx="394.0" cy="175.3"/><circle cx="379.9" cy="181.8"/><circle cx="415.2" cy="156.8"/><circle cx="414.6" cy="187.5"/><circle cx="393.1" cy="184.9"/><circle cx="493.0" cy="196.7"/><circle cx="494.9" cy="166.2"/><circle cx="450.4" cy="209.7"/><circle cx="485.7" cy="181.4"/><circle cx="351.6" cy="171.8"/><circle cx="360.4" cy="195.1"/><circle cx="366.7" cy="195.3"/><circle cx="334.6" cy="198.7"/><circle cx="549.7" cy="196.1"/><circle cx="309.3" cy="183.5"/><circle cx="460.3" cy="169.8"/><circle cx="429.2" cy="190.7"/><circle cx="557.9" cy="202.0"/><circle cx="437.5" cy="198.1"/><circle cx="301.3" cy="178.3"/><circle cx="468.4" cy="193.9"/><circle cx="579.6" cy="191.6"/><circle cx="479.2" cy="159.9"/><circle cx="469.8" cy="204.9"/><circle cx="344.7" cy="181.9"/><circle cx="483.2" cy="183.4"/><circle cx="466.3" cy="187.1"/><circle cx="469.1" cy="196.1"/><circle cx="366.2" cy="184.7"/><circle cx="492.6" cy="191.1"/><circle cx="432.3" cy="169.2"/><circle cx="420.2" cy="174.6"/><circle cx="435.1" cy="200.0"/><circle cx="307.7" cy="194.5"/><circle cx="329.2" cy="196.5"/><circle cx="386.8" cy="176.6"/><circle cx="389.6" cy="191.5"/><circle cx="524.4" cy="175.8"/><circle cx="373.0" cy="194.7"/><circle cx="416.3" cy="187.3"/><circle cx="390.5" cy="168.4"/><circle cx="445.8" cy="186.1"/><circle cx="390.3" cy="170.4"/><circle cx="388.5" cy="195.8"/><circle cx="522.1" cy="172.2"/><circle cx="403.2" cy="186.5"/><circle cx="432.6" cy="187.4"/><circle cx="442.5" cy="200.5"/><circle cx="459.6" cy="185.4"/><circle cx="293.4" cy="180.9"/><circle cx="370.4" cy="204.6"/><circle cx="402.3" cy="193.9"/><circle cx="421.5" cy="186.7"/><circle cx="486.9" cy="177.7"/><circle cx="385.6" cy="161.7"/><circle cx="537.3" cy="174.4"/><circle cx="473.7" cy="193.6"/><circle cx="304.4" cy="194.7"/><circle cx="468.8" cy="179.2"/><circle cx="589.5" cy="167.3"/><circle cx="403.2" cy="191.7"/><circle cx="322.2" cy="165.0"/><circle cx="468.9" cy="200.1"/><circle cx="447.3" cy="184.2"/><circle cx="523.6" cy="179.1"/><circle cx="381.9" cy="180.5"/><circle cx="356.0" cy="170.1"/><circle cx="389.6" cy="189.8"/><circle cx="451.1" cy="212.1"/><circle cx="453.6" cy="193.7"/><circle cx="440.0" cy="152.3"/><circle cx="589.3" cy="184.5"/><circle cx="402.8" cy="215.7"/><circle cx="458.8" cy="187.0"/><circle cx="411.6" cy="191.0"/><circle cx="353.2" cy="176.8"/><circle cx="412.9" cy="192.7"/><circle cx="402.6" cy="167.3"/><circle cx="444.4" cy="186.9"/><circle cx="414.7" cy="200.4"/><circle cx="433.8" cy="175.9"/><circle cx="437.6" cy="196.4"/><circle cx="469.5" cy="169.6"/><circle cx="430.6" cy="162.1"/><circle cx="503.6" cy="162.2"/><circle cx="372.9" cy="188.4"/><circle cx="426.2" cy="178.7"/><circle cx="407.6" cy="193.2"/><circle cx="311.0" cy="177.6"/><circle cx="403.4" cy="181.7"/><circle cx="375.8" cy="183.1"/><circle cx="377.8" cy="198.5"/><circle cx="366.4" cy="181.1"/><circle cx="516.7" cy="164.1"/><circle cx="471.1" cy="182.6"/><circle cx="388.2" cy="212.7"/><circle cx="452.1" cy="188.2"/><circle cx="394.9" cy="194.4"/><circle cx="572.1" cy="183.5"/><circle cx="455.2" cy="187.8"/><circle cx="324.0" cy="169.7"/><circle cx="488.0" cy="172.5"/><circle cx="400.7" cy="189.4"/><circle cx="393.4" cy="159.7"/><circle cx="410.1" cy="206.3"/><circle cx="368.9" cy="158.0"/><circle cx="384.0" cy="180.9"/><circle cx="489.0" cy="175.7"/><circle cx="396.2" cy="192.0"/><circle cx="326.9" cy="191.3"/><circle cx="532.6" cy="178.3"/><circle cx="398.7" cy="167.4"/><circle cx="437.3" cy="201.0"/><circle cx="331.0" cy="181.5"/><circle cx="286.3" cy="176.3"/><circle cx="462.6" cy="168.7"/><circle cx="283.3" cy="195.4"/><circle cx="380.6" cy="195.6"/><circle cx="448.0" cy="197.5"/><circle cx="523.9" cy="188.1"/><circle cx="369.3" cy="169.1"/><circle cx="433.4" cy="192.4"/><circle cx="375.3" cy="171.4"/><circle cx="501.9" cy="194.8"/><circle cx="468.2" cy="185.9"/><circle cx="344.8" cy="181.6"/><circle cx="485.4" cy="180.7"/><circle cx="330.7" cy="196.4"/><circle cx="484.8" cy="183.7"/><circle cx="446.1" cy="183.3"/><circle cx="344.4" cy="194.8"/><circle cx="378.5" cy="175.1"/><circle cx="443.8" cy="213.3"/><circle cx="415.2" cy="177.5"/><circle cx="394.0" cy="174.8"/><circle cx="475.3" cy="209.9"/><circle cx="520.1" cy="175.8"/><circle cx="379.5" cy="201.8"/><circle cx="345.4" cy="167.5"/><circle cx="517.6" cy="199.1"/><circle cx="452.7" cy="203.8"/><circle cx="388.8" cy="189.4"/><circle cx="400.0" cy="200.6"/><circle cx="343.0" cy="198.0"/><circle cx="401.0" cy="185.7"/><circle cx="523.7" cy="187.2"/><circle cx="276.1" cy="195.9"/><circle cx="290.5" cy="208.8"/><circle cx="355.2" cy="196.4"/><circle cx="563.8" cy="187.9"/><circle cx="409.0" cy="210.3"/><circle cx="409.0" cy="182.4"/><circle cx="410.3" cy="166.0"/><circle cx="394.8" cy="157.0"/><circle cx="381.0" cy="173.2"/><circle cx="475.4" cy="176.2"/><circle cx="329.0" cy="212.7"/><circle cx="398.0" cy="163.9"/><circle cx="327.3" cy="190.8"/><circle cx="501.6" cy="174.4"/><circle cx="234.2" cy="185.2"/><circle cx="448.1" cy="201.5"/><circle cx="232.9" cy="180.0"/><circle cx="466.1" cy="180.0"/><circle cx="353.9" cy="207.4"/><circle cx="445.6" cy="184.8"/><circle cx="436.5" cy="187.2"/><circle cx="475.6" cy="162.1"/><circle cx="268.2" cy="179.1"/><circle cx="490.7" cy="211.0"/><circle cx="340.2" cy="215.7"/><circle cx="499.2" cy="176.7"/><circle cx="426.3" cy="185.3"/><circle cx="585.2" cy="184.9"/><circle cx="511.2" cy="176.4"/><circle cx="418.8" cy="169.5"/><circle cx="389.0" cy="209.7"/><circle cx="292.0" cy="179.9"/><circle cx="354.6" cy="172.9"/><circle cx="392.5" cy="176.4"/><circle cx="438.4" cy="183.8"/><circle cx="373.7" cy="175.7"/><circle cx="475.7" cy="172.0"/><circle cx="316.2" cy="182.9"/><circle cx="390.9" cy="183.3"/><circle cx="431.9" cy="153.2"/><circle cx="340.0" cy="172.5"/><circle cx="299.0" cy="189.9"/><circle cx="478.6" cy="187.1"/><circle cx="255.5" cy="191.8"/><circle cx="303.5" cy="212.4"/><circle cx="364.8" cy="182.6"/><circle cx="279.7" cy="197.4"/><circle cx="425.0" cy="190.4"/><circle cx="409.4" cy="170.9"/><circle cx="455.6" cy="192.9"/><circle cx="481.7" cy="175.9"/><circle cx="489.0" cy="182.2"/><circle cx="287.7" cy="179.2"/><circle cx="416.8" cy="199.2"/><circle cx="442.0" cy="196.8"/><circle cx="497.3" cy="189.8"/><circle cx="421.1" cy="175.0"/><circle cx="397.3" cy="164.3"/><circle cx="402.5" cy="180.8"/><circle cx="424.4" cy="197.3"/><circle cx="395.4" cy="182.8"/><circle cx="358.9" cy="194.6"/><circle cx="521.8" cy="176.1"/><circle cx="290.1" cy="183.3"/><circle cx="460.2" cy="166.4"/><circle cx="408.2" cy="187.4"/><circle cx="385.4" cy="204.2"/><circle cx="280.1" cy="158.5"/><circle cx="601.9" cy="171.3"/><circle cx="480.5" cy="178.9"/><circle cx="532.6" cy="198.1"/><circle cx="389.2" cy="205.3"/><circle cx="338.1" cy="173.4"/><circle cx="366.9" cy="173.9"/><circle cx="354.3" cy="171.2"/><circle cx="395.6" cy="185.0"/><circle cx="401.5" cy="189.0"/><circle cx="476.7" cy="174.9"/><circle cx="522.9" cy="194.1"/><circle cx="408.6" cy="202.5"/><circle cx="480.5" cy="180.6"/><circle cx="282.1" cy="204.7"/><circle cx="511.7" cy="172.5"/><circle cx="388.1" cy="191.0"/><circle cx="345.0" cy="193.8"/><circle cx="381.5" cy="171.1"/><circle cx="424.2" cy="169.0"/><circle cx="525.6" cy="176.4"/><circle cx="357.8" cy="197.4"/><circle cx="289.1" cy="157.8"/><circle cx="523.9" cy="186.8"/><circle cx="396.3" cy="183.1"/><circle cx="348.2" cy="196.7"/><circle cx="431.5" cy="187.9"/><circle cx="287.3" cy="181.2"/><circle cx="487.5" cy="196.7"/><circle cx="415.5" cy="165.0"/><circle cx="364.4" cy="193.3"/><circle cx="404.0" cy="176.2"/><circle cx="372.1" cy="165.8"/><circle cx="420.1" cy="182.7"/><circle cx="338.6" cy="198.8"/><circle cx="348.8" cy="192.1"/><circle cx="476.6" cy="185.3"/><circle cx="469.8" cy="180.2"/><circle cx="228.3" cy="185.7"/><circle cx="393.4" cy="210.7"/><circle cx="348.3" cy="191.5"/><circle cx="497.5" cy="193.2"/><circle cx="363.1" cy="188.6"/><circle cx="356.0" cy="171.4"/><circle cx="386.0" cy="183.8"/><circle cx="504.5" cy="178.0"/><circle cx="344.2" cy="202.6"/><circle cx="381.5" cy="189.7"/><circle cx="457.6" cy="162.1"/><circle cx="352.0" cy="202.8"/><circle cx="454.7" cy="193.5"/><circle cx="365.0" cy="182.9"/><circle cx="327.3" cy="187.9"/><circle cx="439.4" cy="210.6"/><circle cx="410.8" cy="191.8"/><circle cx="447.4" cy="209.3"/><circle cx="373.2" cy="178.4"/><circle cx="355.0" cy="197.1"/><circle cx="387.4" cy="188.4"/><circle cx="506.6" cy="189.2"/><circle cx="289.0" cy="192.6"/><circle cx="395.5" cy="184.6"/><circle cx="535.3" cy="183.1"/><circle cx="361.4" cy="199.5"/><circle cx="510.0" cy="173.8"/><circle cx="482.2" cy="179.1"/><circle cx="456.2" cy="202.0"/><circle cx="415.1" cy="186.1"/><circle cx="297.4" cy="184.8"/><circle cx="304.0" cy="165.7"/><circle cx="367.3" cy="189.5"/><circle cx="350.5" cy="199.5"/><circle cx="430.1" cy="205.5"/><circle cx="286.6" cy="192.1"/><circle cx="398.7" cy="194.2"/><circle cx="273.5" cy="195.2"/><circle cx="415.5" cy="187.4"/><circle cx="229.9" cy="196.0"/><circle cx="416.0" cy="177.5"/><circle cx="517.4" cy="153.8"/><circle cx="434.7" cy="191.6"/><circle cx="322.8" cy="191.8"/><circle cx="340.9" cy="183.3"/><circle cx="490.5" cy="196.1"/><circle cx="268.8" cy="178.8"/><circle cx="358.0" cy="184.3"/><circle cx="374.9" cy="158.2"/><circle cx="405.7" cy="187.9"/><circle cx="441.4" cy="185.0"/><circle cx="278.4" cy="185.6"/><circle cx="398.1" cy="180.8"/><circle cx="399.7" cy="207.8"/><circle cx="582.5" cy="181.9"/><circle cx="429.7" cy="168.1"/><circle cx="438.8" cy="207.8"/><circle cx="461.7" cy="195.2"/><circle cx="441.8" cy="185.8"/><circle cx="455.1" cy="212.2"/><circle cx="493.5" cy="186.4"/><circle cx="422.8" cy="165.5"/><circle cx="513.8" cy="200.1"/><circle cx="514.6" cy="167.1"/><circle cx="376.1" cy="185.3"/><circle cx="391.4" cy="188.0"/><circle cx="504.2" cy="193.3"/><circle cx="565.2" cy="175.2"/><circle cx="432.3" cy="164.1"/><circle cx="448.2" cy="189.9"/><circle cx="529.3" cy="186.0"/><circle cx="455.7" cy="174.0"/><circle cx="489.8" cy="196.9"/><circle cx="238.4" cy="182.4"/><circle cx="413.5" cy="190.9"/><circle cx="477.6" cy="208.7"/><circle cx="419.7" cy="198.2"/><circle cx="595.0" cy="194.6"/><circle cx="478.8" cy="211.8"/><circle cx="295.7" cy="196.4"/><circle cx="531.9" cy="168.1"/><circle cx="257.0" cy="170.0"/><circle cx="345.0" cy="211.4"/><circle cx="434.5" cy="183.6"/><circle cx="525.2" cy="181.9"/><circle cx="363.2" cy="161.6"/><circle cx="440.0" cy="182.2"/><circle cx="411.5" cy="182.7"/><circle cx="524.1" cy="185.7"/><circle cx="478.0" cy="184.1"/><circle cx="444.1" cy="188.9"/><circle cx="394.8" cy="187.5"/><circle cx="571.5" cy="175.8"/><circle cx="307.7" cy="172.8"/><circle cx="459.6" cy="188.6"/><circle cx="477.9" cy="191.6"/><circle cx="468.5" cy="195.0"/><circle cx="465.6" cy="218.6"/><circle cx="383.5" cy="171.7"/><circle cx="443.0" cy="165.0"/><circle cx="335.3" cy="191.5"/><circle cx="431.2" cy="189.9"/><circle cx="388.0" cy="206.9"/><circle cx="560.4" cy="190.3"/><circle cx="458.8" cy="185.4"/><circle cx="390.8" cy="189.3"/><circle cx="441.2" cy="172.6"/><circle cx="323.9" cy="193.4"/><circle cx="412.6" cy="178.6"/><circle cx="528.8" cy="182.4"/><circle cx="488.1" cy="172.3"/><circle cx="314.0" cy="214.3"/><circle cx="360.0" cy="191.8"/><circle cx="505.9" cy="183.2"/><circle cx="519.9" cy="190.7"/><circle cx="376.7" cy="180.4"/><circle cx="320.2" cy="188.0"/><circle cx="408.7" cy="181.6"/><circle cx="508.9" cy="202.1"/><circle cx="447.7" cy="175.0"/><circle cx="561.7" cy="181.7"/><circle cx="426.8" cy="191.0"/><circle cx="397.8" cy="163.7"/><circle cx="418.4" cy="160.8"/><circle cx="475.8" cy="203.8"/><circle cx="382.4" cy="188.3"/><circle cx="310.9" cy="193.7"/><circle cx="559.8" cy="169.9"/><circle cx="462.0" cy="180.4"/><circle cx="449.2" cy="194.0"/><circle cx="486.1" cy="184.2"/><circle cx="437.6" cy="169.8"/><circle cx="415.1" cy="191.5"/><circle cx="349.8" cy="196.9"/><circle cx="244.5" cy="189.6"/><circle cx="375.8" cy="177.7"/><circle cx="467.5" cy="187.7"/><circle cx="275.9" cy="206.2"/><circle cx="264.7" cy="167.2"/><circle cx="410.6" cy="194.9"/><circle cx="386.2" cy="186.1"/><circle cx="339.7" cy="192.7"/><circle cx="436.1" cy="181.2"/><circle cx="365.6" cy="189.7"/><circle cx="333.9" cy="192.5"/><circle cx="400.8" cy="180.3"/><circle cx="415.0" cy="203.8"/><circle cx="467.7" cy="188.7"/><circle cx="469.0" cy="161.7"/><circle cx="328.6" cy="209.0"/><circle cx="358.2" cy="184.2"/><circle cx="465.7" cy="185.4"/><circle cx="427.6" cy="186.1"/><circle cx="382.4" cy="215.4"/><circle cx="441.9" cy="202.5"/><circle cx="555.0" cy="197.4"/><circle cx="368.8" cy="195.3"/><circle cx="516.6" cy="197.0"/><circle cx="483.0" cy="191.7"/><circle cx="422.7" cy="194.3"/><circle cx="321.4" cy="193.7"/><circle cx="334.1" cy="188.8"/><circle cx="335.0" cy="189.9"/><circle cx="416.6" cy="187.4"/><circle cx="477.4" cy="196.2"/><circle cx="347.5" cy="194.3"/><circle cx="405.1" cy="180.1"/><circle cx="525.0" cy="192.3"/><circle cx="501.8" cy="177.8"/><circle cx="291.1" cy="190.7"/><circle cx="352.0" cy="178.0"/><circle cx="456.6" cy="190.9"/><circle cx="327.4" cy="195.4"/><circle cx="494.3" cy="191.7"/><circle cx="324.3" cy="171.3"/><circle cx="423.4" cy="190.0"/><circle cx="315.8" cy="188.5"/><circle cx="494.8" cy="190.2"/><circle cx="235.9" cy="196.5"/><circle cx="264.2" cy="177.1"/><circle cx="461.2" cy="208.5"/><circle cx="542.3" cy="175.7"/><circle cx="333.7" cy="185.5"/><circle cx="421.8" cy="195.5"/><circle cx="456.9" cy="202.5"/><circle cx="416.2" cy="197.4"/><circle cx="303.9" cy="202.2"/><circle cx="355.8" cy="172.1"/><circle cx="359.1" cy="188.2"/><circle cx="384.6" cy="182.4"/><circle cx="502.2" cy="155.9"/><circle cx="518.3" cy="182.3"/><circle cx="533.4" cy="180.7"/><circle cx="487.5" cy="176.8"/><circle cx="369.1" cy="155.0"/><circle cx="353.3" cy="190.1"/><circle cx="343.6" cy="193.7"/><circle cx="397.0" cy="175.4"/><circle cx="377.8" cy="173.9"/><circle cx="347.4" cy="155.6"/><circle cx="276.1" cy="176.9"/><circle cx="350.0" cy="169.8"/><circle cx="301.7" cy="173.0"/><circle cx="334.8" cy="184.3"/><circle cx="475.4" cy="156.3"/><circle cx="455.3" cy="189.9"/><circle cx="561.7" cy="180.3"/><circle cx="472.6" cy="179.2"/><circle cx="292.4" cy="188.5"/><circle cx="354.2" cy="210.3"/><circle cx="403.8" cy="186.6"/><circle cx="476.1" cy="198.3"/><circle cx="493.1" cy="185.0"/><circle cx="530.4" cy="179.0"/><circle cx="457.9" cy="182.6"/><circle cx="605.6" cy="175.9"/><circle cx="297.7" cy="173.3"/><circle cx="336.1" cy="193.0"/><circle cx="471.2" cy="193.5"/><circle cx="480.9" cy="180.8"/><circle cx="350.4" cy="208.7"/><circle cx="359.1" cy="196.7"/><circle cx="471.6" cy="182.5"/><circle cx="486.9" cy="176.5"/><circle cx="466.7" cy="184.8"/><circle cx="487.9" cy="170.4"/><circle cx="394.1" cy="207.9"/><circle cx="353.5" cy="181.6"/><circle cx="312.1" cy="180.6"/><circle cx="536.4" cy="207.9"/><circle cx="433.4" cy="169.4"/><circle cx="448.3" cy="186.5"/><circle cx="336.1" cy="212.2"/><circle cx="417.1" cy="179.2"/><circle cx="476.9" cy="198.6"/><circle cx="490.8" cy="202.5"/><circle cx="374.6" cy="193.1"/><circle cx="472.1" cy="177.2"/><circle cx="426.4" cy="188.9"/><circle cx="385.6" cy="213.9"/><circle cx="333.7" cy="192.2"/><circle cx="323.0" cy="173.6"/><circle cx="541.9" cy="172.3"/><circle cx="409.6" cy="188.5"/><circle cx="286.7" cy="188.4"/><circle cx="333.4" cy="194.1"/><circle cx="423.2" cy="175.8"/><circle cx="437.6" cy="192.1"/><circle cx="358.7" cy="190.0"/><circle cx="357.4" cy="192.1"/><circle cx="455.4" cy="215.6"/><circle cx="299.2" cy="178.1"/><circle cx="377.9" cy="202.8"/><circle cx="510.7" cy="170.7"/><circle cx="399.8" cy="186.7"/><circle cx="437.4" cy="203.1"/><circle cx="520.3" cy="202.7"/><circle cx="407.7" cy="200.6"/><circle cx="298.9" cy="193.9"/><circle cx="287.5" cy="167.4"/><circle cx="441.1" cy="194.0"/><circle cx="322.0" cy="178.9"/><circle cx="376.0" cy="173.0"/><circle cx="402.5" cy="197.6"/><circle cx="429.4" cy="181.9"/><circle cx="400.1" cy="171.4"/><circle cx="356.5" cy="207.3"/><circle cx="340.3" cy="178.7"/><circle cx="384.4" cy="183.5"/><circle cx="306.4" cy="173.7"/><circle cx="507.7" cy="194.8"/><circle cx="498.1" cy="174.3"/><circle cx="524.1" cy="192.6"/><circle cx="530.5" cy="185.1"/><circle cx="411.2" cy="192.2"/><circle cx="394.9" cy="196.2"/><circle cx="471.2" cy="179.5"/><circle cx="478.9" cy="179.5"/><circle cx="486.7" cy="208.9"/><circle cx="457.8" cy="197.2"/><circle cx="502.4" cy="188.6"/><circle cx="354.7" cy="182.1"/><circle cx="508.6" cy="175.7"/><circle cx="350.0" cy="175.6"/><circle cx="325.1" cy="172.4"/><circle cx="372.6" cy="184.6"/><circle cx="341.3" cy="187.3"/><circle cx="480.7" cy="204.0"/><circle cx="523.2" cy="184.0"/><circle cx="347.3" cy="187.9"/><circle cx="446.8" cy="190.0"/><circle cx="455.7" cy="169.6"/><circle cx="436.8" cy="190.1"/><circle cx="515.6" cy="189.2"/><circle cx="386.8" cy="206.3"/><circle cx="464.6" cy="175.8"/><circle cx="464.1" cy="180.0"/><circle cx="450.6" cy="202.7"/><circle cx="603.6" cy="179.9"/><circle cx="410.8" cy="198.0"/><circle cx="319.0" cy="182.2"/><circle cx="452.2" cy="183.3"/><circle cx="364.3" cy="170.6"/><circle cx="177.5" cy="167.4"/><circle cx="178.0" cy="170.4"/><circle cx="183.5" cy="199.4"/><circle cx="208.8" cy="149.4"/><circle cx="213.3" cy="154.9"/><circle cx="204.0" cy="163.7"/><circle cx="200.5" cy="169.2"/><circle cx="189.5" cy="174.9"/><circle cx="192.5" cy="179.2"/><circle cx="193.3" cy="185.9"/><circle cx="196.8" cy="190.4"/><circle cx="197.5" cy="183.4"/><circle cx="209.3" cy="174.9"/><circle cx="205.8" cy="178.4"/><circle cx="206.8" cy="184.2"/><circle cx="200.0" cy="207.4"/><circle cx="198.0" cy="212.9"/><circle cx="241.8" cy="149.9"/><circle cx="240.5" cy="160.4"/><circle cx="247.5" cy="159.9"/><circle cx="274.5" cy="144.9"/><circle cx="273.8" cy="156.2"/><circle cx="261.0" cy="152.9"/><circle cx="263.0" cy="154.4"/><circle cx="271.8" cy="217.9"/><circle cx="276.0" cy="225.9"/><circle cx="246.8" cy="209.2"/><circle cx="257.5" cy="210.9"/><circle cx="141.3" cy="198.1"/><circle cx="199.3" cy="195.9"/><circle cx="206.3" cy="191.7"/><circle cx="207.5" cy="201.2"/><circle cx="211.8" cy="197.4"/><circle cx="213.8" cy="190.4"/><circle cx="220.0" cy="194.9"/><circle cx="221.3" cy="184.2"/><circle cx="229.5" cy="196.7"/><circle cx="230.0" cy="187.9"/><circle cx="227.0" cy="176.7"/><circle cx="230.0" cy="170.4"/><circle cx="235.0" cy="173.4"/><circle cx="242.0" cy="171.7"/><circle cx="239.5" cy="182.9"/><circle cx="243.0" cy="202.9"/><circle cx="235.0" cy="191.4"/><circle cx="216.0" cy="186.4"/><circle cx="222.0" cy="199.4"/><circle cx="218.0" cy="179.4"/><circle cx="224.0" cy="190.4"/><circle cx="226.0" cy="202.4"/><circle cx="388.8" cy="150.4"/><circle cx="390.5" cy="153.4"/><circle cx="345.5" cy="145.4"/><circle cx="330.0" cy="151.4"/><circle cx="356.5" cy="147.9"/><circle cx="383.0" cy="141.2"/><circle cx="396.0" cy="145.4"/><circle cx="421.8" cy="143.4"/><circle cx="386.0" cy="144.9"/><circle cx="320.5" cy="222.9"/><circle cx="326.0" cy="221.4"/><circle cx="307.5" cy="216.4"/><circle cx="344.5" cy="224.4"/><circle cx="352.5" cy="223.4"/><circle cx="358.8" cy="225.4"/><circle cx="353.8" cy="217.9"/><circle cx="371.0" cy="221.4"/><circle cx="412.5" cy="219.9"/><circle cx="395.0" cy="221.4"/><circle cx="383.0" cy="220.4"/><circle cx="477.0" cy="142.2"/><circle cx="443.3" cy="144.7"/><circle cx="422.5" cy="143.4"/><circle cx="535.8" cy="146.2"/><circle cx="482.0" cy="149.7"/><circle cx="522.0" cy="149.7"/><circle cx="555.0" cy="150.9"/><circle cx="544.0" cy="150.9"/><circle cx="444.3" cy="225.9"/><circle cx="457.0" cy="224.7"/><circle cx="481.8" cy="228.7"/><circle cx="492.5" cy="226.2"/><circle cx="535.0" cy="227.2"/><circle cx="519.3" cy="219.9"/><circle cx="472.5" cy="220.4"/><circle cx="487.5" cy="221.4"/><circle cx="554.5" cy="151.2"/><circle cx="554.3" cy="158.7"/><circle cx="575.0" cy="157.2"/><circle cx="585.8" cy="152.4"/><circle cx="599.3" cy="155.4"/><circle cx="598.3" cy="159.2"/><circle cx="613.8" cy="162.9"/><circle cx="623.8" cy="162.9"/><circle cx="630.0" cy="164.9"/><circle cx="607.5" cy="164.2"/><circle cx="635.0" cy="172.9"/><circle cx="630.0" cy="177.4"/><circle cx="641.3" cy="178.7"/><circle cx="643.8" cy="181.7"/><circle cx="652.5" cy="182.4"/><circle cx="655.5" cy="189.2"/><circle cx="662.5" cy="177.2"/><circle cx="665.0" cy="175.4"/><circle cx="666.3" cy="192.9"/><circle cx="649.5" cy="197.2"/><circle cx="637.0" cy="191.7"/><circle cx="642.5" cy="192.9"/><circle cx="636.3" cy="186.7"/><circle cx="631.3" cy="196.2"/><circle cx="625.5" cy="199.7"/><circle cx="637.0" cy="205.9"/><circle cx="619.5" cy="191.7"/><circle cx="616.3" cy="178.4"/><circle cx="610.0" cy="169.2"/><circle cx="603.8" cy="171.2"/><circle cx="613.8" cy="185.4"/><circle cx="607.0" cy="186.7"/><circle cx="622.5" cy="186.7"/><circle cx="617.5" cy="196.7"/><circle cx="570.0" cy="161.7"/><circle cx="577.5" cy="163.4"/><circle cx="583.8" cy="199.7"/><circle cx="555.0" cy="206.7"/><circle cx="562.5" cy="206.7"/><circle cx="612.0" cy="192.4"/><circle cx="606.0" cy="195.4"/><circle cx="615.0" cy="190.4"/><circle cx="600.0" cy="180.4"/><circle cx="606.8" cy="208.7"/><circle cx="590.8" cy="211.7"/><circle cx="582.0" cy="209.2"/><circle cx="563.0" cy="210.4"/><circle cx="550.0" cy="209.2"/><circle cx="601.3" cy="202.9"/><circle cx="609.5" cy="199.9"/></g>
<circle cx="390.2" cy="26" r="4.6" fill="#ed7d31"/>
<circle cx="387.5" cy="195.3" r="4.6" fill="#ed7d31"/>
<path d="M473 62.8H398" stroke="#4472c4" stroke-width="1.4" fill="none"/>
<path d="M391.6 62.8L401 58.6V67Z" fill="#4472c4"/>
<text x="479.6" y="70.8" font-size="19.1" fill="#000">WTP Threshold</text>
<rect x="159.5" y="12.6" width="175.2" height="29.3" fill="#fff" stroke="#1a1a1a" stroke-width="1.3"/><text x="171.7" y="31.0" font-size="12.8" fill="#000">Less effective, more costly</text><rect x="462.3" y="12.6" width="175.1" height="29.3" fill="#fff" stroke="#1a1a1a" stroke-width="1.3"/><text x="474.6" y="30.8" font-size="12.8" fill="#000">More effective, more costly</text><rect x="163.1" y="339.3" width="175.8" height="29.1" fill="#fff" stroke="#1a1a1a" stroke-width="1.3"/><text x="175.5" y="357.6" font-size="12.8" fill="#000">Less effective, less costly</text><rect x="473.0" y="339.3" width="176.0" height="29.3" fill="#fff" stroke="#1a1a1a" stroke-width="1.3"/><text x="485.8" y="357.2" font-size="12.8" fill="#000">More effective, less costly</text>
</svg>
</body></html>
